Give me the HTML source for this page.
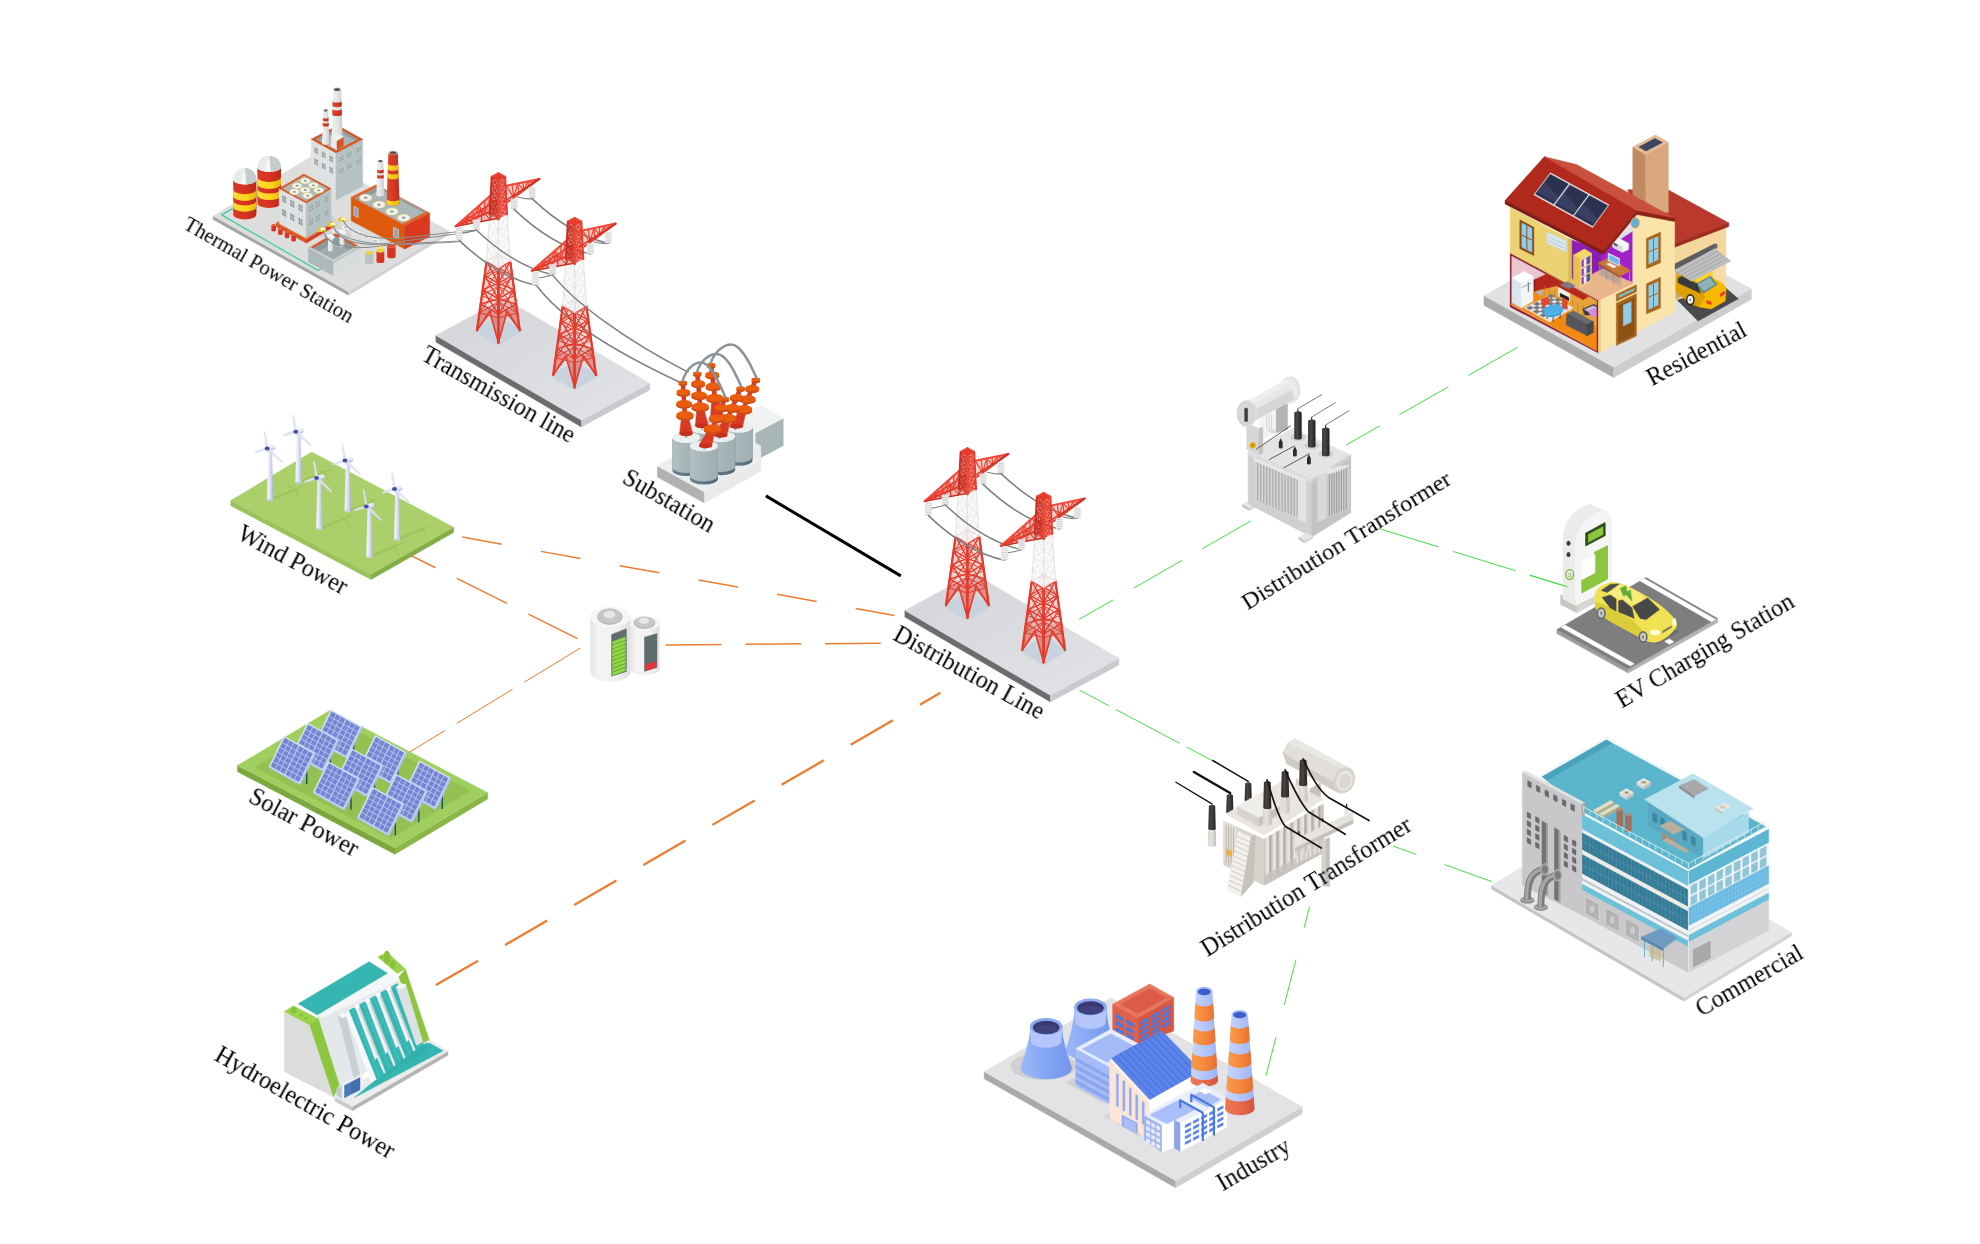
<!DOCTYPE html>
<html><head><meta charset="utf-8"><title>Power grid</title>
<style>
html,body{margin:0;padding:0;background:#fff;}
body{width:1980px;height:1244px;overflow:hidden;font-family:"Liberation Serif",serif;}
svg{display:block}
text{font-family:"Liberation Serif",serif;fill:#000}
</style></head><body>
<svg width="1980" height="1244" viewBox="0 0 1980 1244">
<defs><g id="tower">
<polygon points="-24.3,157.5 0,172.3 24.3,157.5 0,143.7" fill="#C9D2DF" stroke="#C9D2DF" stroke-width="0.5" stroke-linejoin="round"/>
<line x1="-11.8" y1="88" x2="0" y2="97.1" stroke="#C92F22" stroke-width="0.9" stroke-linecap="butt" />
<line x1="0" y1="81.2" x2="-14.2" y2="105.2" stroke="#C92F22" stroke-width="0.9" stroke-linecap="butt" />
<line x1="-11.8" y1="88" x2="0" y2="81.2" stroke="#C92F22" stroke-width="0.9" stroke-linecap="butt" />
<line x1="-14.2" y1="105.2" x2="0" y2="112.9" stroke="#C92F22" stroke-width="0.9" stroke-linecap="butt" />
<line x1="0" y1="97.1" x2="-16.6" y2="122.5" stroke="#C92F22" stroke-width="0.9" stroke-linecap="butt" />
<line x1="-14.2" y1="105.2" x2="0" y2="97.1" stroke="#C92F22" stroke-width="0.9" stroke-linecap="butt" />
<line x1="-16.6" y1="122.5" x2="0" y2="128.8" stroke="#C92F22" stroke-width="0.9" stroke-linecap="butt" />
<line x1="0" y1="112.9" x2="-18.9" y2="139.8" stroke="#C92F22" stroke-width="0.9" stroke-linecap="butt" />
<line x1="-16.6" y1="122.5" x2="0" y2="112.9" stroke="#C92F22" stroke-width="0.9" stroke-linecap="butt" />
<line x1="-18.9" y1="139.8" x2="0" y2="144.7" stroke="#C92F22" stroke-width="0.9" stroke-linecap="butt" />
<line x1="0" y1="128.8" x2="-21.3" y2="157" stroke="#C92F22" stroke-width="0.9" stroke-linecap="butt" />
<line x1="-18.9" y1="139.8" x2="0" y2="128.8" stroke="#C92F22" stroke-width="0.9" stroke-linecap="butt" />
<line x1="-11.8" y1="88" x2="-21.3" y2="157" stroke="#C92F22" stroke-width="1.6" stroke-linecap="round" />
<line x1="0" y1="81.2" x2="0" y2="144.7" stroke="#C92F22" stroke-width="1.6" stroke-linecap="round" />
<line x1="0" y1="81.2" x2="14.2" y2="105.2" stroke="#C92F22" stroke-width="0.9" stroke-linecap="butt" />
<line x1="11.8" y1="88" x2="0" y2="97.1" stroke="#C92F22" stroke-width="0.9" stroke-linecap="butt" />
<line x1="0" y1="81.2" x2="11.8" y2="88" stroke="#C92F22" stroke-width="0.9" stroke-linecap="butt" />
<line x1="0" y1="97.1" x2="16.6" y2="122.5" stroke="#C92F22" stroke-width="0.9" stroke-linecap="butt" />
<line x1="14.2" y1="105.2" x2="0" y2="112.9" stroke="#C92F22" stroke-width="0.9" stroke-linecap="butt" />
<line x1="0" y1="97.1" x2="14.2" y2="105.2" stroke="#C92F22" stroke-width="0.9" stroke-linecap="butt" />
<line x1="0" y1="112.9" x2="18.9" y2="139.8" stroke="#C92F22" stroke-width="0.9" stroke-linecap="butt" />
<line x1="16.6" y1="122.5" x2="0" y2="128.8" stroke="#C92F22" stroke-width="0.9" stroke-linecap="butt" />
<line x1="0" y1="112.9" x2="16.6" y2="122.5" stroke="#C92F22" stroke-width="0.9" stroke-linecap="butt" />
<line x1="0" y1="128.8" x2="21.3" y2="157" stroke="#C92F22" stroke-width="0.9" stroke-linecap="butt" />
<line x1="18.9" y1="139.8" x2="0" y2="144.7" stroke="#C92F22" stroke-width="0.9" stroke-linecap="butt" />
<line x1="0" y1="128.8" x2="18.9" y2="139.8" stroke="#C92F22" stroke-width="0.9" stroke-linecap="butt" />
<line x1="0" y1="81.2" x2="0" y2="144.7" stroke="#C92F22" stroke-width="1.6" stroke-linecap="round" />
<line x1="11.8" y1="88" x2="21.3" y2="157" stroke="#C92F22" stroke-width="1.6" stroke-linecap="round" />
<polygon points="-11.8,88 0,94.8 0,141 -17.7,130.8" fill="#E63A2B" fill-opacity="0.22"/>
<line x1="-11.8" y1="88" x2="0" y2="110.2" stroke="#E63A2B" stroke-width="1.4" stroke-linecap="butt" />
<line x1="0" y1="94.8" x2="-13.8" y2="102.3" stroke="#E63A2B" stroke-width="1.4" stroke-linecap="butt" />
<line x1="-11.8" y1="88" x2="0" y2="94.8" stroke="#E63A2B" stroke-width="1.4" stroke-linecap="butt" />
<line x1="-13.8" y1="102.3" x2="0" y2="125.6" stroke="#E63A2B" stroke-width="1.4" stroke-linecap="butt" />
<line x1="0" y1="110.2" x2="-15.7" y2="116.5" stroke="#E63A2B" stroke-width="1.4" stroke-linecap="butt" />
<line x1="-13.8" y1="102.3" x2="0" y2="110.2" stroke="#E63A2B" stroke-width="1.4" stroke-linecap="butt" />
<line x1="-15.7" y1="116.5" x2="0" y2="141" stroke="#E63A2B" stroke-width="1.4" stroke-linecap="butt" />
<line x1="0" y1="125.6" x2="-17.7" y2="130.8" stroke="#E63A2B" stroke-width="1.4" stroke-linecap="butt" />
<line x1="-15.7" y1="116.5" x2="0" y2="125.6" stroke="#E63A2B" stroke-width="1.4" stroke-linecap="butt" />
<line x1="-11.8" y1="88" x2="-17.7" y2="130.8" stroke="#E63A2B" stroke-width="2.2" stroke-linecap="round" />
<line x1="0" y1="94.8" x2="0" y2="141" stroke="#E63A2B" stroke-width="2.2" stroke-linecap="round" />
<polygon points="-17.7,130.8 -8.8,137.9 -21.3,157" fill="#E63A2B" fill-opacity="0.45"/>
<polygon points="0,141 -8.8,137.9 0,169.3" fill="#E63A2B" fill-opacity="0.45"/>
<line x1="-8.8" y1="137.9" x2="-21.3" y2="157" stroke="#E63A2B" stroke-width="1.6" stroke-linecap="round" />
<line x1="-8.8" y1="137.9" x2="0" y2="169.3" stroke="#E63A2B" stroke-width="1.6" stroke-linecap="round" />
<line x1="-17.7" y1="130.8" x2="-21.3" y2="157" stroke="#E63A2B" stroke-width="2.4" stroke-linecap="round" />
<line x1="0" y1="141" x2="0" y2="169.3" stroke="#E63A2B" stroke-width="2.4" stroke-linecap="round" />
<line x1="-17.7" y1="130.8" x2="0" y2="141" stroke="#E63A2B" stroke-width="1.5" stroke-linecap="butt" />
<polygon points="0,94.8 11.8,88 17.7,130.8 0,141" fill="#E63A2B" fill-opacity="0.22"/>
<line x1="0" y1="94.8" x2="13.8" y2="102.3" stroke="#E63A2B" stroke-width="1.4" stroke-linecap="butt" />
<line x1="11.8" y1="88" x2="0" y2="110.2" stroke="#E63A2B" stroke-width="1.4" stroke-linecap="butt" />
<line x1="0" y1="94.8" x2="11.8" y2="88" stroke="#E63A2B" stroke-width="1.4" stroke-linecap="butt" />
<line x1="0" y1="110.2" x2="15.7" y2="116.5" stroke="#E63A2B" stroke-width="1.4" stroke-linecap="butt" />
<line x1="13.8" y1="102.3" x2="0" y2="125.6" stroke="#E63A2B" stroke-width="1.4" stroke-linecap="butt" />
<line x1="0" y1="110.2" x2="13.8" y2="102.3" stroke="#E63A2B" stroke-width="1.4" stroke-linecap="butt" />
<line x1="0" y1="125.6" x2="17.7" y2="130.8" stroke="#E63A2B" stroke-width="1.4" stroke-linecap="butt" />
<line x1="15.7" y1="116.5" x2="0" y2="141" stroke="#E63A2B" stroke-width="1.4" stroke-linecap="butt" />
<line x1="0" y1="125.6" x2="15.7" y2="116.5" stroke="#E63A2B" stroke-width="1.4" stroke-linecap="butt" />
<line x1="0" y1="94.8" x2="0" y2="141" stroke="#E63A2B" stroke-width="2.2" stroke-linecap="round" />
<line x1="11.8" y1="88" x2="17.7" y2="130.8" stroke="#E63A2B" stroke-width="2.2" stroke-linecap="round" />
<polygon points="0,141 8.8,137.9 0,169.3" fill="#E63A2B" fill-opacity="0.45"/>
<polygon points="17.7,130.8 8.8,137.9 21.3,157" fill="#E63A2B" fill-opacity="0.45"/>
<line x1="8.8" y1="137.9" x2="0" y2="169.3" stroke="#E63A2B" stroke-width="1.6" stroke-linecap="round" />
<line x1="8.8" y1="137.9" x2="21.3" y2="157" stroke="#E63A2B" stroke-width="1.6" stroke-linecap="round" />
<line x1="0" y1="141" x2="0" y2="169.3" stroke="#E63A2B" stroke-width="2.4" stroke-linecap="round" />
<line x1="17.7" y1="130.8" x2="21.3" y2="157" stroke="#E63A2B" stroke-width="2.4" stroke-linecap="round" />
<line x1="0" y1="141" x2="17.7" y2="130.8" stroke="#E63A2B" stroke-width="1.5" stroke-linecap="butt" />
<polygon points="-8.7,41 0,46 8.7,41 11.8,88 0,94.8 -11.8,88" fill="#FAFAFA" fill-opacity="0.8"/>
<line x1="-8.7" y1="41" x2="0" y2="58.2" stroke="#E4E4E4" stroke-width="0.8" stroke-linecap="butt" />
<line x1="0" y1="46" x2="-9.4" y2="52.8" stroke="#E4E4E4" stroke-width="0.8" stroke-linecap="butt" />
<line x1="-8.7" y1="41" x2="0" y2="46" stroke="#E4E4E4" stroke-width="0.8" stroke-linecap="butt" />
<line x1="-9.4" y1="52.8" x2="0" y2="70.4" stroke="#E4E4E4" stroke-width="0.8" stroke-linecap="butt" />
<line x1="0" y1="58.2" x2="-10.2" y2="64.5" stroke="#E4E4E4" stroke-width="0.8" stroke-linecap="butt" />
<line x1="-9.4" y1="52.8" x2="0" y2="58.2" stroke="#E4E4E4" stroke-width="0.8" stroke-linecap="butt" />
<line x1="-10.2" y1="64.5" x2="0" y2="82.6" stroke="#E4E4E4" stroke-width="0.8" stroke-linecap="butt" />
<line x1="0" y1="70.4" x2="-11" y2="76.2" stroke="#E4E4E4" stroke-width="0.8" stroke-linecap="butt" />
<line x1="-10.2" y1="64.5" x2="0" y2="70.4" stroke="#E4E4E4" stroke-width="0.8" stroke-linecap="butt" />
<line x1="-11" y1="76.2" x2="0" y2="94.8" stroke="#E4E4E4" stroke-width="0.8" stroke-linecap="butt" />
<line x1="0" y1="82.6" x2="-11.8" y2="88" stroke="#E4E4E4" stroke-width="0.8" stroke-linecap="butt" />
<line x1="-11" y1="76.2" x2="0" y2="82.6" stroke="#E4E4E4" stroke-width="0.8" stroke-linecap="butt" />
<line x1="-8.7" y1="41" x2="-11.8" y2="88" stroke="#E4E4E4" stroke-width="1.2" stroke-linecap="round" />
<line x1="0" y1="46" x2="0" y2="94.8" stroke="#E4E4E4" stroke-width="1.2" stroke-linecap="round" />
<line x1="0" y1="46" x2="9.4" y2="52.8" stroke="#E4E4E4" stroke-width="0.8" stroke-linecap="butt" />
<line x1="8.7" y1="41" x2="0" y2="58.2" stroke="#E4E4E4" stroke-width="0.8" stroke-linecap="butt" />
<line x1="0" y1="46" x2="8.7" y2="41" stroke="#E4E4E4" stroke-width="0.8" stroke-linecap="butt" />
<line x1="0" y1="58.2" x2="10.2" y2="64.5" stroke="#E4E4E4" stroke-width="0.8" stroke-linecap="butt" />
<line x1="9.4" y1="52.8" x2="0" y2="70.4" stroke="#E4E4E4" stroke-width="0.8" stroke-linecap="butt" />
<line x1="0" y1="58.2" x2="9.4" y2="52.8" stroke="#E4E4E4" stroke-width="0.8" stroke-linecap="butt" />
<line x1="0" y1="70.4" x2="11" y2="76.2" stroke="#E4E4E4" stroke-width="0.8" stroke-linecap="butt" />
<line x1="10.2" y1="64.5" x2="0" y2="82.6" stroke="#E4E4E4" stroke-width="0.8" stroke-linecap="butt" />
<line x1="0" y1="70.4" x2="10.2" y2="64.5" stroke="#E4E4E4" stroke-width="0.8" stroke-linecap="butt" />
<line x1="0" y1="82.6" x2="11.8" y2="88" stroke="#E4E4E4" stroke-width="0.8" stroke-linecap="butt" />
<line x1="11" y1="76.2" x2="0" y2="94.8" stroke="#E4E4E4" stroke-width="0.8" stroke-linecap="butt" />
<line x1="0" y1="82.6" x2="11" y2="76.2" stroke="#E4E4E4" stroke-width="0.8" stroke-linecap="butt" />
<line x1="0" y1="46" x2="0" y2="94.8" stroke="#E4E4E4" stroke-width="1.2" stroke-linecap="round" />
<line x1="8.7" y1="41" x2="11.8" y2="88" stroke="#E4E4E4" stroke-width="1.2" stroke-linecap="round" />
<polygon points="-42.7,53 0.2,25.5 0.4,45" fill="#C92F22" fill-opacity="0.35"/>
<line x1="-8.5" y1="31.1" x2="-8.4" y2="46.6" stroke="#C92F22" stroke-width="1" stroke-linecap="butt" />
<line x1="0.2" y1="25.5" x2="-8.4" y2="46.6" stroke="#C92F22" stroke-width="1" stroke-linecap="butt" />
<line x1="-16.9" y1="36.4" x2="-16.7" y2="48.2" stroke="#C92F22" stroke-width="1" stroke-linecap="butt" />
<line x1="-8.4" y1="46.6" x2="-16.9" y2="36.4" stroke="#C92F22" stroke-width="1" stroke-linecap="butt" />
<line x1="-24.7" y1="41.4" x2="-24.6" y2="49.6" stroke="#C92F22" stroke-width="1" stroke-linecap="butt" />
<line x1="-16.9" y1="36.4" x2="-24.6" y2="49.6" stroke="#C92F22" stroke-width="1" stroke-linecap="butt" />
<line x1="-31.8" y1="46" x2="-31.8" y2="51" stroke="#C92F22" stroke-width="1" stroke-linecap="butt" />
<line x1="-24.6" y1="49.6" x2="-31.8" y2="46" stroke="#C92F22" stroke-width="1" stroke-linecap="butt" />
<line x1="-38.1" y1="50.1" x2="-38.1" y2="52.1" stroke="#C92F22" stroke-width="1" stroke-linecap="butt" />
<line x1="-31.8" y1="46" x2="-38.1" y2="52.1" stroke="#C92F22" stroke-width="1" stroke-linecap="butt" />
<line x1="-38.1" y1="52.1" x2="-42.7" y2="53" stroke="#C92F22" stroke-width="1" stroke-linecap="butt" />
<line x1="-42.7" y1="53" x2="0.2" y2="25.5" stroke="#C92F22" stroke-width="1.5" stroke-linecap="round" />
<line x1="-42.7" y1="53" x2="0.4" y2="45" stroke="#C92F22" stroke-width="1.5" stroke-linecap="round" />
<polygon points="-42.7,53 -7.1,21.7 -8.3,38.6" fill="#E63A2B" fill-opacity="0.25"/>
<line x1="-13.3" y1="27.2" x2="-14.3" y2="41.1" stroke="#F04A38" stroke-width="1.4" stroke-linecap="butt" />
<line x1="-7.1" y1="21.7" x2="-14.3" y2="41.1" stroke="#F04A38" stroke-width="1.4" stroke-linecap="butt" />
<line x1="-19.3" y1="32.4" x2="-20.1" y2="43.5" stroke="#F04A38" stroke-width="1.4" stroke-linecap="butt" />
<line x1="-14.3" y1="41.1" x2="-19.3" y2="32.4" stroke="#F04A38" stroke-width="1.4" stroke-linecap="butt" />
<line x1="-25" y1="37.4" x2="-25.6" y2="45.8" stroke="#F04A38" stroke-width="1.4" stroke-linecap="butt" />
<line x1="-19.3" y1="32.4" x2="-25.6" y2="45.8" stroke="#F04A38" stroke-width="1.4" stroke-linecap="butt" />
<line x1="-30.4" y1="42.1" x2="-30.8" y2="48" stroke="#F04A38" stroke-width="1.4" stroke-linecap="butt" />
<line x1="-25.6" y1="45.8" x2="-30.4" y2="42.1" stroke="#F04A38" stroke-width="1.4" stroke-linecap="butt" />
<line x1="-35.3" y1="46.5" x2="-35.5" y2="50" stroke="#F04A38" stroke-width="1.4" stroke-linecap="butt" />
<line x1="-30.4" y1="42.1" x2="-35.5" y2="50" stroke="#F04A38" stroke-width="1.4" stroke-linecap="butt" />
<line x1="-39.6" y1="50.3" x2="-39.7" y2="51.7" stroke="#F04A38" stroke-width="1.4" stroke-linecap="butt" />
<line x1="-35.5" y1="50" x2="-39.6" y2="50.3" stroke="#F04A38" stroke-width="1.4" stroke-linecap="butt" />
<line x1="-39.6" y1="50.3" x2="-42.7" y2="53" stroke="#F04A38" stroke-width="1.4" stroke-linecap="butt" />
<line x1="-42.7" y1="53" x2="-7.1" y2="21.7" stroke="#F04A38" stroke-width="2.1" stroke-linecap="round" />
<line x1="-42.7" y1="53" x2="-8.3" y2="38.6" stroke="#E63A2B" stroke-width="2.1" stroke-linecap="round" />
<polygon points="41,5.7 8,12.5 9.7,28.6" fill="#E63A2B" fill-opacity="0.25"/>
<line x1="13.8" y1="11.3" x2="15.2" y2="24.6" stroke="#F04A38" stroke-width="1.3" stroke-linecap="butt" />
<line x1="8" y1="12.5" x2="15.2" y2="24.6" stroke="#F04A38" stroke-width="1.3" stroke-linecap="butt" />
<line x1="19.3" y1="10.2" x2="20.4" y2="20.7" stroke="#F04A38" stroke-width="1.3" stroke-linecap="butt" />
<line x1="15.2" y1="24.6" x2="19.3" y2="10.2" stroke="#F04A38" stroke-width="1.3" stroke-linecap="butt" />
<line x1="24.6" y1="9.1" x2="25.4" y2="17.1" stroke="#F04A38" stroke-width="1.3" stroke-linecap="butt" />
<line x1="19.3" y1="10.2" x2="25.4" y2="17.1" stroke="#F04A38" stroke-width="1.3" stroke-linecap="butt" />
<line x1="29.6" y1="8.1" x2="30.1" y2="13.6" stroke="#F04A38" stroke-width="1.3" stroke-linecap="butt" />
<line x1="25.4" y1="17.1" x2="29.6" y2="8.1" stroke="#F04A38" stroke-width="1.3" stroke-linecap="butt" />
<line x1="34.1" y1="7.1" x2="34.5" y2="10.5" stroke="#F04A38" stroke-width="1.3" stroke-linecap="butt" />
<line x1="29.6" y1="8.1" x2="34.5" y2="10.5" stroke="#F04A38" stroke-width="1.3" stroke-linecap="butt" />
<line x1="38.1" y1="6.3" x2="38.3" y2="7.7" stroke="#F04A38" stroke-width="1.3" stroke-linecap="butt" />
<line x1="34.5" y1="10.5" x2="38.1" y2="6.3" stroke="#F04A38" stroke-width="1.3" stroke-linecap="butt" />
<line x1="38.1" y1="6.3" x2="41" y2="5.7" stroke="#F04A38" stroke-width="1.3" stroke-linecap="butt" />
<line x1="41" y1="5.7" x2="8" y2="12.5" stroke="#F04A38" stroke-width="2" stroke-linecap="round" />
<line x1="41" y1="5.7" x2="9.7" y2="28.6" stroke="#E63A2B" stroke-width="2" stroke-linecap="round" />
<line x1="41" y1="5.7" x2="4.6" y2="29" stroke="#C92F22" stroke-width="1.3" stroke-linecap="butt" />
<polygon points="-6.8,3.5 0,7.4 0,46 -8.7,41" fill="#C92F22" fill-opacity="0.62"/>
<polygon points="0,7.4 6.8,3.5 8.7,41 0,46" fill="#E63A2B" fill-opacity="0.62"/>
<line x1="-6.8" y1="3.5" x2="0" y2="15.1" stroke="#C92F22" stroke-width="1.1" stroke-linecap="butt" />
<line x1="0" y1="7.4" x2="-7.2" y2="11" stroke="#C92F22" stroke-width="1.1" stroke-linecap="butt" />
<line x1="-6.8" y1="3.5" x2="0" y2="7.4" stroke="#C92F22" stroke-width="1.1" stroke-linecap="butt" />
<line x1="-7.2" y1="11" x2="0" y2="22.9" stroke="#C92F22" stroke-width="1.1" stroke-linecap="butt" />
<line x1="0" y1="15.1" x2="-7.5" y2="18.5" stroke="#C92F22" stroke-width="1.1" stroke-linecap="butt" />
<line x1="-7.2" y1="11" x2="0" y2="15.1" stroke="#C92F22" stroke-width="1.1" stroke-linecap="butt" />
<line x1="-7.5" y1="18.5" x2="0" y2="30.6" stroke="#C92F22" stroke-width="1.1" stroke-linecap="butt" />
<line x1="0" y1="22.9" x2="-7.9" y2="26" stroke="#C92F22" stroke-width="1.1" stroke-linecap="butt" />
<line x1="-7.5" y1="18.5" x2="0" y2="22.9" stroke="#C92F22" stroke-width="1.1" stroke-linecap="butt" />
<line x1="-7.9" y1="26" x2="0" y2="38.3" stroke="#C92F22" stroke-width="1.1" stroke-linecap="butt" />
<line x1="0" y1="30.6" x2="-8.3" y2="33.5" stroke="#C92F22" stroke-width="1.1" stroke-linecap="butt" />
<line x1="-7.9" y1="26" x2="0" y2="30.6" stroke="#C92F22" stroke-width="1.1" stroke-linecap="butt" />
<line x1="-8.3" y1="33.5" x2="0" y2="46" stroke="#C92F22" stroke-width="1.1" stroke-linecap="butt" />
<line x1="0" y1="38.3" x2="-8.7" y2="41" stroke="#C92F22" stroke-width="1.1" stroke-linecap="butt" />
<line x1="-8.3" y1="33.5" x2="0" y2="38.3" stroke="#C92F22" stroke-width="1.1" stroke-linecap="butt" />
<line x1="-6.8" y1="3.5" x2="-8.7" y2="41" stroke="#C92F22" stroke-width="1.9" stroke-linecap="round" />
<line x1="0" y1="7.4" x2="0" y2="46" stroke="#C92F22" stroke-width="1.9" stroke-linecap="round" />
<line x1="0" y1="7.4" x2="7.2" y2="11" stroke="#E63A2B" stroke-width="1.1" stroke-linecap="butt" />
<line x1="6.8" y1="3.5" x2="0" y2="15.1" stroke="#E63A2B" stroke-width="1.1" stroke-linecap="butt" />
<line x1="0" y1="7.4" x2="6.8" y2="3.5" stroke="#E63A2B" stroke-width="1.1" stroke-linecap="butt" />
<line x1="0" y1="15.1" x2="7.5" y2="18.5" stroke="#E63A2B" stroke-width="1.1" stroke-linecap="butt" />
<line x1="7.2" y1="11" x2="0" y2="22.9" stroke="#E63A2B" stroke-width="1.1" stroke-linecap="butt" />
<line x1="0" y1="15.1" x2="7.2" y2="11" stroke="#E63A2B" stroke-width="1.1" stroke-linecap="butt" />
<line x1="0" y1="22.9" x2="7.9" y2="26" stroke="#E63A2B" stroke-width="1.1" stroke-linecap="butt" />
<line x1="7.5" y1="18.5" x2="0" y2="30.6" stroke="#E63A2B" stroke-width="1.1" stroke-linecap="butt" />
<line x1="0" y1="22.9" x2="7.5" y2="18.5" stroke="#E63A2B" stroke-width="1.1" stroke-linecap="butt" />
<line x1="0" y1="30.6" x2="8.3" y2="33.5" stroke="#E63A2B" stroke-width="1.1" stroke-linecap="butt" />
<line x1="7.9" y1="26" x2="0" y2="38.3" stroke="#E63A2B" stroke-width="1.1" stroke-linecap="butt" />
<line x1="0" y1="30.6" x2="7.9" y2="26" stroke="#E63A2B" stroke-width="1.1" stroke-linecap="butt" />
<line x1="0" y1="38.3" x2="8.7" y2="41" stroke="#E63A2B" stroke-width="1.1" stroke-linecap="butt" />
<line x1="8.3" y1="33.5" x2="0" y2="46" stroke="#E63A2B" stroke-width="1.1" stroke-linecap="butt" />
<line x1="0" y1="38.3" x2="8.3" y2="33.5" stroke="#E63A2B" stroke-width="1.1" stroke-linecap="butt" />
<line x1="0" y1="7.4" x2="0" y2="46" stroke="#E63A2B" stroke-width="1.9" stroke-linecap="round" />
<line x1="6.8" y1="3.5" x2="8.7" y2="41" stroke="#E63A2B" stroke-width="1.9" stroke-linecap="round" />
<line x1="0" y1="7.4" x2="0" y2="46" stroke="#F04A38" stroke-width="2" stroke-linecap="round" />
<polygon points="-6.8,3.5 0,-0.3 6.8,3.5 0,7.4" fill="#E63A2B" stroke="#E63A2B" stroke-width="0.5" stroke-linejoin="round"/>
<line x1="-6.8" y1="3.5" x2="0" y2="-0.3" stroke="#F04A38" stroke-width="1.4" stroke-linecap="round" />
<line x1="6.8" y1="3.5" x2="0" y2="-0.3" stroke="#F04A38" stroke-width="1.4" stroke-linecap="round" />
<rect x="-42.2" y="53.8" width="6.4" height="13.6" fill="#f3f3f3"/>
<line x1="-41.9" y1="55" x2="-36.1" y2="55" stroke="#c9c9c9" stroke-width="0.8" stroke-linecap="butt" />
<line x1="-41.9" y1="57.3" x2="-36.1" y2="57.3" stroke="#c9c9c9" stroke-width="0.8" stroke-linecap="butt" />
<line x1="-41.9" y1="59.6" x2="-36.1" y2="59.6" stroke="#c9c9c9" stroke-width="0.8" stroke-linecap="butt" />
<line x1="-41.9" y1="62" x2="-36.1" y2="62" stroke="#c9c9c9" stroke-width="0.8" stroke-linecap="butt" />
<line x1="-41.9" y1="64.3" x2="-36.1" y2="64.3" stroke="#c9c9c9" stroke-width="0.8" stroke-linecap="butt" />
<line x1="-41.9" y1="66.6" x2="-36.1" y2="66.6" stroke="#c9c9c9" stroke-width="0.8" stroke-linecap="butt" />
<line x1="-42.2" y1="53.8" x2="-42.2" y2="67.4" stroke="#e2e2e2" stroke-width="0.6" stroke-linecap="butt" />
<line x1="-35.8" y1="53.8" x2="-35.8" y2="67.4" stroke="#e2e2e2" stroke-width="0.6" stroke-linecap="butt" />
<rect x="-25.2" y="46.4" width="6.4" height="10.4" fill="#f3f3f3"/>
<line x1="-24.9" y1="47.6" x2="-19.1" y2="47.6" stroke="#c9c9c9" stroke-width="0.8" stroke-linecap="butt" />
<line x1="-24.9" y1="49.3" x2="-19.1" y2="49.3" stroke="#c9c9c9" stroke-width="0.8" stroke-linecap="butt" />
<line x1="-24.9" y1="51" x2="-19.1" y2="51" stroke="#c9c9c9" stroke-width="0.8" stroke-linecap="butt" />
<line x1="-24.9" y1="52.6" x2="-19.1" y2="52.6" stroke="#c9c9c9" stroke-width="0.8" stroke-linecap="butt" />
<line x1="-24.9" y1="54.3" x2="-19.1" y2="54.3" stroke="#c9c9c9" stroke-width="0.8" stroke-linecap="butt" />
<line x1="-24.9" y1="56" x2="-19.1" y2="56" stroke="#c9c9c9" stroke-width="0.8" stroke-linecap="butt" />
<line x1="-25.2" y1="46.4" x2="-25.2" y2="56.8" stroke="#e2e2e2" stroke-width="0.6" stroke-linecap="butt" />
<line x1="-18.8" y1="46.4" x2="-18.8" y2="56.8" stroke="#e2e2e2" stroke-width="0.6" stroke-linecap="butt" />
<rect x="12.5" y="25.4" width="6.4" height="10.8" fill="#f3f3f3"/>
<line x1="12.8" y1="26.6" x2="18.6" y2="26.6" stroke="#c9c9c9" stroke-width="0.8" stroke-linecap="butt" />
<line x1="12.8" y1="28.4" x2="18.6" y2="28.4" stroke="#c9c9c9" stroke-width="0.8" stroke-linecap="butt" />
<line x1="12.8" y1="30.1" x2="18.6" y2="30.1" stroke="#c9c9c9" stroke-width="0.8" stroke-linecap="butt" />
<line x1="12.8" y1="31.9" x2="18.6" y2="31.9" stroke="#c9c9c9" stroke-width="0.8" stroke-linecap="butt" />
<line x1="12.8" y1="33.6" x2="18.6" y2="33.6" stroke="#c9c9c9" stroke-width="0.8" stroke-linecap="butt" />
<line x1="12.8" y1="35.4" x2="18.6" y2="35.4" stroke="#c9c9c9" stroke-width="0.8" stroke-linecap="butt" />
<line x1="12.5" y1="25.4" x2="12.5" y2="36.2" stroke="#e2e2e2" stroke-width="0.6" stroke-linecap="butt" />
<line x1="18.9" y1="25.4" x2="18.9" y2="36.2" stroke="#e2e2e2" stroke-width="0.6" stroke-linecap="butt" />
<rect x="30.5" y="14" width="6.4" height="11.4" fill="#f3f3f3"/>
<line x1="30.8" y1="15.2" x2="36.6" y2="15.2" stroke="#c9c9c9" stroke-width="0.8" stroke-linecap="butt" />
<line x1="30.8" y1="17.1" x2="36.6" y2="17.1" stroke="#c9c9c9" stroke-width="0.8" stroke-linecap="butt" />
<line x1="30.8" y1="19" x2="36.6" y2="19" stroke="#c9c9c9" stroke-width="0.8" stroke-linecap="butt" />
<line x1="30.8" y1="20.8" x2="36.6" y2="20.8" stroke="#c9c9c9" stroke-width="0.8" stroke-linecap="butt" />
<line x1="30.8" y1="22.7" x2="36.6" y2="22.7" stroke="#c9c9c9" stroke-width="0.8" stroke-linecap="butt" />
<line x1="30.8" y1="24.6" x2="36.6" y2="24.6" stroke="#c9c9c9" stroke-width="0.8" stroke-linecap="butt" />
<line x1="30.5" y1="14" x2="30.5" y2="25.4" stroke="#e2e2e2" stroke-width="0.6" stroke-linecap="butt" />
<line x1="36.9" y1="14" x2="36.9" y2="25.4" stroke="#e2e2e2" stroke-width="0.6" stroke-linecap="butt" />
</g>
</defs>
<!-- lines -->
<line x1="462.2" y1="537.1" x2="894.4" y2="615.5" stroke="#ED7D31" stroke-width="1.5" stroke-linecap="butt" stroke-dasharray="40.2 39.8" stroke-dashoffset="0"/>
<line x1="385.3" y1="542.7" x2="577.6" y2="638.7" stroke="#ED7D31" stroke-width="1.5" stroke-linecap="butt" stroke-dasharray="56 24" stroke-dashoffset="0"/>
<line x1="665.8" y1="644.9" x2="880.8" y2="643.2" stroke="#ED7D31" stroke-width="1.5" stroke-linecap="butt" stroke-dasharray="55.5 24.2" stroke-dashoffset="0"/>
<line x1="580.4" y1="648" x2="398" y2="759.1" stroke="#ED7D31" stroke-width="1" stroke-linecap="butt" stroke-dasharray="65.4 14" stroke-dashoffset="0"/>
<line x1="435.9" y1="985.1" x2="940.4" y2="692.8" stroke="#ED7D31" stroke-width="2.3" stroke-linecap="butt" stroke-dasharray="48.8 31.1" stroke-dashoffset="0"/>
<line x1="1079.1" y1="619.4" x2="1251.7" y2="520.4" stroke="#48DE48" stroke-width="1" stroke-linecap="butt" stroke-dasharray="56 23.4" stroke-dashoffset="16.8"/>
<line x1="1346.3" y1="444.9" x2="1519" y2="346.5" stroke="#48DE48" stroke-width="1" stroke-linecap="butt" stroke-dasharray="56.4 23" stroke-dashoffset="18.3"/>
<line x1="1379.1" y1="528.6" x2="1567.2" y2="586.7" stroke="#48DE48" stroke-width="1" stroke-linecap="butt" stroke-dasharray="65 15.5" stroke-dashoffset="3"/>
<line x1="1079.4" y1="690.1" x2="1219.1" y2="764.3" stroke="#48DE48" stroke-width="1" stroke-linecap="butt" stroke-dasharray="72.2 7.6" stroke-dashoffset="38.5"/>
<line x1="1393" y1="846.1" x2="1491.8" y2="881.6" stroke="#48DE48" stroke-width="1" stroke-linecap="butt" stroke-dasharray="50.4 30" stroke-dashoffset="25.8"/>
<line x1="1309.6" y1="906.5" x2="1266.1" y2="1075.5" stroke="#48DE48" stroke-width="1" stroke-linecap="butt" stroke-dasharray="46.7 33" stroke-dashoffset="24.8"/>
<line x1="765.9" y1="495.9" x2="900.8" y2="575.9" stroke="#000" stroke-width="3" stroke-linecap="butt" />
<!-- thermal -->
<defs><linearGradient id="g101" x1="0" y1="0" x2="1" y2="0"><stop offset="0" stop-color="#D93A25"/><stop offset="0.55" stop-color="#D6331F"/><stop offset="1" stop-color="#B92A18"/></linearGradient><linearGradient id="g102" x1="0" y1="0" x2="1" y2="0"><stop offset="0" stop-color="#FFDD33"/><stop offset="0.6" stop-color="#FCD21C"/><stop offset="1" stop-color="#E3B50F"/></linearGradient><linearGradient id="g103" x1="0" y1="0" x2="1" y2="0"><stop offset="0" stop-color="#F1F1F1"/><stop offset="0.5" stop-color="#E6E6E6"/><stop offset="1" stop-color="#C9CDCE"/></linearGradient><linearGradient id="g104" x1="0" y1="0" x2="1" y2="0"><stop offset="0" stop-color="#E04530"/><stop offset="0.5" stop-color="#D63A25"/><stop offset="1" stop-color="#B83020"/></linearGradient><linearGradient id="g105" x1="0" y1="0" x2="1" y2="0"><stop offset="0" stop-color="#FFD92E"/><stop offset="1" stop-color="#E8B80F"/></linearGradient></defs>
<polygon points="213.2,216.1 348.5,291.8 348.5,295.2 213.2,219.5" fill="#A3A3A4" stroke="#A3A3A4" stroke-width="0.5" stroke-linejoin="round"/>
<polygon points="348.5,291.8 448.8,231 448.8,234.4 348.5,295.2" fill="#D0D0D1" stroke="#D0D0D1" stroke-width="0.5" stroke-linejoin="round"/>
<polygon points="213.2,216.1 348.5,291.8 448.8,231 313.5,155.3" fill="#DDDDDE" stroke="#DDDDDE" stroke-width="0.5" stroke-linejoin="round"/>
<polygon points="300,226 336,245 352,236 330,214" fill="#D2D3D4" stroke="#D2D3D4" stroke-width="0.5" stroke-linejoin="round"/>
<polyline points="232.5,208.6 221.6,214.9 318,270.4 321.6,268.4" fill="none" stroke="#3FCFA2" stroke-width="1.3" stroke-linecap="butt" stroke-linejoin="round" />
<path d="M257.4,166.9 L257.4,203 A11.8,5 0 0 0 281,203 L281,166.9 A11.8,5 0 0 1 257.4,166.9 Z" fill="url(#g101)"/>
<path d="M257.4,177 A11.8,5 0 0 0 281,177 L281,183.9 A11.8,5 0 0 1 257.4,183.9 Z" fill="url(#g102)"/>
<path d="M257.4,188.6 A11.8,5 0 0 0 281,188.6 L281,195.1 A11.8,5 0 0 1 257.4,195.1 Z" fill="url(#g102)"/>
<path d="M257.4,166.9 A11.8,5 0 0 0 281,166.9 C281,160.9 276.3,156 269.2,156 C262.1,156 257.4,160.9 257.4,166.9 Z" fill="#E9EAEA"/>
<path d="M269.2,156 L270.7,171.9 A11.8,5 0 0 0 281,166.9 C281,160.9 276.3,156 269.2,156 Z" fill="#C6CBCD"/>
<path d="M269.2,156 L264.7,171.1 L270.7,171.9 Z" fill="#F6F6F6"/>
<path d="M233.2,179.5 L233.2,214.6 A11.6,4.9 0 0 0 256.4,214.6 L256.4,179.5 A11.6,4.9 0 0 1 233.2,179.5 Z" fill="url(#g101)"/>
<path d="M233.2,189.3 A11.6,4.9 0 0 0 256.4,189.3 L256.4,196 A11.6,4.9 0 0 1 233.2,196 Z" fill="url(#g102)"/>
<path d="M233.2,200.6 A11.6,4.9 0 0 0 256.4,200.6 L256.4,206.9 A11.6,4.9 0 0 1 233.2,206.9 Z" fill="url(#g102)"/>
<path d="M233.2,179.5 A11.6,4.9 0 0 0 256.4,179.5 C256.4,173.5 251.8,168.1 244.8,168.1 C237.8,168.1 233.2,173.5 233.2,179.5 Z" fill="#E9EAEA"/>
<path d="M244.8,168.1 L246.3,184.4 A11.6,4.9 0 0 0 256.4,179.5 C256.4,173.5 251.8,168.1 244.8,168.1 Z" fill="#C6CBCD"/>
<path d="M244.8,168.1 L240.3,183.6 L246.3,184.4 Z" fill="#F6F6F6"/>
<polygon points="311.1,139.2 336,152.9 336,199.9 311.1,186.2" fill="#DEE2E3" stroke="#DEE2E3" stroke-width="0.5" stroke-linejoin="round"/>
<polygon points="336,152.9 362.6,139.2 362.6,186.2 336,199.9" fill="#B6C1C3" stroke="#B6C1C3" stroke-width="0.5" stroke-linejoin="round"/>
<polygon points="311.1,139.2 336,152.9 362.6,139.2 337.7,125.5" fill="#D8541F" stroke="#D8541F" stroke-width="0.5" stroke-linejoin="round"/>
<polygon points="337.5,128.2 357.4,139.2 336.2,150.2 316.3,139.2" fill="#A9B4B6" stroke="#A9B4B6" stroke-width="0.5" stroke-linejoin="round"/>
<polygon points="337.5,128.2 357.4,139.2 355.3,140.3 337.4,130.4 318.2,140.3 316.3,139.2" fill="#8F9A9D" stroke="#8F9A9D" stroke-width="0.5" stroke-linejoin="round"/>
<polygon points="314.1,146.5 318.3,148.8 318.3,154.9 314.1,152.6" fill="#8E999C" stroke="#EEF0F0" stroke-width="0.5" stroke-linejoin="round"/>
<line x1="316.2" y1="147.6" x2="316.2" y2="153.8" stroke="#EEF0F0" stroke-width="0.4" stroke-linecap="butt" />
<line x1="314.1" y1="149.5" x2="318.3" y2="151.9" stroke="#EEF0F0" stroke-width="0.4" stroke-linecap="butt" />
<polygon points="314.1,157.8 318.3,160.1 318.3,166.2 314.1,163.9" fill="#8E999C" stroke="#EEF0F0" stroke-width="0.5" stroke-linejoin="round"/>
<line x1="316.2" y1="158.9" x2="316.2" y2="165" stroke="#EEF0F0" stroke-width="0.4" stroke-linecap="butt" />
<line x1="314.1" y1="160.8" x2="318.3" y2="163.1" stroke="#EEF0F0" stroke-width="0.4" stroke-linecap="butt" />
<polygon points="321.6,150.6 325.8,152.9 325.8,159 321.6,156.7" fill="#8E999C" stroke="#EEF0F0" stroke-width="0.5" stroke-linejoin="round"/>
<line x1="323.7" y1="151.8" x2="323.7" y2="157.9" stroke="#EEF0F0" stroke-width="0.4" stroke-linecap="butt" />
<line x1="321.6" y1="153.6" x2="325.8" y2="156" stroke="#EEF0F0" stroke-width="0.4" stroke-linecap="butt" />
<polygon points="321.6,161.9 325.8,164.2 325.8,170.3 321.6,168" fill="#8E999C" stroke="#EEF0F0" stroke-width="0.5" stroke-linejoin="round"/>
<line x1="323.7" y1="163" x2="323.7" y2="169.1" stroke="#EEF0F0" stroke-width="0.4" stroke-linecap="butt" />
<line x1="321.6" y1="164.9" x2="325.8" y2="167.3" stroke="#EEF0F0" stroke-width="0.4" stroke-linecap="butt" />
<polygon points="329,154.7 333.3,157 333.3,163.1 329,160.8" fill="#8E999C" stroke="#EEF0F0" stroke-width="0.5" stroke-linejoin="round"/>
<line x1="331.1" y1="155.9" x2="331.1" y2="162" stroke="#EEF0F0" stroke-width="0.4" stroke-linecap="butt" />
<line x1="329" y1="157.8" x2="333.3" y2="160.1" stroke="#EEF0F0" stroke-width="0.4" stroke-linecap="butt" />
<polygon points="329,166 333.3,168.3 333.3,174.4 329,172.1" fill="#8E999C" stroke="#EEF0F0" stroke-width="0.5" stroke-linejoin="round"/>
<line x1="331.1" y1="167.1" x2="331.1" y2="173.3" stroke="#EEF0F0" stroke-width="0.4" stroke-linecap="butt" />
<line x1="329" y1="169" x2="333.3" y2="171.4" stroke="#EEF0F0" stroke-width="0.4" stroke-linecap="butt" />
<polygon points="338.7,157.2 344,154.4 344,160.1 338.7,162.8" fill="#9BA7A9" stroke="#CDD4D5" stroke-width="0.5" stroke-linejoin="round"/>
<line x1="341.3" y1="155.8" x2="341.3" y2="161.4" stroke="#CDD4D5" stroke-width="0.4" stroke-linecap="butt" />
<line x1="338.7" y1="160" x2="344" y2="157.2" stroke="#CDD4D5" stroke-width="0.4" stroke-linecap="butt" />
<polygon points="338.7,168.9 344,166.2 344,171.8 338.7,174.6" fill="#9BA7A9" stroke="#CDD4D5" stroke-width="0.5" stroke-linejoin="round"/>
<line x1="341.3" y1="167.6" x2="341.3" y2="173.2" stroke="#CDD4D5" stroke-width="0.4" stroke-linecap="butt" />
<line x1="338.7" y1="171.7" x2="344" y2="169" stroke="#CDD4D5" stroke-width="0.4" stroke-linecap="butt" />
<polygon points="346.6,153.1 352,150.3 352,156 346.6,158.7" fill="#9BA7A9" stroke="#CDD4D5" stroke-width="0.5" stroke-linejoin="round"/>
<line x1="349.3" y1="151.7" x2="349.3" y2="157.3" stroke="#CDD4D5" stroke-width="0.4" stroke-linecap="butt" />
<line x1="346.6" y1="155.9" x2="352" y2="153.1" stroke="#CDD4D5" stroke-width="0.4" stroke-linecap="butt" />
<polygon points="346.6,164.8 352,162.1 352,167.7 346.6,170.4" fill="#9BA7A9" stroke="#CDD4D5" stroke-width="0.5" stroke-linejoin="round"/>
<line x1="349.3" y1="163.4" x2="349.3" y2="169.1" stroke="#CDD4D5" stroke-width="0.4" stroke-linecap="butt" />
<line x1="346.6" y1="167.6" x2="352" y2="164.9" stroke="#CDD4D5" stroke-width="0.4" stroke-linecap="butt" />
<polygon points="356.2,148.1 361.5,145.4 361.5,151 356.2,153.8" fill="#9BA7A9" stroke="#CDD4D5" stroke-width="0.5" stroke-linejoin="round"/>
<line x1="358.9" y1="146.8" x2="358.9" y2="152.4" stroke="#CDD4D5" stroke-width="0.4" stroke-linecap="butt" />
<line x1="356.2" y1="150.9" x2="361.5" y2="148.2" stroke="#CDD4D5" stroke-width="0.4" stroke-linecap="butt" />
<polygon points="356.2,159.9 361.5,157.1 361.5,162.8 356.2,165.5" fill="#9BA7A9" stroke="#CDD4D5" stroke-width="0.5" stroke-linejoin="round"/>
<line x1="358.9" y1="158.5" x2="358.9" y2="164.1" stroke="#CDD4D5" stroke-width="0.4" stroke-linecap="butt" />
<line x1="356.2" y1="162.7" x2="361.5" y2="160" stroke="#CDD4D5" stroke-width="0.4" stroke-linecap="butt" />
<path d="M323.1,110.2 L322.1,143.5 A3.6,1.3 0 0 0 329.3,143.5 L328.3,110.2 A2.6,0.9 0 0 1 323.1,110.2 Z" fill="url(#g103)"/>
<path d="M322.9,117.6 A2.8,1 0 0 0 328.5,117.6 L328.6,120.6 A2.9,1 0 0 1 322.8,120.6 Z" fill="url(#g104)"/>
<path d="M322.7,122.6 A3,1 0 0 0 328.7,122.6 L328.8,125.6 A3.1,1.1 0 0 1 322.6,125.6 Z" fill="url(#g104)"/>
<ellipse cx="325.7" cy="110.2" rx="2.6" ry="1.5" fill="#D8D8D8"/>
<ellipse cx="325.7" cy="110.4" rx="1.9" ry="1" fill="#5A5A5A"/>
<path d="M332.9,89.4 L331.5,146 A5.6,2 0 0 0 342.7,146 L341.3,89.4 A4.2,1.5 0 0 1 332.9,89.4 Z" fill="url(#g103)"/>
<path d="M332.6,101 A4.5,1.6 0 0 0 341.6,101 L341.7,105.6 A4.6,1.6 0 0 1 332.5,105.6 Z" fill="url(#g104)"/>
<path d="M332.4,108.8 A4.7,1.6 0 0 0 341.8,108.8 L341.9,114.4 A4.8,1.7 0 0 1 332.3,114.4 Z" fill="url(#g104)"/>
<ellipse cx="337.1" cy="89.4" rx="4.2" ry="2.1" fill="#D8D8D8"/>
<ellipse cx="337.1" cy="89.6" rx="3" ry="1.5" fill="#5A5A5A"/>
<polygon points="331,137.2 337,140.6 337,149.6 331,146.2" fill="#E9E9E9" stroke="#E9E9E9" stroke-width="0.5" stroke-linejoin="round"/>
<polygon points="337,140.6 343.3,137 343.3,146 337,149.6" fill="#D8541F" stroke="#D8541F" stroke-width="0.5" stroke-linejoin="round"/>
<polygon points="331,137.2 337,140.6 343.3,137 337.3,133.6" fill="#EFEFEF" stroke="#EFEFEF" stroke-width="0.5" stroke-linejoin="round"/>
<polygon points="276.2,223.1 306.3,239.6 306.3,243.1 276.2,226.6" fill="#D8541F" stroke="#D8541F" stroke-width="0.5" stroke-linejoin="round"/>
<polygon points="306.3,239.6 334,223.1 334,226.6 306.3,243.1" fill="#D93A1F" stroke="#D93A1F" stroke-width="0.5" stroke-linejoin="round"/>
<polygon points="276.2,223.1 306.3,239.6 334,223.1 303.9,206.6" fill="#E0622A" stroke="#E0622A" stroke-width="0.5" stroke-linejoin="round"/>
<polygon points="279.2,188.6 306.3,203.1 306.3,238.1 279.2,223.6" fill="#DEE2E3" stroke="#DEE2E3" stroke-width="0.5" stroke-linejoin="round"/>
<polygon points="306.3,203.1 331,188.6 331,223.6 306.3,238.1" fill="#B6C1C3" stroke="#B6C1C3" stroke-width="0.5" stroke-linejoin="round"/>
<polygon points="279.2,188.6 306.3,203.1 331,188.6 303.9,174.1" fill="#D8541F" stroke="#D8541F" stroke-width="0.5" stroke-linejoin="round"/>
<polygon points="304.1,176.1 327.4,188.6 306.1,201.1 282.8,188.6" fill="#AEB8BA" stroke="#AEB8BA" stroke-width="0.5" stroke-linejoin="round"/>
<ellipse cx="305.2" cy="180.9" rx="5.3" ry="3.1" fill="#E6D88A"/>
<ellipse cx="305.2" cy="180.9" rx="4.4" ry="2.5" fill="#F2F2EE"/>
<ellipse cx="305.2" cy="180.9" rx="1.6" ry="0.9" fill="#8C979A"/>
<ellipse cx="297.1" cy="185.7" rx="5.3" ry="3.1" fill="#E6D88A"/>
<ellipse cx="297.1" cy="185.7" rx="4.4" ry="2.5" fill="#F2F2EE"/>
<ellipse cx="297.1" cy="185.7" rx="1.6" ry="0.9" fill="#8C979A"/>
<ellipse cx="313.4" cy="185.3" rx="5.3" ry="3.1" fill="#E6D88A"/>
<ellipse cx="313.4" cy="185.3" rx="4.4" ry="2.5" fill="#F2F2EE"/>
<ellipse cx="313.4" cy="185.3" rx="1.6" ry="0.9" fill="#8C979A"/>
<ellipse cx="305.2" cy="190" rx="5.3" ry="3.1" fill="#E6D88A"/>
<ellipse cx="305.2" cy="190" rx="4.4" ry="2.5" fill="#F2F2EE"/>
<ellipse cx="305.2" cy="190" rx="1.6" ry="0.9" fill="#8C979A"/>
<ellipse cx="318.7" cy="190.3" rx="5.3" ry="3.1" fill="#E6D88A"/>
<ellipse cx="318.7" cy="190.3" rx="4.4" ry="2.5" fill="#F2F2EE"/>
<ellipse cx="318.7" cy="190.3" rx="1.6" ry="0.9" fill="#8C979A"/>
<ellipse cx="294.5" cy="191.8" rx="5.3" ry="3.1" fill="#E6D88A"/>
<ellipse cx="294.5" cy="191.8" rx="4.4" ry="2.5" fill="#F2F2EE"/>
<ellipse cx="294.5" cy="191.8" rx="1.6" ry="0.9" fill="#8C979A"/>
<ellipse cx="307.7" cy="195.6" rx="5.3" ry="3.1" fill="#E6D88A"/>
<ellipse cx="307.7" cy="195.6" rx="4.4" ry="2.5" fill="#F2F2EE"/>
<ellipse cx="307.7" cy="195.6" rx="1.6" ry="0.9" fill="#8C979A"/>
<polygon points="281.9,194.6 286.5,197.1 286.5,204.1 281.9,201.6" fill="#8E999C" stroke="#EEF0F0" stroke-width="0.5" stroke-linejoin="round"/>
<line x1="284.2" y1="195.8" x2="284.2" y2="202.8" stroke="#EEF0F0" stroke-width="0.4" stroke-linecap="butt" />
<line x1="281.9" y1="198.1" x2="286.5" y2="200.6" stroke="#EEF0F0" stroke-width="0.4" stroke-linecap="butt" />
<polygon points="281.9,208.2 286.5,210.7 286.5,217.7 281.9,215.2" fill="#8E999C" stroke="#EEF0F0" stroke-width="0.5" stroke-linejoin="round"/>
<line x1="284.2" y1="209.5" x2="284.2" y2="216.5" stroke="#EEF0F0" stroke-width="0.4" stroke-linecap="butt" />
<line x1="281.9" y1="211.7" x2="286.5" y2="214.2" stroke="#EEF0F0" stroke-width="0.4" stroke-linecap="butt" />
<polygon points="290,199 294.6,201.4 294.6,208.4 290,206" fill="#8E999C" stroke="#EEF0F0" stroke-width="0.5" stroke-linejoin="round"/>
<line x1="292.3" y1="200.2" x2="292.3" y2="207.2" stroke="#EEF0F0" stroke-width="0.4" stroke-linecap="butt" />
<line x1="290" y1="202.5" x2="294.6" y2="204.9" stroke="#EEF0F0" stroke-width="0.4" stroke-linecap="butt" />
<polygon points="290,212.6 294.6,215.1 294.6,222.1 290,219.6" fill="#8E999C" stroke="#EEF0F0" stroke-width="0.5" stroke-linejoin="round"/>
<line x1="292.3" y1="213.8" x2="292.3" y2="220.8" stroke="#EEF0F0" stroke-width="0.4" stroke-linecap="butt" />
<line x1="290" y1="216.1" x2="294.6" y2="218.6" stroke="#EEF0F0" stroke-width="0.4" stroke-linecap="butt" />
<polygon points="298.2,203.3 302.8,205.8 302.8,212.8 298.2,210.3" fill="#8E999C" stroke="#EEF0F0" stroke-width="0.5" stroke-linejoin="round"/>
<line x1="300.5" y1="204.5" x2="300.5" y2="211.5" stroke="#EEF0F0" stroke-width="0.4" stroke-linecap="butt" />
<line x1="298.2" y1="206.8" x2="302.8" y2="209.3" stroke="#EEF0F0" stroke-width="0.4" stroke-linecap="butt" />
<polygon points="298.2,216.9 302.8,219.4 302.8,226.4 298.2,223.9" fill="#8E999C" stroke="#EEF0F0" stroke-width="0.5" stroke-linejoin="round"/>
<line x1="300.5" y1="218.2" x2="300.5" y2="225.2" stroke="#EEF0F0" stroke-width="0.4" stroke-linecap="butt" />
<line x1="298.2" y1="220.4" x2="302.8" y2="222.9" stroke="#EEF0F0" stroke-width="0.4" stroke-linecap="butt" />
<polygon points="308.8,206.2 313.7,203.3 313.7,210.3 308.8,213.2" fill="#9BA7A9" stroke="#CDD4D5" stroke-width="0.5" stroke-linejoin="round"/>
<line x1="311.2" y1="204.8" x2="311.2" y2="211.8" stroke="#CDD4D5" stroke-width="0.4" stroke-linecap="butt" />
<line x1="308.8" y1="209.7" x2="313.7" y2="206.8" stroke="#CDD4D5" stroke-width="0.4" stroke-linecap="butt" />
<polygon points="308.8,219.8 313.7,216.9 313.7,223.9 308.8,226.8" fill="#9BA7A9" stroke="#CDD4D5" stroke-width="0.5" stroke-linejoin="round"/>
<line x1="311.2" y1="218.4" x2="311.2" y2="225.4" stroke="#CDD4D5" stroke-width="0.4" stroke-linecap="butt" />
<line x1="308.8" y1="223.3" x2="313.7" y2="220.4" stroke="#CDD4D5" stroke-width="0.4" stroke-linecap="butt" />
<polygon points="315.2,202.4 320.1,199.5 320.1,206.5 315.2,209.4" fill="#9BA7A9" stroke="#CDD4D5" stroke-width="0.5" stroke-linejoin="round"/>
<line x1="317.7" y1="201" x2="317.7" y2="208" stroke="#CDD4D5" stroke-width="0.4" stroke-linecap="butt" />
<line x1="315.2" y1="205.9" x2="320.1" y2="203" stroke="#CDD4D5" stroke-width="0.4" stroke-linecap="butt" />
<polygon points="315.2,216.1 320.1,213.2 320.1,220.2 315.2,223.1" fill="#9BA7A9" stroke="#CDD4D5" stroke-width="0.5" stroke-linejoin="round"/>
<line x1="317.7" y1="214.6" x2="317.7" y2="221.6" stroke="#CDD4D5" stroke-width="0.4" stroke-linecap="butt" />
<line x1="315.2" y1="219.6" x2="320.1" y2="216.7" stroke="#CDD4D5" stroke-width="0.4" stroke-linecap="butt" />
<polygon points="324.1,197.2 329,194.3 329,201.3 324.1,204.2" fill="#9BA7A9" stroke="#CDD4D5" stroke-width="0.5" stroke-linejoin="round"/>
<line x1="326.6" y1="195.8" x2="326.6" y2="202.8" stroke="#CDD4D5" stroke-width="0.4" stroke-linecap="butt" />
<line x1="324.1" y1="200.7" x2="329" y2="197.8" stroke="#CDD4D5" stroke-width="0.4" stroke-linecap="butt" />
<polygon points="324.1,210.9 329,208 329,215 324.1,217.9" fill="#9BA7A9" stroke="#CDD4D5" stroke-width="0.5" stroke-linejoin="round"/>
<line x1="326.6" y1="209.4" x2="326.6" y2="216.4" stroke="#CDD4D5" stroke-width="0.4" stroke-linecap="butt" />
<line x1="324.1" y1="214.4" x2="329" y2="211.5" stroke="#CDD4D5" stroke-width="0.4" stroke-linecap="butt" />
<path d="M271.4,224.9 L271.4,230.4 A2.3,1 0 0 0 276,230.4 L276,224.9 A2.3,1 0 0 1 271.4,224.9 Z" fill="#D6351F"/>
<ellipse cx="273.7" cy="224.9" rx="2.3" ry="1" fill="#EE5A3A"/>
<path d="M278.1,228.4 L278.1,233.9 A2.3,1 0 0 0 282.7,233.9 L282.7,228.4 A2.3,1 0 0 1 278.1,228.4 Z" fill="#D6351F"/>
<ellipse cx="280.4" cy="228.4" rx="2.3" ry="1" fill="#EE5A3A"/>
<path d="M284.7,231.7 L284.7,237.2 A2.3,1 0 0 0 289.3,237.2 L289.3,231.7 A2.3,1 0 0 1 284.7,231.7 Z" fill="#D6351F"/>
<ellipse cx="287" cy="231.7" rx="2.3" ry="1" fill="#EE5A3A"/>
<path d="M291.3,235.1 L291.3,240.6 A2.3,1 0 0 0 295.9,240.6 L295.9,235.1 A2.3,1 0 0 1 291.3,235.1 Z" fill="#D6351F"/>
<ellipse cx="293.6" cy="235.1" rx="2.3" ry="1" fill="#EE5A3A"/>
<polygon points="351.2,197.2 404.8,225.5 404.8,249 351.2,220.7" fill="#DD5A0C" stroke="#DD5A0C" stroke-width="0.5" stroke-linejoin="round"/>
<polygon points="404.8,225.5 429.6,213 429.6,236.5 404.8,249" fill="#D93A1F" stroke="#D93A1F" stroke-width="0.5" stroke-linejoin="round"/>
<polygon points="351.2,197.2 404.8,225.5 429.6,213 376,184.7" fill="#E0622A" stroke="#E0622A" stroke-width="0.5" stroke-linejoin="round"/>
<polygon points="378.2,186.9 425.4,211.8 402.6,223.3 355.4,198.4" fill="#ABB6B7" stroke="#ABB6B7" stroke-width="0.5" stroke-linejoin="round"/>
<polygon points="378.2,186.9 425.4,211.8 424.2,212.4 380.7,189.5 359.2,200.4 355.4,198.4" fill="#8F9A9D" stroke="#8F9A9D" stroke-width="0.5" stroke-linejoin="round"/>
<ellipse cx="365.6" cy="197.7" rx="6.6" ry="3.8" fill="#E8DA8C"/>
<ellipse cx="365.6" cy="197.7" rx="5.5" ry="3.1" fill="#F3F3EF"/>
<ellipse cx="365.6" cy="197.7" rx="2" ry="1.2" fill="#9AA5A8"/>
<ellipse cx="379" cy="204.7" rx="6.6" ry="3.8" fill="#E8DA8C"/>
<ellipse cx="379" cy="204.7" rx="5.5" ry="3.1" fill="#F3F3EF"/>
<ellipse cx="379" cy="204.7" rx="2" ry="1.2" fill="#9AA5A8"/>
<ellipse cx="391.9" cy="211.5" rx="6.6" ry="3.8" fill="#E8DA8C"/>
<ellipse cx="391.9" cy="211.5" rx="5.5" ry="3.1" fill="#F3F3EF"/>
<ellipse cx="391.9" cy="211.5" rx="2" ry="1.2" fill="#9AA5A8"/>
<ellipse cx="403.7" cy="217.8" rx="6.6" ry="3.8" fill="#E8DA8C"/>
<ellipse cx="403.7" cy="217.8" rx="5.5" ry="3.1" fill="#F3F3EF"/>
<ellipse cx="403.7" cy="217.8" rx="2" ry="1.2" fill="#9AA5A8"/>
<polygon points="353.9,206.1 358.2,208.4 358.2,217.8 353.9,215.5" fill="#8FA6C0" stroke="#F0D9C8" stroke-width="0.6" stroke-linejoin="round"/>
<polygon points="393.5,227.1 398.4,229.6 398.4,239 393.5,236.5" fill="#8FA6C0" stroke="#F0D9C8" stroke-width="0.6" stroke-linejoin="round"/>
<path d="M377.5,161 L376.4,195 A4,1.4 0 0 0 384.4,195 L383.3,161 A2.9,1 0 0 1 377.5,161 Z" fill="url(#g103)"/>
<path d="M377.2,169.2 A3.2,1.1 0 0 0 383.6,169.2 L383.7,172.2 A3.3,1.1 0 0 1 377.1,172.2 Z" fill="url(#g104)"/>
<path d="M377.1,174.4 A3.3,1.2 0 0 0 383.7,174.4 L383.8,177.4 A3.4,1.2 0 0 1 377,177.4 Z" fill="url(#g104)"/>
<ellipse cx="380.4" cy="161" rx="2.9" ry="1.6" fill="#D8D8D8"/>
<ellipse cx="380.4" cy="161.2" rx="2.1" ry="1.1" fill="#5A5A5A"/>
<path d="M388.4,152.6 L386.6,203.4 A6.5,2.3 0 0 0 399.6,203.4 L397.8,152.6 A4.7,1.6 0 0 1 388.4,152.6 Z" fill="url(#g104)"/>
<path d="M388,163.8 A5.1,1.8 0 0 0 398.2,163.8 L398.4,169 A5.3,1.8 0 0 1 387.8,169 Z" fill="url(#g105)"/>
<path d="M387.7,172.5 A5.4,1.9 0 0 0 398.5,172.5 L398.7,177.3 A5.6,2 0 0 1 387.5,177.3 Z" fill="url(#g105)"/>
<path d="M386.8,199 A6.3,2.2 0 0 0 399.4,199 L399.6,203.4 A6.5,2.3 0 0 1 386.6,203.4 Z" fill="url(#g105)"/>
<ellipse cx="393.1" cy="152.6" rx="4.7" ry="2.2" fill="#D8D8D8"/>
<ellipse cx="393.1" cy="152.8" rx="3.4" ry="1.6" fill="#6A4A40"/>
<polygon points="308.4,248.4 333.7,262.2 333.7,275.7 308.4,261.9" fill="#AEB9BB" stroke="#AEB9BB" stroke-width="0.5" stroke-linejoin="round"/>
<polygon points="333.7,262.2 360.1,246.9 360.1,260.4 333.7,275.7" fill="#D9DCDD" stroke="#D9DCDD" stroke-width="0.5" stroke-linejoin="round"/>
<polygon points="308.4,248.4 333.7,262.2 360.1,246.9 334.8,233.1" fill="#D8541F" stroke="#D8541F" stroke-width="0.5" stroke-linejoin="round"/>
<polygon points="334.7,236 357.5,248.4 333.7,262.2 310.9,249.8" fill="#9FABAD" stroke="#9FABAD" stroke-width="0.5" stroke-linejoin="round"/>
<polygon points="334.7,236 357.5,248.4 352.2,251.5 334.5,241.8 316,252.5 310.9,249.8" fill="#8D989B" stroke="#8D989B" stroke-width="0.5" stroke-linejoin="round"/>
<polygon points="360.1,246.9 333.7,262.2 308.4,248.4 310.5,247.2 333.3,259.6 357.6,245.5" fill="#C9CFD0" stroke="#C9CFD0" stroke-width="0.5" stroke-linejoin="round"/>
<path d="M328.1,237.5 L328.1,250.5 A2.4,1 0 0 0 332.9,250.5 L332.9,237.5 A2.4,1 0 0 1 328.1,237.5 Z" fill="url(#g103)"/>
<ellipse cx="330.5" cy="237.5" rx="2.4" ry="1" fill="#F4F4F4"/>
<ellipse cx="330.5" cy="237.5" rx="4.2" ry="1.9" fill="#EDEDED"/>
<ellipse cx="330.5" cy="235.5" rx="3.4" ry="1.6" fill="#F6F6F6"/>
<path d="M339.6,233 L339.6,246 A2.4,1 0 0 0 344.4,246 L344.4,233 A2.4,1 0 0 1 339.6,233 Z" fill="url(#g103)"/>
<ellipse cx="342" cy="233" rx="2.4" ry="1" fill="#F4F4F4"/>
<ellipse cx="342" cy="233" rx="4.2" ry="1.9" fill="#EDEDED"/>
<ellipse cx="342" cy="231" rx="3.4" ry="1.6" fill="#F6F6F6"/>
<ellipse cx="321.5" cy="229.5" rx="4.6" ry="2.6" fill="#E9C62A"/>
<ellipse cx="322.7" cy="229.1" rx="2.6" ry="1.7" fill="#FBFBF5"/>
<ellipse cx="332" cy="224.5" rx="4.6" ry="2.6" fill="#E9C62A"/>
<ellipse cx="333.2" cy="224.1" rx="2.6" ry="1.7" fill="#FBFBF5"/>
<ellipse cx="342.5" cy="219.5" rx="4.6" ry="2.6" fill="#E9C62A"/>
<ellipse cx="343.7" cy="219.1" rx="2.6" ry="1.7" fill="#FBFBF5"/>
<ellipse cx="336" cy="231.5" rx="4.2" ry="2.3" fill="#EEF0F0"/>
<ellipse cx="336" cy="231.5" rx="2.4" ry="1.3" fill="#C4CBCD"/>
<ellipse cx="346" cy="227" rx="4.2" ry="2.3" fill="#EEF0F0"/>
<ellipse cx="346" cy="227" rx="2.4" ry="1.3" fill="#C4CBCD"/>
<ellipse cx="356" cy="232" rx="4.2" ry="2.3" fill="#EEF0F0"/>
<ellipse cx="356" cy="232" rx="2.4" ry="1.3" fill="#C4CBCD"/>
<ellipse cx="366" cy="237" rx="4.2" ry="2.3" fill="#EEF0F0"/>
<ellipse cx="366" cy="237" rx="2.4" ry="1.3" fill="#C4CBCD"/>
<ellipse cx="375" cy="241" rx="4.2" ry="2.3" fill="#EEF0F0"/>
<ellipse cx="375" cy="241" rx="2.4" ry="1.3" fill="#C4CBCD"/>
<path d="M323,230 C327,247 352,250 380,246 S430,243 460,241" fill="none" stroke="#8B8F90" stroke-width="1.2"/>
<path d="M333,225 C338,242 362,247 390,243 S440,236 459.5,233.5 L476.4,230.5" fill="none" stroke="#8B8F90" stroke-width="1.2"/>
<path d="M343,220 C350,236 378,240 402,238 S450,232 476.4,230" fill="none" stroke="#8B8F90" stroke-width="1.1"/>
<path d="M336,231 C350,244 390,246 420,244 S450,243 460,241.2" fill="none" stroke="#8B8F90" stroke-width="1"/>
<path d="M364.9,252.8 L364.9,262.5 A4.3,1.8 0 0 0 373.5,262.5 L373.5,252.8 A4.3,1.8 0 0 1 364.9,252.8 Z" fill="#B9C2C4"/>
<ellipse cx="369.2" cy="252.8" rx="4.3" ry="1.8" fill="#F1D232"/>
<path d="M376.5,250.8 L376.5,261.5 A3.9,1.6 0 0 0 384.3,261.5 L384.3,250.8 A3.9,1.6 0 0 1 376.5,250.8 Z" fill="#D6351F"/>
<ellipse cx="380.4" cy="250.8" rx="3.9" ry="1.6" fill="#F1D232"/>
<path d="M377.6,247.8 L377.6,250.8 A2.8,1.2 0 0 0 383.2,250.8 L383.2,247.8 A2.8,1.2 0 0 1 377.6,247.8 Z" fill="#F1D232"/>
<ellipse cx="380.4" cy="247.8" rx="2.8" ry="1.2" fill="#FBE45A"/>
<path d="M387.2,246 L387.2,256.5 A4.2,1.8 0 0 0 395.6,256.5 L395.6,246 A4.2,1.8 0 0 1 387.2,246 Z" fill="#D6351F"/>
<ellipse cx="391.4" cy="246" rx="4.2" ry="1.8" fill="#E5492F"/>
<!-- towers -->
<linearGradient id="platg" x1="0" y1="0" x2="1" y2="1"><stop offset="0" stop-color="#D4D5D8"/><stop offset="1" stop-color="#E2E3E6"/></linearGradient>
<polygon points="435.9,335.5 581.4,420.3 581.4,426.9 435.9,342.1" fill="#6C6C6E" stroke="#6C6C6E" stroke-width="0.5" stroke-linejoin="round"/>
<polygon points="581.4,420.3 649.8,383.3 649.8,389.9 581.4,426.9" fill="#C9CACD" stroke="#C9CACD" stroke-width="0.5" stroke-linejoin="round"/>
<polygon points="435.9,335.5 581.4,420.3 649.8,383.3 504.3,298.5" fill="url(#platg)" stroke="url(#platg)" stroke-width="0.5" stroke-linejoin="round"/>
<use href="#tower" x="498.4" y="173.2"/>
<path d="M459.4,240.6 Q497.5,276.9 535.6,285.3" fill="none" stroke="#808080" stroke-width="1.5" stroke-linecap="round"/>
<path d="M476.4,230 Q514.5,266.4 552.6,274.7" fill="none" stroke="#808080" stroke-width="1.5" stroke-linecap="round"/>
<path d="M514.1,209.4 Q552.2,245.8 590.3,254.1" fill="none" stroke="#808080" stroke-width="1.5" stroke-linecap="round"/>
<path d="M532.1,198.6 Q570.2,234.9 608.3,243.3" fill="none" stroke="#808080" stroke-width="1.5" stroke-linecap="round"/>
<path d="M476.4,230 Q467.9,232.5 462.4,233.1" fill="none" stroke="#808080" stroke-width="1.1"/>
<path d="M517.3,197.1 Q525.2,199.6 533.1,198.6" fill="none" stroke="#808080" stroke-width="1.1"/>
<path d="M552.6,274.7 Q544.1,277.2 538.6,277.8" fill="none" stroke="#808080" stroke-width="1.1"/>
<path d="M593.5,241.8 Q601.4,244.3 609.3,243.3" fill="none" stroke="#808080" stroke-width="1.1"/>
<path d="M536.4,285.3 C556,312 600,345 679.8,382.3" fill="none" stroke="#808080" stroke-width="1.5" stroke-linecap="round"/>
<use href="#tower" x="574.6" y="217.9"/>
<path d="M552.8,275.1 C574,302 625,340 688.0,372.1" fill="none" stroke="#808080" stroke-width="1.5" stroke-linecap="round"/>
<polygon points="904.9,610.5 1050.4,695.3 1050.4,701.9 904.9,617.1" fill="#6C6C6E" stroke="#6C6C6E" stroke-width="0.5" stroke-linejoin="round"/>
<polygon points="1050.4,695.3 1118.8,658.3 1118.8,664.9 1050.4,701.9" fill="#C9CACD" stroke="#C9CACD" stroke-width="0.5" stroke-linejoin="round"/>
<polygon points="904.9,610.5 1050.4,695.3 1118.8,658.3 973.3,573.5" fill="url(#platg)" stroke="url(#platg)" stroke-width="0.5" stroke-linejoin="round"/>
<use href="#tower" x="967.4" y="448.2"/>
<path d="M928.4,515.6 Q966.5,552 1004.6,560.3" fill="none" stroke="#808080" stroke-width="1.5" stroke-linecap="round"/>
<path d="M945.4,505 Q983.5,541.3 1021.6,549.7" fill="none" stroke="#808080" stroke-width="1.5" stroke-linecap="round"/>
<path d="M983.1,484.4 Q1021.2,520.8 1059.3,529.1" fill="none" stroke="#808080" stroke-width="1.5" stroke-linecap="round"/>
<path d="M1001.1,473.6 Q1039.2,509.9 1077.3,518.3" fill="none" stroke="#808080" stroke-width="1.5" stroke-linecap="round"/>
<path d="M945.4,505 Q936.9,507.5 931.4,508.1" fill="none" stroke="#808080" stroke-width="1.1"/>
<path d="M986.3,472.1 Q994.2,474.6 1002.1,473.6" fill="none" stroke="#808080" stroke-width="1.1"/>
<path d="M1021.6,549.7 Q1013.1,552.2 1007.6,552.8" fill="none" stroke="#808080" stroke-width="1.1"/>
<path d="M1062.5,516.8 Q1070.4,519.3 1078.3,518.3" fill="none" stroke="#808080" stroke-width="1.1"/>
<use href="#tower" x="1043.6" y="492.9"/>
<!-- substation -->
<defs><linearGradient id="g201" x1="0" y1="0" x2="1" y2="0"><stop offset="0" stop-color="#B3C0C2"/><stop offset="0.35" stop-color="#AAB8BB"/><stop offset="1" stop-color="#9FAEB1"/></linearGradient><linearGradient id="g202" x1="0" y1="0" x2="1" y2="0"><stop offset="0" stop-color="#6C8494"/><stop offset="1" stop-color="#506878"/></linearGradient></defs>
<polygon points="734,419.9 755.7,432.7 755.7,460.2 734,447.4" fill="#EEF1F1" stroke="#EEF1F1" stroke-width="0.5" stroke-linejoin="round"/>
<polygon points="755.7,432.7 783.2,418.2 783.2,445.7 755.7,460.2" fill="#A9B6B6" stroke="#A9B6B6" stroke-width="0.5" stroke-linejoin="round"/>
<polygon points="734,419.9 755.7,432.7 783.2,418.2 761.5,405.4" fill="#F1F3F3" stroke="#F1F3F3" stroke-width="0.5" stroke-linejoin="round"/>
<polygon points="657.4,466 704.4,492 704.4,503 657.4,477" fill="#B1B1B2" stroke="#B1B1B2" stroke-width="0.5" stroke-linejoin="round"/>
<polygon points="704.4,492 760.8,460.2 760.8,471.2 704.4,503" fill="#E9E9EA" stroke="#E9E9EA" stroke-width="0.5" stroke-linejoin="round"/>
<polygon points="657.4,466 704.4,492 760.8,460.2 760.8,446 752,441 713.8,434.2" fill="#EDEDEE" stroke="#EDEDEE" stroke-width="0.5" stroke-linejoin="round"/>
<path d="M707,418.7 L707,451.7 A14,5.6 0 0 0 735,451.7 L735,418.7 A14,5.6 0 0 1 707,418.7 Z" fill="url(#g202)"/>
<path d="M707,418.7 L707,448.5 A14,5.6 0 0 0 735,448.5 L735,418.7 A14,5.6 0 0 1 707,418.7 Z" fill="url(#g201)"/>
<ellipse cx="721" cy="418.7" rx="14" ry="5.6" fill="#ECEFEF"/>
<path d="M689.7,428.1 L689.7,461.1 A14,5.6 0 0 0 717.7,461.1 L717.7,428.1 A14,5.6 0 0 1 689.7,428.1 Z" fill="url(#g202)"/>
<path d="M689.7,428.1 L689.7,457.9 A14,5.6 0 0 0 717.7,457.9 L717.7,428.1 A14,5.6 0 0 1 689.7,428.1 Z" fill="url(#g201)"/>
<ellipse cx="703.7" cy="428.1" rx="14" ry="5.6" fill="#ECEFEF"/>
<path d="M672.4,437.5 L672.4,470.5 A14,5.6 0 0 0 700.4,470.5 L700.4,437.5 A14,5.6 0 0 1 672.4,437.5 Z" fill="url(#g202)"/>
<path d="M672.4,437.5 L672.4,467.3 A14,5.6 0 0 0 700.4,467.3 L700.4,437.5 A14,5.6 0 0 1 672.4,437.5 Z" fill="url(#g201)"/>
<ellipse cx="686.4" cy="437.5" rx="14" ry="5.6" fill="#ECEFEF"/>
<line x1="717.5" y1="421" x2="716.8" y2="415.2" stroke="#AEB6BA" stroke-width="2.2" stroke-linecap="butt" />
<polygon points="710.5,417.3 723.6,416.6 718.4,399.3 711.7,399.7" fill="#D93A25" stroke="#D93A25" stroke-width="0.5" stroke-linejoin="round"/>
<ellipse cx="717" cy="416.9" rx="6.6" ry="2.4" fill="#C5301D"/>
<line x1="715.5" y1="403.6" x2="711.1" y2="364.6" stroke="#D93A25" stroke-width="4.6" stroke-linecap="butt" />
<ellipse cx="714.9" cy="399.6" rx="8.8" ry="3.9" fill="#D04A10"/>
<ellipse cx="714.9" cy="397.8" rx="8.8" ry="3.9" fill="#EA5C0E"/>
<ellipse cx="713.5" cy="387.9" rx="8" ry="3.5" fill="#D04A10"/>
<ellipse cx="713.5" cy="386.1" rx="8" ry="3.5" fill="#EA5C0E"/>
<ellipse cx="712.2" cy="376.3" rx="7" ry="3.1" fill="#D04A10"/>
<ellipse cx="712.2" cy="374.5" rx="7" ry="3.1" fill="#EA5C0E"/>
<ellipse cx="711.1" cy="366.4" rx="4.4" ry="1.9" fill="#D04A10"/>
<ellipse cx="711.1" cy="364.6" rx="4.4" ry="1.9" fill="#EA5C0E"/>
<line x1="702.2" y1="429.8" x2="701.7" y2="424" stroke="#AEB6BA" stroke-width="2.2" stroke-linecap="butt" />
<polygon points="695.3,426 708.4,425.4 703.7,408.1 696.9,408.4" fill="#D93A25" stroke="#D93A25" stroke-width="0.5" stroke-linejoin="round"/>
<ellipse cx="701.8" cy="425.7" rx="6.6" ry="2.4" fill="#C5301D"/>
<line x1="700.7" y1="412.3" x2="697.3" y2="373.3" stroke="#D93A25" stroke-width="4.6" stroke-linecap="butt" />
<ellipse cx="700.2" cy="408.3" rx="8.8" ry="3.9" fill="#D04A10"/>
<ellipse cx="700.2" cy="406.5" rx="8.8" ry="3.9" fill="#EA5C0E"/>
<ellipse cx="699.1" cy="396.7" rx="8" ry="3.5" fill="#D04A10"/>
<ellipse cx="699.1" cy="394.9" rx="8" ry="3.5" fill="#EA5C0E"/>
<ellipse cx="698.1" cy="385" rx="7" ry="3.1" fill="#D04A10"/>
<ellipse cx="698.1" cy="383.2" rx="7" ry="3.1" fill="#EA5C0E"/>
<ellipse cx="697.3" cy="375.1" rx="4.4" ry="1.9" fill="#D04A10"/>
<ellipse cx="697.3" cy="373.3" rx="4.4" ry="1.9" fill="#EA5C0E"/>
<line x1="686.3" y1="437.8" x2="685.9" y2="432.1" stroke="#AEB6BA" stroke-width="2.2" stroke-linecap="butt" />
<polygon points="679.5,434 692.6,433.6 688.4,416.5 681.6,416.7" fill="#D93A25" stroke="#D93A25" stroke-width="0.5" stroke-linejoin="round"/>
<ellipse cx="686" cy="433.8" rx="6.6" ry="2.4" fill="#C5301D"/>
<line x1="685.2" y1="420.6" x2="682.8" y2="382.3" stroke="#D93A25" stroke-width="4.6" stroke-linecap="butt" />
<ellipse cx="684.9" cy="416.7" rx="8.8" ry="3.9" fill="#D04A10"/>
<ellipse cx="684.9" cy="414.9" rx="8.8" ry="3.9" fill="#EA5C0E"/>
<ellipse cx="684.1" cy="405.3" rx="8" ry="3.5" fill="#D04A10"/>
<ellipse cx="684.1" cy="403.5" rx="8" ry="3.5" fill="#EA5C0E"/>
<ellipse cx="683.4" cy="393.8" rx="7" ry="3.1" fill="#D04A10"/>
<ellipse cx="683.4" cy="392" rx="7" ry="3.1" fill="#EA5C0E"/>
<ellipse cx="682.8" cy="384.1" rx="4.4" ry="1.9" fill="#D04A10"/>
<ellipse cx="682.8" cy="382.3" rx="4.4" ry="1.9" fill="#EA5C0E"/>
<path d="M724.5,427.2 L724.5,460.2 A14,5.6 0 0 0 752.5,460.2 L752.5,427.2 A14,5.6 0 0 1 724.5,427.2 Z" fill="url(#g202)"/>
<path d="M724.5,427.2 L724.5,457 A14,5.6 0 0 0 752.5,457 L752.5,427.2 A14,5.6 0 0 1 724.5,427.2 Z" fill="url(#g201)"/>
<ellipse cx="738.5" cy="427.2" rx="14" ry="5.6" fill="#ECEFEF"/>
<path d="M707.2,436.6 L707.2,469.6 A14,5.6 0 0 0 735.2,469.6 L735.2,436.6 A14,5.6 0 0 1 707.2,436.6 Z" fill="url(#g202)"/>
<path d="M707.2,436.6 L707.2,466.4 A14,5.6 0 0 0 735.2,466.4 L735.2,436.6 A14,5.6 0 0 1 707.2,436.6 Z" fill="url(#g201)"/>
<ellipse cx="721.2" cy="436.6" rx="14" ry="5.6" fill="#ECEFEF"/>
<path d="M689.9,446 L689.9,479 A14,5.6 0 0 0 717.9,479 L717.9,446 A14,5.6 0 0 1 689.9,446 Z" fill="url(#g202)"/>
<path d="M689.9,446 L689.9,475.8 A14,5.6 0 0 0 717.9,475.8 L717.9,446 A14,5.6 0 0 1 689.9,446 Z" fill="url(#g201)"/>
<ellipse cx="703.9" cy="446" rx="14" ry="5.6" fill="#ECEFEF"/>
<line x1="734.8" y1="430" x2="737" y2="424.8" stroke="#AEB6BA" stroke-width="2.2" stroke-linecap="butt" />
<polygon points="730.2,425.1 742.4,427.6 746,411.3 739.7,410" fill="#D93A25" stroke="#D93A25" stroke-width="0.5" stroke-linejoin="round"/>
<ellipse cx="736.3" cy="426.3" rx="6.6" ry="2.4" fill="#C5301D"/>
<line x1="741.3" y1="414.3" x2="755.8" y2="379.4" stroke="#D93A25" stroke-width="4.6" stroke-linecap="butt" />
<ellipse cx="743.5" cy="410.9" rx="8.8" ry="3.9" fill="#D04A10"/>
<ellipse cx="743.5" cy="409.1" rx="8.8" ry="3.9" fill="#EA5C0E"/>
<ellipse cx="747.8" cy="400.5" rx="8" ry="3.5" fill="#D04A10"/>
<ellipse cx="747.8" cy="398.7" rx="8" ry="3.5" fill="#EA5C0E"/>
<ellipse cx="752.2" cy="390" rx="7" ry="3.1" fill="#D04A10"/>
<ellipse cx="752.2" cy="388.2" rx="7" ry="3.1" fill="#EA5C0E"/>
<ellipse cx="755.8" cy="381.2" rx="4.4" ry="1.9" fill="#D04A10"/>
<ellipse cx="755.8" cy="379.4" rx="4.4" ry="1.9" fill="#EA5C0E"/>
<line x1="719" y1="439" x2="721.2" y2="433.8" stroke="#AEB6BA" stroke-width="2.2" stroke-linecap="butt" />
<polygon points="714.5,434 726.6,436.6 730.4,420.3 724.1,418.9" fill="#D93A25" stroke="#D93A25" stroke-width="0.5" stroke-linejoin="round"/>
<ellipse cx="720.6" cy="435.3" rx="6.6" ry="2.4" fill="#C5301D"/>
<line x1="725.7" y1="423.3" x2="740.6" y2="388.2" stroke="#D93A25" stroke-width="4.6" stroke-linecap="butt" />
<ellipse cx="727.9" cy="419.8" rx="8.8" ry="3.9" fill="#D04A10"/>
<ellipse cx="727.9" cy="418" rx="8.8" ry="3.9" fill="#EA5C0E"/>
<ellipse cx="732.4" cy="409.4" rx="8" ry="3.5" fill="#D04A10"/>
<ellipse cx="732.4" cy="407.6" rx="8" ry="3.5" fill="#EA5C0E"/>
<ellipse cx="736.8" cy="398.9" rx="7" ry="3.1" fill="#D04A10"/>
<ellipse cx="736.8" cy="397.1" rx="7" ry="3.1" fill="#EA5C0E"/>
<ellipse cx="740.6" cy="390" rx="4.4" ry="1.9" fill="#D04A10"/>
<ellipse cx="740.6" cy="388.2" rx="4.4" ry="1.9" fill="#EA5C0E"/>
<line x1="703.9" y1="449.5" x2="706" y2="444.2" stroke="#AEB6BA" stroke-width="2.2" stroke-linecap="butt" />
<polygon points="699.3,444.6 711.5,447.1 715,430.7 708.7,429.4" fill="#D93A25" stroke="#D93A25" stroke-width="0.5" stroke-linejoin="round"/>
<ellipse cx="705.4" cy="445.8" rx="6.6" ry="2.4" fill="#C5301D"/>
<line x1="710.4" y1="433.8" x2="724.8" y2="398.6" stroke="#D93A25" stroke-width="4.6" stroke-linecap="butt" />
<ellipse cx="712.5" cy="430.3" rx="8.8" ry="3.9" fill="#D04A10"/>
<ellipse cx="712.5" cy="428.5" rx="8.8" ry="3.9" fill="#EA5C0E"/>
<ellipse cx="716.8" cy="419.8" rx="8" ry="3.5" fill="#D04A10"/>
<ellipse cx="716.8" cy="418" rx="8" ry="3.5" fill="#EA5C0E"/>
<ellipse cx="721.1" cy="409.3" rx="7" ry="3.1" fill="#D04A10"/>
<ellipse cx="721.1" cy="407.5" rx="7" ry="3.1" fill="#EA5C0E"/>
<ellipse cx="724.8" cy="400.4" rx="4.4" ry="1.9" fill="#D04A10"/>
<ellipse cx="724.8" cy="398.6" rx="4.4" ry="1.9" fill="#EA5C0E"/>
<path d="M682.7,380.6 C685.7,370.6 692.8,362.5 700.8,362.5 C709.8,362.5 717.4,379 725.4,397" fill="none" stroke="#8C9399" stroke-width="2.5" stroke-linecap="round"/>
<path d="M697.1,371.6 C700.1,361.6 708.7,353.9 716.7,353.9 C725.7,353.9 733.3,368.6 741.3,386.6" fill="none" stroke="#8C9399" stroke-width="2.5" stroke-linecap="round"/>
<path d="M710.9,362.9 C713.9,352.9 723.1,344.5 731.1,344.5 C740.1,344.5 748.5,359.8 756.5,377.8" fill="none" stroke="#8C9399" stroke-width="2.5" stroke-linecap="round"/>
<!-- wind -->
<defs><linearGradient id="g301" x1="0" y1="0" x2="1" y2="0"><stop offset="0" stop-color="#F4F5FC"/><stop offset="0.45" stop-color="#E3E6F6"/><stop offset="1" stop-color="#AEB7E2"/></linearGradient></defs>
<polygon points="230.8,500.5 371.1,574.3 371.1,579.5 230.8,505.7" fill="#9BC25B" stroke="#9BC25B" stroke-width="0.5" stroke-linejoin="round"/>
<polygon points="371.1,574.3 453.6,527.2 453.6,532.4 371.1,579.5" fill="#84AC47" stroke="#84AC47" stroke-width="0.5" stroke-linejoin="round"/>
<polygon points="230.8,500.5 371.1,574.3 453.6,527.2 311.8,452" fill="#AACF6B" stroke="#AACF6B" stroke-width="0.5" stroke-linejoin="round"/>
<polygon points="270.1,498.8 270.1,501 295.1,490.3 295.1,488.7" fill="#9CC45E" stroke="#9CC45E" stroke-width="0.5" stroke-linejoin="round"/>
<polygon points="294.3,489.3 295.9,489.8 286.1,485.3" fill="#9CC45E" stroke="#9CC45E" stroke-width="0.5" stroke-linejoin="round"/>
<polygon points="294.3,489.3 295.9,489.8 304.1,485.8" fill="#9CC45E" stroke="#9CC45E" stroke-width="0.5" stroke-linejoin="round"/>
<polygon points="294.3,489.3 295.9,489.8 300.1,498.3" fill="#9CC45E" stroke="#9CC45E" stroke-width="0.5" stroke-linejoin="round"/>
<polygon points="298.5,481.4 298.5,483.6 323.5,472.9 323.5,471.3" fill="#9CC45E" stroke="#9CC45E" stroke-width="0.5" stroke-linejoin="round"/>
<polygon points="322.7,471.9 324.3,472.4 314.5,467.9" fill="#9CC45E" stroke="#9CC45E" stroke-width="0.5" stroke-linejoin="round"/>
<polygon points="322.7,471.9 324.3,472.4 332.5,468.4" fill="#9CC45E" stroke="#9CC45E" stroke-width="0.5" stroke-linejoin="round"/>
<polygon points="322.7,471.9 324.3,472.4 328.5,480.9" fill="#9CC45E" stroke="#9CC45E" stroke-width="0.5" stroke-linejoin="round"/>
<polygon points="319.3,527.7 319.3,529.9 344.3,519.2 344.3,517.6" fill="#9CC45E" stroke="#9CC45E" stroke-width="0.5" stroke-linejoin="round"/>
<polygon points="343.5,518.2 345.1,518.7 335.3,514.2" fill="#9CC45E" stroke="#9CC45E" stroke-width="0.5" stroke-linejoin="round"/>
<polygon points="343.5,518.2 345.1,518.7 353.3,514.7" fill="#9CC45E" stroke="#9CC45E" stroke-width="0.5" stroke-linejoin="round"/>
<polygon points="343.5,518.2 345.1,518.7 349.3,527.2" fill="#9CC45E" stroke="#9CC45E" stroke-width="0.5" stroke-linejoin="round"/>
<polygon points="347.7,510.3 347.7,512.5 372.7,501.8 372.7,500.2" fill="#9CC45E" stroke="#9CC45E" stroke-width="0.5" stroke-linejoin="round"/>
<polygon points="371.9,500.8 373.5,501.3 363.7,496.8" fill="#9CC45E" stroke="#9CC45E" stroke-width="0.5" stroke-linejoin="round"/>
<polygon points="371.9,500.8 373.5,501.3 381.7,497.3" fill="#9CC45E" stroke="#9CC45E" stroke-width="0.5" stroke-linejoin="round"/>
<polygon points="371.9,500.8 373.5,501.3 377.7,509.8" fill="#9CC45E" stroke="#9CC45E" stroke-width="0.5" stroke-linejoin="round"/>
<polygon points="369.4,555.9 369.4,558.1 394.4,547.4 394.4,545.8" fill="#9CC45E" stroke="#9CC45E" stroke-width="0.5" stroke-linejoin="round"/>
<polygon points="393.6,546.4 395.2,546.9 385.4,542.4" fill="#9CC45E" stroke="#9CC45E" stroke-width="0.5" stroke-linejoin="round"/>
<polygon points="393.6,546.4 395.2,546.9 403.4,542.9" fill="#9CC45E" stroke="#9CC45E" stroke-width="0.5" stroke-linejoin="round"/>
<polygon points="393.6,546.4 395.2,546.9 399.4,555.4" fill="#9CC45E" stroke="#9CC45E" stroke-width="0.5" stroke-linejoin="round"/>
<polygon points="397.2,538.5 397.2,540.7 422.2,530 422.2,528.4" fill="#9CC45E" stroke="#9CC45E" stroke-width="0.5" stroke-linejoin="round"/>
<polygon points="421.4,529 423,529.5 413.2,525" fill="#9CC45E" stroke="#9CC45E" stroke-width="0.5" stroke-linejoin="round"/>
<polygon points="421.4,529 423,529.5 431.2,525.5" fill="#9CC45E" stroke="#9CC45E" stroke-width="0.5" stroke-linejoin="round"/>
<polygon points="421.4,529 423,529.5 427.2,538" fill="#9CC45E" stroke="#9CC45E" stroke-width="0.5" stroke-linejoin="round"/>
<polygon points="295.6,482.4 296.9,433.5 300.1,433.5 301.4,482.4" fill="url(#g301)" stroke="url(#g301)" stroke-width="0.5" stroke-linejoin="round"/>
<ellipse cx="298.5" cy="482.4" rx="2.9" ry="1.2" fill="#C9CEEB"/>
<polygon points="294.5,429.9 302.5,428.1 303.5,430.9 296,434.1" fill="#E9EBF8" stroke="#E9EBF8" stroke-width="0.5" stroke-linejoin="round"/>
<polygon points="296,434.1 303.5,430.9 303.5,432.3 296.5,435.1" fill="#BFC6EA" stroke="#BFC6EA" stroke-width="0.5" stroke-linejoin="round"/>
<polygon points="294.5,431.5 297.1,431 293.6,414 292.3,416" fill="#DDE0F4" fill-opacity="0.92"/>
<polygon points="295.5,430.1 295.9,433.1 282.7,436.7 284.2,434.1" fill="#DDE0F4" fill-opacity="0.92"/>
<polygon points="297.3,430.7 295.3,433.3 311.1,446.9 310.7,443.9" fill="#DDE0F4" fill-opacity="0.85"/>
<ellipse cx="295.7" cy="431.7" rx="2.5" ry="2" fill="#4B509C"/>
<polygon points="267.2,499.8 268.5,450.4 271.7,450.4 273,499.8" fill="url(#g301)" stroke="url(#g301)" stroke-width="0.5" stroke-linejoin="round"/>
<ellipse cx="270.1" cy="499.8" rx="2.9" ry="1.2" fill="#C9CEEB"/>
<polygon points="266,446.8 274,445 275,447.8 267.5,451" fill="#E9EBF8" stroke="#E9EBF8" stroke-width="0.5" stroke-linejoin="round"/>
<polygon points="267.5,451 275,447.8 275,449.2 268,452" fill="#BFC6EA" stroke="#BFC6EA" stroke-width="0.5" stroke-linejoin="round"/>
<polygon points="266,448.4 268.6,447.9 265.1,430.9 263.8,432.9" fill="#DDE0F4" fill-opacity="0.92"/>
<polygon points="267,447 267.4,450 254.2,453.6 255.7,451" fill="#DDE0F4" fill-opacity="0.92"/>
<polygon points="268.8,447.6 266.8,450.2 282.6,463.8 282.2,460.8" fill="#DDE0F4" fill-opacity="0.85"/>
<ellipse cx="267.2" cy="448.6" rx="2.5" ry="2" fill="#4B509C"/>
<polygon points="344.8,511.3 346.1,462.4 349.3,462.4 350.6,511.3" fill="url(#g301)" stroke="url(#g301)" stroke-width="0.5" stroke-linejoin="round"/>
<ellipse cx="347.7" cy="511.3" rx="2.9" ry="1.2" fill="#C9CEEB"/>
<polygon points="343.8,458.8 351.8,457 352.8,459.8 345.3,463" fill="#E9EBF8" stroke="#E9EBF8" stroke-width="0.5" stroke-linejoin="round"/>
<polygon points="345.3,463 352.8,459.8 352.8,461.2 345.8,464" fill="#BFC6EA" stroke="#BFC6EA" stroke-width="0.5" stroke-linejoin="round"/>
<polygon points="343.8,460.4 346.4,459.9 342.9,442.9 341.6,444.9" fill="#DDE0F4" fill-opacity="0.92"/>
<polygon points="344.8,459 345.2,462 332,465.6 333.5,463" fill="#DDE0F4" fill-opacity="0.92"/>
<polygon points="346.6,459.6 344.6,462.2 360.4,475.8 360,472.8" fill="#DDE0F4" fill-opacity="0.85"/>
<ellipse cx="345" cy="460.6" rx="2.5" ry="2" fill="#4B509C"/>
<polygon points="316.4,528.7 317.7,479.8 320.9,479.8 322.2,528.7" fill="url(#g301)" stroke="url(#g301)" stroke-width="0.5" stroke-linejoin="round"/>
<ellipse cx="319.3" cy="528.7" rx="2.9" ry="1.2" fill="#C9CEEB"/>
<polygon points="315.4,476.2 323.4,474.4 324.4,477.2 316.9,480.4" fill="#E9EBF8" stroke="#E9EBF8" stroke-width="0.5" stroke-linejoin="round"/>
<polygon points="316.9,480.4 324.4,477.2 324.4,478.6 317.4,481.4" fill="#BFC6EA" stroke="#BFC6EA" stroke-width="0.5" stroke-linejoin="round"/>
<polygon points="315.4,477.8 318,477.3 314.5,460.3 313.2,462.3" fill="#DDE0F4" fill-opacity="0.92"/>
<polygon points="316.4,476.4 316.8,479.4 303.6,483 305.1,480.4" fill="#DDE0F4" fill-opacity="0.92"/>
<polygon points="318.2,477 316.2,479.6 332,493.2 331.6,490.2" fill="#DDE0F4" fill-opacity="0.85"/>
<ellipse cx="316.6" cy="478" rx="2.5" ry="2" fill="#4B509C"/>
<polygon points="394.3,539.5 395.6,490.9 398.8,490.9 400.1,539.5" fill="url(#g301)" stroke="url(#g301)" stroke-width="0.5" stroke-linejoin="round"/>
<ellipse cx="397.2" cy="539.5" rx="2.9" ry="1.2" fill="#C9CEEB"/>
<polygon points="393.3,487.3 401.3,485.5 402.3,488.3 394.8,491.5" fill="#E9EBF8" stroke="#E9EBF8" stroke-width="0.5" stroke-linejoin="round"/>
<polygon points="394.8,491.5 402.3,488.3 402.3,489.7 395.3,492.5" fill="#BFC6EA" stroke="#BFC6EA" stroke-width="0.5" stroke-linejoin="round"/>
<polygon points="393.3,488.9 395.9,488.4 392.4,471.4 391.1,473.4" fill="#DDE0F4" fill-opacity="0.92"/>
<polygon points="394.3,487.5 394.7,490.5 381.5,494.1 383,491.5" fill="#DDE0F4" fill-opacity="0.92"/>
<polygon points="396.1,488.1 394.1,490.7 409.9,504.3 409.5,501.3" fill="#DDE0F4" fill-opacity="0.85"/>
<ellipse cx="394.5" cy="489.1" rx="2.5" ry="2" fill="#4B509C"/>
<polygon points="366.5,556.9 367.8,508.3 371,508.3 372.3,556.9" fill="url(#g301)" stroke="url(#g301)" stroke-width="0.5" stroke-linejoin="round"/>
<ellipse cx="369.4" cy="556.9" rx="2.9" ry="1.2" fill="#C9CEEB"/>
<polygon points="365.1,504.7 373.1,502.9 374.1,505.7 366.6,508.9" fill="#E9EBF8" stroke="#E9EBF8" stroke-width="0.5" stroke-linejoin="round"/>
<polygon points="366.6,508.9 374.1,505.7 374.1,507.1 367.1,509.9" fill="#BFC6EA" stroke="#BFC6EA" stroke-width="0.5" stroke-linejoin="round"/>
<polygon points="365.1,506.3 367.7,505.8 364.2,488.8 362.9,490.8" fill="#DDE0F4" fill-opacity="0.92"/>
<polygon points="366.1,504.9 366.5,507.9 353.3,511.5 354.8,508.9" fill="#DDE0F4" fill-opacity="0.92"/>
<polygon points="367.9,505.5 365.9,508.1 381.7,521.7 381.3,518.7" fill="#DDE0F4" fill-opacity="0.85"/>
<ellipse cx="366.3" cy="506.5" rx="2.5" ry="2" fill="#4B509C"/>
<!-- solar -->
<polygon points="237.5,765.5 395,848 395,854.2 237.5,771.7" fill="#7CA63E" stroke="#7CA63E" stroke-width="0.5" stroke-linejoin="round"/>
<polygon points="395,848 487.7,792.7 487.7,798.9 395,854.2" fill="#8AB549" stroke="#8AB549" stroke-width="0.5" stroke-linejoin="round"/>
<polygon points="237.5,765.5 395,848 487.7,792.7 330.2,710.2" fill="#A0CF5F" stroke="#A0CF5F" stroke-width="0.5" stroke-linejoin="round"/>
<polygon points="255,767.4 390.5,838.4 470.2,790.8 334.7,719.8" fill="#93C253" stroke="#93C253" stroke-width="0.5" stroke-linejoin="round"/>
<line x1="353.7" y1="742.4" x2="353.7" y2="757.9" stroke="#1E4D5C" stroke-width="1.4" stroke-linecap="butt" />
<line x1="344.2" y1="737.1" x2="344.2" y2="749.6" stroke="#1E4D5C" stroke-width="1.4" stroke-linecap="butt" />
<polygon points="315.9,740.4 346.6,757.4 352.6,756.4 323.9,735.4" fill="#8DBB4E" stroke="#8DBB4E" stroke-width="0.5" stroke-linejoin="round"/>
<polygon points="330.9,709.7 361.6,726.7 346.6,757.4 315.9,740.4" fill="#D6E2FA" stroke="#D6E2FA" stroke-width="0.5" stroke-linejoin="round"/>
<polygon points="331.7,711.7 345.2,719.2 331.4,747.4 317.9,739.9" fill="#7485D3" stroke="#7485D3" stroke-width="0.5" stroke-linejoin="round"/>
<line x1="336.2" y1="714.2" x2="322.4" y2="742.4" stroke="#C3D0F5" stroke-width="0.8" stroke-linecap="butt" />
<line x1="340.7" y1="716.7" x2="326.9" y2="744.9" stroke="#C3D0F5" stroke-width="0.8" stroke-linecap="butt" />
<line x1="329.4" y1="716.4" x2="342.9" y2="723.9" stroke="#C3D0F5" stroke-width="0.8" stroke-linecap="butt" />
<line x1="327.1" y1="721.1" x2="340.6" y2="728.6" stroke="#C3D0F5" stroke-width="0.8" stroke-linecap="butt" />
<line x1="324.8" y1="725.8" x2="338.3" y2="733.3" stroke="#C3D0F5" stroke-width="0.8" stroke-linecap="butt" />
<line x1="322.5" y1="730.5" x2="336" y2="738" stroke="#C3D0F5" stroke-width="0.8" stroke-linecap="butt" />
<line x1="320.2" y1="735.2" x2="333.7" y2="742.7" stroke="#C3D0F5" stroke-width="0.8" stroke-linecap="butt" />
<polygon points="346.4,719.9 359.6,727.2 345.8,755.4 332.6,748.1" fill="#7485D3" stroke="#7485D3" stroke-width="0.5" stroke-linejoin="round"/>
<line x1="350.8" y1="722.3" x2="337" y2="750.5" stroke="#C3D0F5" stroke-width="0.8" stroke-linecap="butt" />
<line x1="355.2" y1="724.7" x2="341.4" y2="753" stroke="#C3D0F5" stroke-width="0.8" stroke-linecap="butt" />
<line x1="344.1" y1="724.6" x2="357.3" y2="731.9" stroke="#C3D0F5" stroke-width="0.8" stroke-linecap="butt" />
<line x1="341.8" y1="729.3" x2="355" y2="736.6" stroke="#C3D0F5" stroke-width="0.8" stroke-linecap="butt" />
<line x1="339.5" y1="734" x2="352.7" y2="741.3" stroke="#C3D0F5" stroke-width="0.8" stroke-linecap="butt" />
<line x1="337.2" y1="738.7" x2="350.4" y2="746" stroke="#C3D0F5" stroke-width="0.8" stroke-linecap="butt" />
<line x1="334.9" y1="743.4" x2="348.1" y2="750.7" stroke="#C3D0F5" stroke-width="0.8" stroke-linecap="butt" />
<polygon points="315.9,740.4 346.6,757.4 347.2,758.7 316.5,741.7" fill="#B4C6F0" stroke="#B4C6F0" stroke-width="0.5" stroke-linejoin="round"/>
<polygon points="361.6,726.7 346.6,757.4 348,757.6 363,726.9" fill="#AFC0EC" stroke="#AFC0EC" stroke-width="0.5" stroke-linejoin="round"/>
<line x1="398" y1="767.9" x2="398" y2="783.4" stroke="#1E4D5C" stroke-width="1.4" stroke-linecap="butt" />
<line x1="388.5" y1="762.6" x2="388.5" y2="775.1" stroke="#1E4D5C" stroke-width="1.4" stroke-linecap="butt" />
<polygon points="360.2,765.9 390.9,782.9 396.9,781.9 368.2,760.9" fill="#8DBB4E" stroke="#8DBB4E" stroke-width="0.5" stroke-linejoin="round"/>
<polygon points="375.2,735.2 405.9,752.2 390.9,782.9 360.2,765.9" fill="#D6E2FA" stroke="#D6E2FA" stroke-width="0.5" stroke-linejoin="round"/>
<polygon points="376,737.2 389.5,744.7 375.7,772.9 362.2,765.4" fill="#7485D3" stroke="#7485D3" stroke-width="0.5" stroke-linejoin="round"/>
<line x1="380.5" y1="739.7" x2="366.7" y2="767.9" stroke="#C3D0F5" stroke-width="0.8" stroke-linecap="butt" />
<line x1="385" y1="742.2" x2="371.2" y2="770.4" stroke="#C3D0F5" stroke-width="0.8" stroke-linecap="butt" />
<line x1="373.7" y1="741.9" x2="387.2" y2="749.4" stroke="#C3D0F5" stroke-width="0.8" stroke-linecap="butt" />
<line x1="371.4" y1="746.6" x2="384.9" y2="754.1" stroke="#C3D0F5" stroke-width="0.8" stroke-linecap="butt" />
<line x1="369.1" y1="751.3" x2="382.6" y2="758.8" stroke="#C3D0F5" stroke-width="0.8" stroke-linecap="butt" />
<line x1="366.8" y1="756" x2="380.3" y2="763.5" stroke="#C3D0F5" stroke-width="0.8" stroke-linecap="butt" />
<line x1="364.5" y1="760.7" x2="378" y2="768.2" stroke="#C3D0F5" stroke-width="0.8" stroke-linecap="butt" />
<polygon points="390.7,745.4 403.9,752.7 390.1,780.9 376.9,773.6" fill="#7485D3" stroke="#7485D3" stroke-width="0.5" stroke-linejoin="round"/>
<line x1="395.1" y1="747.8" x2="381.3" y2="776" stroke="#C3D0F5" stroke-width="0.8" stroke-linecap="butt" />
<line x1="399.5" y1="750.2" x2="385.7" y2="778.5" stroke="#C3D0F5" stroke-width="0.8" stroke-linecap="butt" />
<line x1="388.4" y1="750.1" x2="401.6" y2="757.4" stroke="#C3D0F5" stroke-width="0.8" stroke-linecap="butt" />
<line x1="386.1" y1="754.8" x2="399.3" y2="762.1" stroke="#C3D0F5" stroke-width="0.8" stroke-linecap="butt" />
<line x1="383.8" y1="759.5" x2="397" y2="766.8" stroke="#C3D0F5" stroke-width="0.8" stroke-linecap="butt" />
<line x1="381.5" y1="764.2" x2="394.7" y2="771.5" stroke="#C3D0F5" stroke-width="0.8" stroke-linecap="butt" />
<line x1="379.2" y1="768.9" x2="392.4" y2="776.2" stroke="#C3D0F5" stroke-width="0.8" stroke-linecap="butt" />
<polygon points="360.2,765.9 390.9,782.9 391.5,784.2 360.8,767.2" fill="#B4C6F0" stroke="#B4C6F0" stroke-width="0.5" stroke-linejoin="round"/>
<polygon points="405.9,752.2 390.9,782.9 392.3,783.1 407.3,752.4" fill="#AFC0EC" stroke="#AFC0EC" stroke-width="0.5" stroke-linejoin="round"/>
<line x1="442.3" y1="793.4" x2="442.3" y2="808.9" stroke="#1E4D5C" stroke-width="1.4" stroke-linecap="butt" />
<line x1="432.8" y1="788.1" x2="432.8" y2="800.6" stroke="#1E4D5C" stroke-width="1.4" stroke-linecap="butt" />
<polygon points="404.5,791.4 435.2,808.4 441.2,807.4 412.5,786.4" fill="#8DBB4E" stroke="#8DBB4E" stroke-width="0.5" stroke-linejoin="round"/>
<polygon points="419.5,760.7 450.2,777.7 435.2,808.4 404.5,791.4" fill="#D6E2FA" stroke="#D6E2FA" stroke-width="0.5" stroke-linejoin="round"/>
<polygon points="420.3,762.7 433.8,770.2 420,798.4 406.5,790.9" fill="#7485D3" stroke="#7485D3" stroke-width="0.5" stroke-linejoin="round"/>
<line x1="424.8" y1="765.2" x2="411" y2="793.4" stroke="#C3D0F5" stroke-width="0.8" stroke-linecap="butt" />
<line x1="429.3" y1="767.7" x2="415.5" y2="795.9" stroke="#C3D0F5" stroke-width="0.8" stroke-linecap="butt" />
<line x1="418" y1="767.4" x2="431.5" y2="774.9" stroke="#C3D0F5" stroke-width="0.8" stroke-linecap="butt" />
<line x1="415.7" y1="772.1" x2="429.2" y2="779.6" stroke="#C3D0F5" stroke-width="0.8" stroke-linecap="butt" />
<line x1="413.4" y1="776.8" x2="426.9" y2="784.3" stroke="#C3D0F5" stroke-width="0.8" stroke-linecap="butt" />
<line x1="411.1" y1="781.5" x2="424.6" y2="789" stroke="#C3D0F5" stroke-width="0.8" stroke-linecap="butt" />
<line x1="408.8" y1="786.2" x2="422.3" y2="793.7" stroke="#C3D0F5" stroke-width="0.8" stroke-linecap="butt" />
<polygon points="435,770.9 448.2,778.2 434.4,806.4 421.2,799.1" fill="#7485D3" stroke="#7485D3" stroke-width="0.5" stroke-linejoin="round"/>
<line x1="439.4" y1="773.3" x2="425.6" y2="801.5" stroke="#C3D0F5" stroke-width="0.8" stroke-linecap="butt" />
<line x1="443.8" y1="775.7" x2="430" y2="804" stroke="#C3D0F5" stroke-width="0.8" stroke-linecap="butt" />
<line x1="432.7" y1="775.6" x2="445.9" y2="782.9" stroke="#C3D0F5" stroke-width="0.8" stroke-linecap="butt" />
<line x1="430.4" y1="780.3" x2="443.6" y2="787.6" stroke="#C3D0F5" stroke-width="0.8" stroke-linecap="butt" />
<line x1="428.1" y1="785" x2="441.3" y2="792.3" stroke="#C3D0F5" stroke-width="0.8" stroke-linecap="butt" />
<line x1="425.8" y1="789.7" x2="439" y2="797" stroke="#C3D0F5" stroke-width="0.8" stroke-linecap="butt" />
<line x1="423.5" y1="794.4" x2="436.7" y2="801.7" stroke="#C3D0F5" stroke-width="0.8" stroke-linecap="butt" />
<polygon points="404.5,791.4 435.2,808.4 435.8,809.7 405.1,792.7" fill="#B4C6F0" stroke="#B4C6F0" stroke-width="0.5" stroke-linejoin="round"/>
<polygon points="450.2,777.7 435.2,808.4 436.6,808.6 451.6,777.9" fill="#AFC0EC" stroke="#AFC0EC" stroke-width="0.5" stroke-linejoin="round"/>
<line x1="330.2" y1="755.6" x2="330.2" y2="771.1" stroke="#1E4D5C" stroke-width="1.4" stroke-linecap="butt" />
<line x1="320.7" y1="750.3" x2="320.7" y2="762.8" stroke="#1E4D5C" stroke-width="1.4" stroke-linecap="butt" />
<polygon points="292.4,753.6 323.1,770.6 329.1,769.6 300.4,748.6" fill="#8DBB4E" stroke="#8DBB4E" stroke-width="0.5" stroke-linejoin="round"/>
<polygon points="307.4,722.9 338.1,739.9 323.1,770.6 292.4,753.6" fill="#D6E2FA" stroke="#D6E2FA" stroke-width="0.5" stroke-linejoin="round"/>
<polygon points="308.2,724.9 321.7,732.4 307.9,760.6 294.4,753.1" fill="#7485D3" stroke="#7485D3" stroke-width="0.5" stroke-linejoin="round"/>
<line x1="312.7" y1="727.4" x2="298.9" y2="755.6" stroke="#C3D0F5" stroke-width="0.8" stroke-linecap="butt" />
<line x1="317.2" y1="729.9" x2="303.4" y2="758.1" stroke="#C3D0F5" stroke-width="0.8" stroke-linecap="butt" />
<line x1="305.9" y1="729.6" x2="319.4" y2="737.1" stroke="#C3D0F5" stroke-width="0.8" stroke-linecap="butt" />
<line x1="303.6" y1="734.3" x2="317.1" y2="741.8" stroke="#C3D0F5" stroke-width="0.8" stroke-linecap="butt" />
<line x1="301.3" y1="739" x2="314.8" y2="746.5" stroke="#C3D0F5" stroke-width="0.8" stroke-linecap="butt" />
<line x1="299" y1="743.7" x2="312.5" y2="751.2" stroke="#C3D0F5" stroke-width="0.8" stroke-linecap="butt" />
<line x1="296.7" y1="748.4" x2="310.2" y2="755.9" stroke="#C3D0F5" stroke-width="0.8" stroke-linecap="butt" />
<polygon points="322.9,733.1 336.1,740.4 322.3,768.6 309.1,761.3" fill="#7485D3" stroke="#7485D3" stroke-width="0.5" stroke-linejoin="round"/>
<line x1="327.3" y1="735.5" x2="313.5" y2="763.7" stroke="#C3D0F5" stroke-width="0.8" stroke-linecap="butt" />
<line x1="331.7" y1="737.9" x2="317.9" y2="766.2" stroke="#C3D0F5" stroke-width="0.8" stroke-linecap="butt" />
<line x1="320.6" y1="737.8" x2="333.8" y2="745.1" stroke="#C3D0F5" stroke-width="0.8" stroke-linecap="butt" />
<line x1="318.3" y1="742.5" x2="331.5" y2="749.8" stroke="#C3D0F5" stroke-width="0.8" stroke-linecap="butt" />
<line x1="316" y1="747.2" x2="329.2" y2="754.5" stroke="#C3D0F5" stroke-width="0.8" stroke-linecap="butt" />
<line x1="313.7" y1="751.9" x2="326.9" y2="759.2" stroke="#C3D0F5" stroke-width="0.8" stroke-linecap="butt" />
<line x1="311.4" y1="756.6" x2="324.6" y2="763.9" stroke="#C3D0F5" stroke-width="0.8" stroke-linecap="butt" />
<polygon points="292.4,753.6 323.1,770.6 323.7,771.9 293,754.9" fill="#B4C6F0" stroke="#B4C6F0" stroke-width="0.5" stroke-linejoin="round"/>
<polygon points="338.1,739.9 323.1,770.6 324.5,770.8 339.5,740.1" fill="#AFC0EC" stroke="#AFC0EC" stroke-width="0.5" stroke-linejoin="round"/>
<line x1="374.5" y1="781.1" x2="374.5" y2="796.6" stroke="#1E4D5C" stroke-width="1.4" stroke-linecap="butt" />
<line x1="365" y1="775.8" x2="365" y2="788.3" stroke="#1E4D5C" stroke-width="1.4" stroke-linecap="butt" />
<polygon points="336.7,779.1 367.4,796.1 373.4,795.1 344.7,774.1" fill="#8DBB4E" stroke="#8DBB4E" stroke-width="0.5" stroke-linejoin="round"/>
<polygon points="351.7,748.4 382.4,765.4 367.4,796.1 336.7,779.1" fill="#D6E2FA" stroke="#D6E2FA" stroke-width="0.5" stroke-linejoin="round"/>
<polygon points="352.5,750.4 366,757.9 352.2,786.1 338.7,778.6" fill="#7485D3" stroke="#7485D3" stroke-width="0.5" stroke-linejoin="round"/>
<line x1="357" y1="752.9" x2="343.2" y2="781.1" stroke="#C3D0F5" stroke-width="0.8" stroke-linecap="butt" />
<line x1="361.5" y1="755.4" x2="347.7" y2="783.6" stroke="#C3D0F5" stroke-width="0.8" stroke-linecap="butt" />
<line x1="350.2" y1="755.1" x2="363.7" y2="762.6" stroke="#C3D0F5" stroke-width="0.8" stroke-linecap="butt" />
<line x1="347.9" y1="759.8" x2="361.4" y2="767.3" stroke="#C3D0F5" stroke-width="0.8" stroke-linecap="butt" />
<line x1="345.6" y1="764.5" x2="359.1" y2="772" stroke="#C3D0F5" stroke-width="0.8" stroke-linecap="butt" />
<line x1="343.3" y1="769.2" x2="356.8" y2="776.7" stroke="#C3D0F5" stroke-width="0.8" stroke-linecap="butt" />
<line x1="341" y1="773.9" x2="354.5" y2="781.4" stroke="#C3D0F5" stroke-width="0.8" stroke-linecap="butt" />
<polygon points="367.2,758.6 380.4,765.9 366.6,794.1 353.4,786.8" fill="#7485D3" stroke="#7485D3" stroke-width="0.5" stroke-linejoin="round"/>
<line x1="371.6" y1="761" x2="357.8" y2="789.2" stroke="#C3D0F5" stroke-width="0.8" stroke-linecap="butt" />
<line x1="376" y1="763.4" x2="362.2" y2="791.7" stroke="#C3D0F5" stroke-width="0.8" stroke-linecap="butt" />
<line x1="364.9" y1="763.3" x2="378.1" y2="770.6" stroke="#C3D0F5" stroke-width="0.8" stroke-linecap="butt" />
<line x1="362.6" y1="768" x2="375.8" y2="775.3" stroke="#C3D0F5" stroke-width="0.8" stroke-linecap="butt" />
<line x1="360.3" y1="772.7" x2="373.5" y2="780" stroke="#C3D0F5" stroke-width="0.8" stroke-linecap="butt" />
<line x1="358" y1="777.4" x2="371.2" y2="784.7" stroke="#C3D0F5" stroke-width="0.8" stroke-linecap="butt" />
<line x1="355.7" y1="782.1" x2="368.9" y2="789.4" stroke="#C3D0F5" stroke-width="0.8" stroke-linecap="butt" />
<polygon points="336.7,779.1 367.4,796.1 368,797.4 337.3,780.4" fill="#B4C6F0" stroke="#B4C6F0" stroke-width="0.5" stroke-linejoin="round"/>
<polygon points="382.4,765.4 367.4,796.1 368.8,796.3 383.8,765.6" fill="#AFC0EC" stroke="#AFC0EC" stroke-width="0.5" stroke-linejoin="round"/>
<line x1="418.8" y1="806.6" x2="418.8" y2="822.1" stroke="#1E4D5C" stroke-width="1.4" stroke-linecap="butt" />
<line x1="409.3" y1="801.3" x2="409.3" y2="813.8" stroke="#1E4D5C" stroke-width="1.4" stroke-linecap="butt" />
<polygon points="381,804.6 411.7,821.6 417.7,820.6 389,799.6" fill="#8DBB4E" stroke="#8DBB4E" stroke-width="0.5" stroke-linejoin="round"/>
<polygon points="396,773.9 426.7,790.9 411.7,821.6 381,804.6" fill="#D6E2FA" stroke="#D6E2FA" stroke-width="0.5" stroke-linejoin="round"/>
<polygon points="396.8,775.9 410.3,783.4 396.5,811.6 383,804.1" fill="#7485D3" stroke="#7485D3" stroke-width="0.5" stroke-linejoin="round"/>
<line x1="401.3" y1="778.4" x2="387.5" y2="806.6" stroke="#C3D0F5" stroke-width="0.8" stroke-linecap="butt" />
<line x1="405.8" y1="780.9" x2="392" y2="809.1" stroke="#C3D0F5" stroke-width="0.8" stroke-linecap="butt" />
<line x1="394.5" y1="780.6" x2="408" y2="788.1" stroke="#C3D0F5" stroke-width="0.8" stroke-linecap="butt" />
<line x1="392.2" y1="785.3" x2="405.7" y2="792.8" stroke="#C3D0F5" stroke-width="0.8" stroke-linecap="butt" />
<line x1="389.9" y1="790" x2="403.4" y2="797.5" stroke="#C3D0F5" stroke-width="0.8" stroke-linecap="butt" />
<line x1="387.6" y1="794.7" x2="401.1" y2="802.2" stroke="#C3D0F5" stroke-width="0.8" stroke-linecap="butt" />
<line x1="385.3" y1="799.4" x2="398.8" y2="806.9" stroke="#C3D0F5" stroke-width="0.8" stroke-linecap="butt" />
<polygon points="411.5,784.1 424.7,791.4 410.9,819.6 397.7,812.3" fill="#7485D3" stroke="#7485D3" stroke-width="0.5" stroke-linejoin="round"/>
<line x1="415.9" y1="786.5" x2="402.1" y2="814.7" stroke="#C3D0F5" stroke-width="0.8" stroke-linecap="butt" />
<line x1="420.3" y1="788.9" x2="406.5" y2="817.2" stroke="#C3D0F5" stroke-width="0.8" stroke-linecap="butt" />
<line x1="409.2" y1="788.8" x2="422.4" y2="796.1" stroke="#C3D0F5" stroke-width="0.8" stroke-linecap="butt" />
<line x1="406.9" y1="793.5" x2="420.1" y2="800.8" stroke="#C3D0F5" stroke-width="0.8" stroke-linecap="butt" />
<line x1="404.6" y1="798.2" x2="417.8" y2="805.5" stroke="#C3D0F5" stroke-width="0.8" stroke-linecap="butt" />
<line x1="402.3" y1="802.9" x2="415.5" y2="810.2" stroke="#C3D0F5" stroke-width="0.8" stroke-linecap="butt" />
<line x1="400" y1="807.6" x2="413.2" y2="814.9" stroke="#C3D0F5" stroke-width="0.8" stroke-linecap="butt" />
<polygon points="381,804.6 411.7,821.6 412.3,822.9 381.6,805.9" fill="#B4C6F0" stroke="#B4C6F0" stroke-width="0.5" stroke-linejoin="round"/>
<polygon points="426.7,790.9 411.7,821.6 413.1,821.8 428.1,791.1" fill="#AFC0EC" stroke="#AFC0EC" stroke-width="0.5" stroke-linejoin="round"/>
<line x1="306.7" y1="768.8" x2="306.7" y2="784.3" stroke="#1E4D5C" stroke-width="1.4" stroke-linecap="butt" />
<line x1="297.2" y1="763.5" x2="297.2" y2="776" stroke="#1E4D5C" stroke-width="1.4" stroke-linecap="butt" />
<polygon points="268.9,766.8 299.6,783.8 305.6,782.8 276.9,761.8" fill="#8DBB4E" stroke="#8DBB4E" stroke-width="0.5" stroke-linejoin="round"/>
<polygon points="283.9,736.1 314.6,753.1 299.6,783.8 268.9,766.8" fill="#D6E2FA" stroke="#D6E2FA" stroke-width="0.5" stroke-linejoin="round"/>
<polygon points="284.7,738.1 298.2,745.6 284.4,773.8 270.9,766.3" fill="#7485D3" stroke="#7485D3" stroke-width="0.5" stroke-linejoin="round"/>
<line x1="289.2" y1="740.6" x2="275.4" y2="768.8" stroke="#C3D0F5" stroke-width="0.8" stroke-linecap="butt" />
<line x1="293.7" y1="743.1" x2="279.9" y2="771.3" stroke="#C3D0F5" stroke-width="0.8" stroke-linecap="butt" />
<line x1="282.4" y1="742.8" x2="295.9" y2="750.3" stroke="#C3D0F5" stroke-width="0.8" stroke-linecap="butt" />
<line x1="280.1" y1="747.5" x2="293.6" y2="755" stroke="#C3D0F5" stroke-width="0.8" stroke-linecap="butt" />
<line x1="277.8" y1="752.2" x2="291.3" y2="759.7" stroke="#C3D0F5" stroke-width="0.8" stroke-linecap="butt" />
<line x1="275.5" y1="756.9" x2="289" y2="764.4" stroke="#C3D0F5" stroke-width="0.8" stroke-linecap="butt" />
<line x1="273.2" y1="761.6" x2="286.7" y2="769.1" stroke="#C3D0F5" stroke-width="0.8" stroke-linecap="butt" />
<polygon points="299.4,746.3 312.6,753.6 298.8,781.8 285.6,774.5" fill="#7485D3" stroke="#7485D3" stroke-width="0.5" stroke-linejoin="round"/>
<line x1="303.8" y1="748.7" x2="290" y2="776.9" stroke="#C3D0F5" stroke-width="0.8" stroke-linecap="butt" />
<line x1="308.2" y1="751.1" x2="294.4" y2="779.4" stroke="#C3D0F5" stroke-width="0.8" stroke-linecap="butt" />
<line x1="297.1" y1="751" x2="310.3" y2="758.3" stroke="#C3D0F5" stroke-width="0.8" stroke-linecap="butt" />
<line x1="294.8" y1="755.7" x2="308" y2="763" stroke="#C3D0F5" stroke-width="0.8" stroke-linecap="butt" />
<line x1="292.5" y1="760.4" x2="305.7" y2="767.7" stroke="#C3D0F5" stroke-width="0.8" stroke-linecap="butt" />
<line x1="290.2" y1="765.1" x2="303.4" y2="772.4" stroke="#C3D0F5" stroke-width="0.8" stroke-linecap="butt" />
<line x1="287.9" y1="769.8" x2="301.1" y2="777.1" stroke="#C3D0F5" stroke-width="0.8" stroke-linecap="butt" />
<polygon points="268.9,766.8 299.6,783.8 300.2,785.1 269.5,768.1" fill="#B4C6F0" stroke="#B4C6F0" stroke-width="0.5" stroke-linejoin="round"/>
<polygon points="314.6,753.1 299.6,783.8 301,784 316,753.3" fill="#AFC0EC" stroke="#AFC0EC" stroke-width="0.5" stroke-linejoin="round"/>
<line x1="351" y1="794.3" x2="351" y2="809.8" stroke="#1E4D5C" stroke-width="1.4" stroke-linecap="butt" />
<line x1="341.5" y1="789" x2="341.5" y2="801.5" stroke="#1E4D5C" stroke-width="1.4" stroke-linecap="butt" />
<polygon points="313.2,792.3 343.9,809.3 349.9,808.3 321.2,787.3" fill="#8DBB4E" stroke="#8DBB4E" stroke-width="0.5" stroke-linejoin="round"/>
<polygon points="328.2,761.6 358.9,778.6 343.9,809.3 313.2,792.3" fill="#D6E2FA" stroke="#D6E2FA" stroke-width="0.5" stroke-linejoin="round"/>
<polygon points="329,763.6 342.5,771.1 328.7,799.3 315.2,791.8" fill="#7485D3" stroke="#7485D3" stroke-width="0.5" stroke-linejoin="round"/>
<line x1="333.5" y1="766.1" x2="319.7" y2="794.3" stroke="#C3D0F5" stroke-width="0.8" stroke-linecap="butt" />
<line x1="338" y1="768.6" x2="324.2" y2="796.8" stroke="#C3D0F5" stroke-width="0.8" stroke-linecap="butt" />
<line x1="326.7" y1="768.3" x2="340.2" y2="775.8" stroke="#C3D0F5" stroke-width="0.8" stroke-linecap="butt" />
<line x1="324.4" y1="773" x2="337.9" y2="780.5" stroke="#C3D0F5" stroke-width="0.8" stroke-linecap="butt" />
<line x1="322.1" y1="777.7" x2="335.6" y2="785.2" stroke="#C3D0F5" stroke-width="0.8" stroke-linecap="butt" />
<line x1="319.8" y1="782.4" x2="333.3" y2="789.9" stroke="#C3D0F5" stroke-width="0.8" stroke-linecap="butt" />
<line x1="317.5" y1="787.1" x2="331" y2="794.6" stroke="#C3D0F5" stroke-width="0.8" stroke-linecap="butt" />
<polygon points="343.7,771.8 356.9,779.1 343.1,807.3 329.9,800" fill="#7485D3" stroke="#7485D3" stroke-width="0.5" stroke-linejoin="round"/>
<line x1="348.1" y1="774.2" x2="334.3" y2="802.4" stroke="#C3D0F5" stroke-width="0.8" stroke-linecap="butt" />
<line x1="352.5" y1="776.6" x2="338.7" y2="804.9" stroke="#C3D0F5" stroke-width="0.8" stroke-linecap="butt" />
<line x1="341.4" y1="776.5" x2="354.6" y2="783.8" stroke="#C3D0F5" stroke-width="0.8" stroke-linecap="butt" />
<line x1="339.1" y1="781.2" x2="352.3" y2="788.5" stroke="#C3D0F5" stroke-width="0.8" stroke-linecap="butt" />
<line x1="336.8" y1="785.9" x2="350" y2="793.2" stroke="#C3D0F5" stroke-width="0.8" stroke-linecap="butt" />
<line x1="334.5" y1="790.6" x2="347.7" y2="797.9" stroke="#C3D0F5" stroke-width="0.8" stroke-linecap="butt" />
<line x1="332.2" y1="795.3" x2="345.4" y2="802.6" stroke="#C3D0F5" stroke-width="0.8" stroke-linecap="butt" />
<polygon points="313.2,792.3 343.9,809.3 344.5,810.6 313.8,793.6" fill="#B4C6F0" stroke="#B4C6F0" stroke-width="0.5" stroke-linejoin="round"/>
<polygon points="358.9,778.6 343.9,809.3 345.3,809.5 360.3,778.8" fill="#AFC0EC" stroke="#AFC0EC" stroke-width="0.5" stroke-linejoin="round"/>
<line x1="395.3" y1="819.8" x2="395.3" y2="835.3" stroke="#1E4D5C" stroke-width="1.4" stroke-linecap="butt" />
<line x1="385.8" y1="814.5" x2="385.8" y2="827" stroke="#1E4D5C" stroke-width="1.4" stroke-linecap="butt" />
<polygon points="357.5,817.8 388.2,834.8 394.2,833.8 365.5,812.8" fill="#8DBB4E" stroke="#8DBB4E" stroke-width="0.5" stroke-linejoin="round"/>
<polygon points="372.5,787.1 403.2,804.1 388.2,834.8 357.5,817.8" fill="#D6E2FA" stroke="#D6E2FA" stroke-width="0.5" stroke-linejoin="round"/>
<polygon points="373.3,789.1 386.8,796.6 373,824.8 359.5,817.3" fill="#7485D3" stroke="#7485D3" stroke-width="0.5" stroke-linejoin="round"/>
<line x1="377.8" y1="791.6" x2="364" y2="819.8" stroke="#C3D0F5" stroke-width="0.8" stroke-linecap="butt" />
<line x1="382.3" y1="794.1" x2="368.5" y2="822.3" stroke="#C3D0F5" stroke-width="0.8" stroke-linecap="butt" />
<line x1="371" y1="793.8" x2="384.5" y2="801.3" stroke="#C3D0F5" stroke-width="0.8" stroke-linecap="butt" />
<line x1="368.7" y1="798.5" x2="382.2" y2="806" stroke="#C3D0F5" stroke-width="0.8" stroke-linecap="butt" />
<line x1="366.4" y1="803.2" x2="379.9" y2="810.7" stroke="#C3D0F5" stroke-width="0.8" stroke-linecap="butt" />
<line x1="364.1" y1="807.9" x2="377.6" y2="815.4" stroke="#C3D0F5" stroke-width="0.8" stroke-linecap="butt" />
<line x1="361.8" y1="812.6" x2="375.3" y2="820.1" stroke="#C3D0F5" stroke-width="0.8" stroke-linecap="butt" />
<polygon points="388,797.3 401.2,804.6 387.4,832.8 374.2,825.5" fill="#7485D3" stroke="#7485D3" stroke-width="0.5" stroke-linejoin="round"/>
<line x1="392.4" y1="799.7" x2="378.6" y2="827.9" stroke="#C3D0F5" stroke-width="0.8" stroke-linecap="butt" />
<line x1="396.8" y1="802.1" x2="383" y2="830.4" stroke="#C3D0F5" stroke-width="0.8" stroke-linecap="butt" />
<line x1="385.7" y1="802" x2="398.9" y2="809.3" stroke="#C3D0F5" stroke-width="0.8" stroke-linecap="butt" />
<line x1="383.4" y1="806.7" x2="396.6" y2="814" stroke="#C3D0F5" stroke-width="0.8" stroke-linecap="butt" />
<line x1="381.1" y1="811.4" x2="394.3" y2="818.7" stroke="#C3D0F5" stroke-width="0.8" stroke-linecap="butt" />
<line x1="378.8" y1="816.1" x2="392" y2="823.4" stroke="#C3D0F5" stroke-width="0.8" stroke-linecap="butt" />
<line x1="376.5" y1="820.8" x2="389.7" y2="828.1" stroke="#C3D0F5" stroke-width="0.8" stroke-linecap="butt" />
<polygon points="357.5,817.8 388.2,834.8 388.8,836.1 358.1,819.1" fill="#B4C6F0" stroke="#B4C6F0" stroke-width="0.5" stroke-linejoin="round"/>
<polygon points="403.2,804.1 388.2,834.8 389.6,835 404.6,804.3" fill="#AFC0EC" stroke="#AFC0EC" stroke-width="0.5" stroke-linejoin="round"/>
<!-- battery -->
<defs><linearGradient id="g401" x1="0" y1="0" x2="1" y2="0"><stop offset="0" stop-color="#E4E4E4"/><stop offset="0.2" stop-color="#F4F4F4"/><stop offset="0.65" stop-color="#F1F1F1"/><stop offset="1" stop-color="#DEDEDE"/></linearGradient></defs>
<path d="M590.3,617.1 L590.3,671.8 A20.1,10 0 0 0 630.5,671.8 L630.5,617.1 A20.1,10 0 0 0 590.3,617.1 Z" fill="url(#g401)"/>
<ellipse cx="610.4" cy="617.1" rx="20.1" ry="10" fill="#F6F6F6"/>
<ellipse cx="609.9" cy="616.7" rx="12.7" ry="8.2" fill="#B9B9BB"/>
<ellipse cx="609.9" cy="615.9" rx="11.8" ry="7.4" fill="#C6C6C8"/>
<ellipse cx="609.4" cy="614.9" rx="6.1" ry="3.9" fill="#DADADC"/>
<ellipse cx="609.4" cy="614.3" rx="5.6" ry="3.4" fill="#E8E8EA"/>
<polygon points="611.6,634.4 626.4,628.8 626.4,671.4 611.6,676.2" fill="#606C6D" stroke="#606C6D" stroke-width="0.5" stroke-linejoin="round"/>
<polygon points="612.5,675.4 625.4,670.6 625.4,667.7 612.5,672.6" fill="#8EDB3C" stroke="#8EDB3C" stroke-width="0.5" stroke-linejoin="round"/>
<polygon points="612.5,671.6 625.4,666.7 625.4,663.9 612.5,668.7" fill="#8EDB3C" stroke="#8EDB3C" stroke-width="0.5" stroke-linejoin="round"/>
<polygon points="612.5,667.7 625.4,662.9 625.4,660.1 612.5,664.9" fill="#8EDB3C" stroke="#8EDB3C" stroke-width="0.5" stroke-linejoin="round"/>
<polygon points="612.5,663.9 625.4,659.1 625.4,656.2 612.5,661" fill="#8EDB3C" stroke="#8EDB3C" stroke-width="0.5" stroke-linejoin="round"/>
<polygon points="612.5,660 625.4,655.2 625.4,652.4 612.5,657.2" fill="#8EDB3C" stroke="#8EDB3C" stroke-width="0.5" stroke-linejoin="round"/>
<polygon points="612.5,656.2 625.4,651.4 625.4,648.5 612.5,653.3" fill="#8EDB3C" stroke="#8EDB3C" stroke-width="0.5" stroke-linejoin="round"/>
<polygon points="612.5,652.3 625.4,647.5 625.4,644.7 612.5,649.5" fill="#8EDB3C" stroke="#8EDB3C" stroke-width="0.5" stroke-linejoin="round"/>
<polygon points="612.5,648.5 625.4,643.7 625.4,640.8 612.5,645.6" fill="#8EDB3C" stroke="#8EDB3C" stroke-width="0.5" stroke-linejoin="round"/>
<polygon points="612.5,644.6 625.4,639.8 625.4,637 612.5,641.8" fill="#8EDB3C" stroke="#8EDB3C" stroke-width="0.5" stroke-linejoin="round"/>
<path d="M630.5,623.3 L630.5,668.4 A14.5,7 0 0 0 659.5,668.4 L659.5,623.3 A14.5,7 0 0 0 630.5,623.3 Z" fill="url(#g401)"/>
<ellipse cx="645" cy="623.3" rx="14.5" ry="7" fill="#F6F6F6"/>
<ellipse cx="644.5" cy="622.9" rx="10.9" ry="6.2" fill="#B9B9BB"/>
<ellipse cx="644.5" cy="622.1" rx="10.1" ry="5.6" fill="#C6C6C8"/>
<ellipse cx="644" cy="621.1" rx="5.2" ry="3" fill="#DADADC"/>
<ellipse cx="644" cy="620.5" rx="4.8" ry="2.6" fill="#E8E8EA"/>
<polygon points="644.5,637.2 657,633.6 657,667.3 644.5,671.4" fill="#606C6D" stroke="#606C6D" stroke-width="0.5" stroke-linejoin="round"/>
<polygon points="645.4,670.6 656,667.5 656,661.5 645.4,664.6" fill="#E0373C" stroke="#E0373C" stroke-width="0.5" stroke-linejoin="round"/>
<!-- hydro -->
<polygon points="335.1,1097 352.5,1106.4 352.5,1110.7 335.1,1101.3" fill="#C9C9C9" stroke="#C9C9C9" stroke-width="0.5" stroke-linejoin="round"/>
<polygon points="352.5,1106.4 448,1051.1 448,1055.2 352.5,1110.7" fill="#B4B4B4" stroke="#B4B4B4" stroke-width="0.5" stroke-linejoin="round"/>
<polygon points="335.1,1097 429.2,1039.8 448,1051.1 352.5,1106.4" fill="#ECECEC" stroke="#ECECEC" stroke-width="0.5" stroke-linejoin="round"/>
<polygon points="284.5,1011.6 309.8,1025.1 333.7,1097 284.5,1071.7" fill="#DCDCDC" stroke="#DCDCDC" stroke-width="0.5" stroke-linejoin="round"/>
<polygon points="377.8,957.1 387.2,952.3 405.3,968.9 397.3,973.6" fill="#9BD24C" stroke="#9BD24C" stroke-width="0.5" stroke-linejoin="round"/>
<polygon points="405.3,968.9 429.2,1039.8 421.9,1043.5 398.8,976.9" fill="#8CC63F" stroke="#8CC63F" stroke-width="0.5" stroke-linejoin="round"/>
<polygon points="298.2,1003.7 369.1,961.7 387.9,973.6 317.7,1015.2" fill="#36B6B2" stroke="#36B6B2" stroke-width="0.5" stroke-linejoin="round"/>
<polygon points="317.7,1015.2 387.9,973.6 399.5,980.5 329.3,1022.5" fill="#F4F6F7" stroke="#F4F6F7" stroke-width="0.5" stroke-linejoin="round"/>
<polygon points="317.7,1015.2 329.3,1022.5 329.3,1026.8 317.7,1019.3" fill="#E3E7E9" stroke="#E3E7E9" stroke-width="0.5" stroke-linejoin="round"/>
<polygon points="319.9,1019.3 399.5,980.5 422.7,1043 339.5,1086.1" fill="#E6EAEC" stroke="#E6EAEC" stroke-width="0.5" stroke-linejoin="round"/>
<polygon points="319.9,1019.3 338,1012.3 351,1078.9 339.5,1086.1" fill="#E4E8EA" stroke="#E4E8EA" stroke-width="0.5" stroke-linejoin="round"/>
<polygon points="338,1015.2 345.2,1012.3 359.7,1074.6 353.9,1078.2" fill="#C9D0D3" stroke="#C9D0D3" stroke-width="0.5" stroke-linejoin="round"/>
<polygon points="338,1015.2 343.1,1012.3 348.1,1015.2 343.1,1018.1" fill="#F4F6F7" stroke="#F4F6F7" stroke-width="0.5" stroke-linejoin="round"/>
<polygon points="348.9,1010.6 355.2,1007.1 384.2,1075 375.6,1079.3" fill="#36B6B2" stroke="#36B6B2" stroke-width="0.5" stroke-linejoin="round"/>
<polygon points="351.7,1008.9 352.8,1007.7 380.8,1076.4 379.5,1077.6" fill="#4CC4BF" fill-opacity="0.6"/>
<polygon points="355.2,1007.1 357.5,1005.8 377.5,1056.8 375.2,1059.5" fill="#F5F7F8" stroke="#F5F7F8" stroke-width="0.5" stroke-linejoin="round"/>
<polygon points="357.5,1005.8 359.4,1004.8 379.4,1055.2 377.5,1056.8" fill="#CDD4D7" stroke="#CDD4D7" stroke-width="0.5" stroke-linejoin="round"/>
<polygon points="354.4,1007.7 357.3,1004 360.1,1005.4 357.3,1008.9" fill="#FFFFFF" stroke="#FFFFFF" stroke-width="0.5" stroke-linejoin="round"/>
<polygon points="359.4,1004.7 365.8,1001.2 394.7,1069.1 386.2,1073.4" fill="#36B6B2" stroke="#36B6B2" stroke-width="0.5" stroke-linejoin="round"/>
<polygon points="362.3,1002.9 363.4,1001.8 391.4,1070.5 390.1,1071.7" fill="#4CC4BF" fill-opacity="0.6"/>
<polygon points="365.8,1001.2 368.1,999.9 388.1,1050.8 385.8,1053.6" fill="#F5F7F8" stroke="#F5F7F8" stroke-width="0.5" stroke-linejoin="round"/>
<polygon points="368.1,999.9 370,998.9 390,1049.2 388.1,1050.8" fill="#CDD4D7" stroke="#CDD4D7" stroke-width="0.5" stroke-linejoin="round"/>
<polygon points="364.9,1001.8 367.8,998 370.7,999.5 367.8,1002.9" fill="#FFFFFF" stroke="#FFFFFF" stroke-width="0.5" stroke-linejoin="round"/>
<polygon points="370,998.7 376.4,995.3 405.3,1063.1 396.8,1067.5" fill="#36B6B2" stroke="#36B6B2" stroke-width="0.5" stroke-linejoin="round"/>
<polygon points="372.9,997 373.9,995.9 401.9,1064.6 400.7,1065.7" fill="#4CC4BF" fill-opacity="0.6"/>
<polygon points="376.4,995.3 378.7,994 398.6,1044.9 396.3,1047.7" fill="#F5F7F8" stroke="#F5F7F8" stroke-width="0.5" stroke-linejoin="round"/>
<polygon points="378.7,994 380.5,993 400.5,1043.3 398.6,1044.9" fill="#CDD4D7" stroke="#CDD4D7" stroke-width="0.5" stroke-linejoin="round"/>
<polygon points="375.5,995.9 378.4,992.1 381.3,993.5 378.4,997" fill="#FFFFFF" stroke="#FFFFFF" stroke-width="0.5" stroke-linejoin="round"/>
<polygon points="380.5,992.8 386.9,989.3 415.9,1057.2 407.3,1061.5" fill="#36B6B2" stroke="#36B6B2" stroke-width="0.5" stroke-linejoin="round"/>
<polygon points="383.4,991.1 384.5,989.9 412.5,1058.7 411.2,1059.8" fill="#4CC4BF" fill-opacity="0.6"/>
<polygon points="386.9,989.3 389.2,988 409.2,1039 406.9,1041.7" fill="#F5F7F8" stroke="#F5F7F8" stroke-width="0.5" stroke-linejoin="round"/>
<polygon points="389.2,988 391.1,987 411.1,1037.4 409.2,1039" fill="#CDD4D7" stroke="#CDD4D7" stroke-width="0.5" stroke-linejoin="round"/>
<polygon points="386,989.9 388.9,986.2 391.8,987.6 388.9,991.1" fill="#FFFFFF" stroke="#FFFFFF" stroke-width="0.5" stroke-linejoin="round"/>
<polygon points="391.1,986.9 397.5,983.4 426.4,1051.3 417.9,1055.6" fill="#36B6B2" stroke="#36B6B2" stroke-width="0.5" stroke-linejoin="round"/>
<polygon points="394,985.1 395.1,984 423.1,1052.7 421.8,1053.9" fill="#4CC4BF" fill-opacity="0.6"/>
<polygon points="396.2,987.2 405.6,984.3 422.8,1041.9 416.4,1045.3" fill="#DCE1E3" stroke="#DCE1E3" stroke-width="0.5" stroke-linejoin="round"/>
<polygon points="396.2,987.2 401,983.4 406.3,985.1 401.2,988.9" fill="#F4F6F7" stroke="#F4F6F7" stroke-width="0.5" stroke-linejoin="round"/>
<polygon points="345.2,1013.1 348.9,1010.9 376.4,1079.6 371.3,1082.5" fill="#F5F7F8" stroke="#F5F7F8" stroke-width="0.5" stroke-linejoin="round"/>
<polygon points="354.6,1097.4 369.8,1084.7 423.4,1044.5 429.3,1043 443.1,1050.8" fill="#36B6B2" stroke="#36B6B2" stroke-width="0.5" stroke-linejoin="round"/>
<polygon points="369.8,1084.7 380,1078.9 427,1051.4 427,1042" fill="#2AA5A3" fill-opacity="0.35"/>
<polygon points="284.5,1011.6 293.2,1005.8 318.5,1018.9 309.8,1025.1" fill="#9BD24C" stroke="#9BD24C" stroke-width="0.5" stroke-linejoin="round"/>
<polygon points="309.8,1025.1 318.5,1018.9 339.2,1084.7 333.7,1097" fill="#8CC63F" stroke="#8CC63F" stroke-width="0.5" stroke-linejoin="round"/>
<ellipse cx="293.9" cy="1010.2" rx="2.9" ry="3.2" fill="#86C23A"/>
<ellipse cx="301.1" cy="1015.2" rx="1.6" ry="1.8" fill="#86C23A"/>
<ellipse cx="306.2" cy="1018.1" rx="1.4" ry="1.6" fill="#86C23A"/>
<ellipse cx="386.9" cy="957.4" rx="3.2" ry="7" fill="#86C23A"/>
<ellipse cx="392.7" cy="964.6" rx="2.6" ry="4.3" fill="#86C23A"/>
<ellipse cx="381.4" cy="957.4" rx="1.7" ry="1.7" fill="#86C23A"/>
<polygon points="336.6,1089 342.3,1084.7 342.3,1099.2 336.6,1095.5" fill="#C4CBCE" stroke="#C4CBCE" stroke-width="0.5" stroke-linejoin="round"/>
<polygon points="342.3,1084.7 362.6,1073.8 362.6,1089 342.3,1099.2" fill="#F1F3F4" stroke="#F1F3F4" stroke-width="0.5" stroke-linejoin="round"/>
<polygon points="344.5,1085.4 360,1077.5 360,1089.8 344.5,1097.7" fill="#4A79B8" stroke="#4A79B8" stroke-width="0.5" stroke-linejoin="round"/>
<polygon points="351,1082.5 360,1077.5 360,1089.8 351,1094.1" fill="#3F6BA8" fill-opacity="0.6"/>
<!-- house -->
<polygon points="1484,295.8 1613.7,367.2 1613.7,377.6 1484,305.3" fill="#ABABAD" stroke="#ABABAD" stroke-width="0.5" stroke-linejoin="round"/>
<polygon points="1613.7,367.2 1751.4,288.8 1751.4,299.2 1613.7,377.6" fill="#CDCDCF" stroke="#CDCDCF" stroke-width="0.5" stroke-linejoin="round"/>
<polygon points="1484,295.8 1613.7,367.2 1751.4,288.8 1620.7,218.4" fill="#E1E1E3" stroke="#E1E1E3" stroke-width="0.5" stroke-linejoin="round"/>
<polygon points="1674,296.8 1698.1,321 1738.3,298.8 1716.2,279.7" fill="#4A4A4D" stroke="#4A4A4D" stroke-width="0.5" stroke-linejoin="round"/>
<polygon points="1673,244.6 1726,226.1 1725.6,284.8 1673,300.9" fill="#F3D79E" stroke="#F3D79E" stroke-width="0.5" stroke-linejoin="round"/>
<polygon points="1676,270.7 1711.2,252.6 1711.2,282.8 1676,298.8" fill="#C9A56A" stroke="#C9A56A" stroke-width="0.5" stroke-linejoin="round"/>
<polygon points="1676,276.7 1681,273.7 1699.1,282.8 1705.1,296.8 1699.1,306.9 1689,303.3 1676,290.8" fill="#DE9F00" stroke="#DE9F00" stroke-width="0.5" stroke-linejoin="round"/>
<polygon points="1699.1,282.8 1717.2,273.7 1726.2,288.8 1725.2,300.9 1711.2,308.9 1699.1,306.9 1705.1,296.8" fill="#F6B900" stroke="#F6B900" stroke-width="0.5" stroke-linejoin="round"/>
<polygon points="1681,273.7 1697.1,266.3 1717.2,273.7 1699.1,282.8" fill="#FFD234" stroke="#FFD234" stroke-width="0.5" stroke-linejoin="round"/>
<polygon points="1695.9,284 1710.4,275.9 1717.2,284.4 1703.5,293.2" fill="#5E8A8E" stroke="#5E8A8E" stroke-width="0.5" stroke-linejoin="round"/>
<polygon points="1697.9,284.4 1709.7,277.9 1714.8,284.4 1703.9,290.8" fill="#8FB4B8" stroke="#8FB4B8" stroke-width="0.5" stroke-linejoin="round"/>
<polygon points="1678,278.3 1682,276.3 1697.1,284 1700.7,293.2 1678,282.8" fill="#3A3A3A" stroke="#3A3A3A" stroke-width="0.5" stroke-linejoin="round"/>
<ellipse cx="1690.3" cy="299.8" rx="4.4" ry="5.8" fill="#2A2A2A"/>
<ellipse cx="1690.3" cy="299.8" rx="2.9" ry="4" fill="#F0F0F0"/>
<ellipse cx="1690.3" cy="299.8" rx="1" ry="1.4" fill="#8A8A8A"/>
<polygon points="1706.7,300.5 1711.2,301.9 1711.2,304.5 1706.7,303.3" fill="#E83A2A" stroke="#E83A2A" stroke-width="0.5" stroke-linejoin="round"/>
<polygon points="1720.2,293.8 1724.8,291.2 1724.8,294 1720.2,296.8" fill="#E83A2A" stroke="#E83A2A" stroke-width="0.5" stroke-linejoin="round"/>
<polygon points="1713.2,252.6 1725.6,259.6 1725.6,284.8 1713.2,277.7" fill="#F6DCA6" stroke="#F6DCA6" stroke-width="0.5" stroke-linejoin="round"/>
<polygon points="1672.6,265.1 1714.8,243.8 1717.2,247.8 1675,269.5" fill="#5C5D5F" stroke="#5C5D5F" stroke-width="0.5" stroke-linejoin="round"/>
<ellipse cx="1716" cy="245.8" rx="1.6" ry="2.2" fill="#6E6F71"/>
<polygon points="1674.6,270.7 1714.8,248.6 1730.9,261.1 1691.5,281.2" fill="#BDBEC0" stroke="#BDBEC0" stroke-width="0.5" stroke-linejoin="round"/>
<line x1="1677.9" y1="272.8" x2="1718" y2="251.1" stroke="#9C9D9F" stroke-width="0.7" stroke-linecap="butt" />
<line x1="1681.3" y1="274.9" x2="1721.2" y2="253.6" stroke="#9C9D9F" stroke-width="0.7" stroke-linecap="butt" />
<line x1="1684.7" y1="277" x2="1724.4" y2="256.1" stroke="#9C9D9F" stroke-width="0.7" stroke-linecap="butt" />
<line x1="1688.1" y1="279.1" x2="1727.6" y2="258.6" stroke="#9C9D9F" stroke-width="0.7" stroke-linecap="butt" />
<polygon points="1627.7,189.7 1668.9,190.3 1728.8,222.9 1673,244.2 1673,218.4 1635.8,210.4" fill="#B93A2C" stroke="#B93A2C" stroke-width="0.5" stroke-linejoin="round"/>
<polygon points="1673,244.2 1728.8,222.9 1728.8,226.5 1673.4,247.8" fill="#9E2A20" stroke="#9E2A20" stroke-width="0.5" stroke-linejoin="round"/>
<polygon points="1570.5,239.5 1603,250.6 1632.8,231.5 1632.8,284.8 1598.6,300.9 1570.5,285.8" fill="#A021C9" stroke="#A021C9" stroke-width="0.5" stroke-linejoin="round"/>
<polygon points="1542.9,230.9 1600.8,252.2 1600.8,289.3 1542.9,267.2" fill="#8B1EB2" stroke="#8B1EB2" stroke-width="0.5" stroke-linejoin="round"/>
<polygon points="1542.9,269 1600.8,288.4 1632.2,281.3 1599.5,298.6 1542.9,269.8" fill="#E9B58A" stroke="#E9B58A" stroke-width="0.5" stroke-linejoin="round"/>
<polygon points="1570.5,285.2 1603,268.7 1633.2,283.2 1598.6,301.3" fill="#E9B58A" stroke="#E9B58A" stroke-width="0.5" stroke-linejoin="round"/>
<polygon points="1573.4,255.2 1580.6,259.2 1580.6,286.6 1573.4,282.9" fill="#E6C24A" stroke="#E6C24A" stroke-width="0.5" stroke-linejoin="round"/>
<polygon points="1580.6,259.2 1591.5,253.2 1591.5,280.6 1580.6,286.6" fill="#F2E7B0" stroke="#F2E7B0" stroke-width="0.5" stroke-linejoin="round"/>
<polygon points="1573.4,255.2 1584.4,249 1591.5,253.2 1580.6,259.2" fill="#F3D862" stroke="#F3D862" stroke-width="0.5" stroke-linejoin="round"/>
<polygon points="1581.8,260.5 1590.4,255.7 1590.4,262.4 1581.8,267.2" fill="#8E3E9E" stroke="#8E3E9E" stroke-width="0.5" stroke-linejoin="round"/>
<polygon points="1584,259.6 1586.2,258.4 1586.2,264.9 1584,266.2" fill="#F0F0F0" stroke="#F0F0F0" stroke-width="0.5" stroke-linejoin="round"/>
<polygon points="1587.5,257.7 1589.1,256.8 1589.1,263.3 1587.5,264.2" fill="#3E5EA8" stroke="#3E5EA8" stroke-width="0.5" stroke-linejoin="round"/>
<polygon points="1581.8,269.2 1590.4,264.4 1590.4,271.1 1581.8,275.9" fill="#8E3E9E" stroke="#8E3E9E" stroke-width="0.5" stroke-linejoin="round"/>
<polygon points="1584,268.3 1586.2,267 1586.2,273.6 1584,274.8" fill="#F0F0F0" stroke="#F0F0F0" stroke-width="0.5" stroke-linejoin="round"/>
<polygon points="1587.5,266.3 1589.1,265.5 1589.1,272 1587.5,272.9" fill="#3E5EA8" stroke="#3E5EA8" stroke-width="0.5" stroke-linejoin="round"/>
<polygon points="1581.8,277.8 1590.4,273.1 1590.4,279.8 1581.8,284.6" fill="#8E3E9E" stroke="#8E3E9E" stroke-width="0.5" stroke-linejoin="round"/>
<polygon points="1584,276.9 1586.2,275.7 1586.2,282.3 1584,283.5" fill="#F0F0F0" stroke="#F0F0F0" stroke-width="0.5" stroke-linejoin="round"/>
<polygon points="1587.5,275 1589.1,274.1 1589.1,280.7 1587.5,281.5" fill="#3E5EA8" stroke="#3E5EA8" stroke-width="0.5" stroke-linejoin="round"/>
<polygon points="1590.4,253.2 1591.5,253.2 1591.5,280.6 1590.4,281.3" fill="#E6C24A" stroke="#E6C24A" stroke-width="0.5" stroke-linejoin="round"/>
<line x1="1599.9" y1="265.4" x2="1599.9" y2="275.2" stroke="#9AA0A8" stroke-width="0.9" stroke-linecap="butt" />
<line x1="1620" y1="276.7" x2="1620" y2="286.5" stroke="#9AA0A8" stroke-width="0.9" stroke-linecap="butt" />
<line x1="1629.5" y1="271.8" x2="1629.5" y2="281.5" stroke="#9AA0A8" stroke-width="0.9" stroke-linecap="butt" />
<line x1="1606.5" y1="270.7" x2="1606.5" y2="280.5" stroke="#9AA0A8" stroke-width="0.9" stroke-linecap="butt" />
<line x1="1613.6" y1="274.7" x2="1613.6" y2="284.4" stroke="#9AA0A8" stroke-width="0.9" stroke-linecap="butt" />
<polygon points="1600.8,267.2 1618.9,277.1 1618.9,284.9 1600.8,275.2" fill="#8C8C94" fill-opacity="0.45"/>
<polygon points="1598.1,263 1609.4,257.5 1630.6,270.7 1619.8,276.2" fill="#C77838" stroke="#C77838" stroke-width="0.5" stroke-linejoin="round"/>
<polygon points="1598.1,263 1619.8,276.2 1619.8,277.8 1598.1,264.5" fill="#A85E28" stroke="#A85E28" stroke-width="0.5" stroke-linejoin="round"/>
<polygon points="1608.1,253.1 1619.5,258.5 1619.5,266.1 1608.1,260.7" fill="#E8F0F4" stroke="#E8F0F4" stroke-width="0.5" stroke-linejoin="round"/>
<polygon points="1609.2,254.8 1618.6,259.4 1618.6,264.7 1609.2,260.1" fill="#6FB7E8" stroke="#6FB7E8" stroke-width="0.5" stroke-linejoin="round"/>
<polygon points="1606.5,264.1 1609.2,263 1616.3,266.5 1613.6,267.9" fill="#F2F2F2" stroke="#F2F2F2" stroke-width="0.5" stroke-linejoin="round"/>
<polygon points="1612.9,241.6 1618.9,238.2 1628.8,243.5 1628.5,249.5 1622.4,252.2 1612.9,247.3" fill="#F4F4F4" stroke="#F4F4F4" stroke-width="0.5" stroke-linejoin="round"/>
<polygon points="1612.9,241.6 1622.4,246.7 1622.4,252.2 1612.9,247.3" fill="#DADADA" stroke="#DADADA" stroke-width="0.5" stroke-linejoin="round"/>
<polygon points="1614,242.9 1617.1,244.5 1617.1,246.4 1614,244.8" fill="#555555" stroke="#555555" stroke-width="0.5" stroke-linejoin="round"/>
<polygon points="1510.2,207.4 1570.5,239.5 1570.5,285.8 1510.2,253.6" fill="#EBD374" stroke="#EBD374" stroke-width="0.5" stroke-linejoin="round"/>
<polygon points="1568.4,238.5 1571.7,240.2 1571.7,286.4 1568.4,284.8" fill="#D9BC54" stroke="#D9BC54" stroke-width="0.5" stroke-linejoin="round"/>
<polygon points="1519.8,219.8 1533.9,227.3 1533.9,255.6 1519.8,248.6" fill="#8A4B1C" stroke="#8A4B1C" stroke-width="0.5" stroke-linejoin="round"/>
<polygon points="1521.8,223.1 1531.9,228.3 1531.9,252.2 1521.8,247" fill="#8FCDE8" stroke="#8FCDE8" stroke-width="0.5" stroke-linejoin="round"/>
<line x1="1526.8" y1="225.7" x2="1526.8" y2="249.6" stroke="#8A4B1C" stroke-width="1" stroke-linecap="butt" />
<line x1="1521.8" y1="234.9" x2="1531.9" y2="240.2" stroke="#8A4B1C" stroke-width="1" stroke-linecap="butt" />
<polygon points="1546.9,231.9 1566.5,240.8 1566.5,252.3 1546.9,243.4" fill="#DCE9F0" stroke="#BFCCD4" stroke-width="0.6" stroke-linejoin="round"/>
<polygon points="1548.5,236.2 1565,243.7 1565,249 1548.5,241.5" fill="#C3D6E2" stroke="#C3D6E2" stroke-width="0.5" stroke-linejoin="round"/>
<polygon points="1548.5,238.4 1565,245.9 1565,246.8 1548.5,239.3" fill="#E3EEF4" stroke="#E3EEF4" stroke-width="0.5" stroke-linejoin="round"/>
<polygon points="1510.2,253.6 1598.6,300.9 1598.6,353.1 1510.2,306.9" fill="#8E1B2E" stroke="#8E1B2E" stroke-width="0.5" stroke-linejoin="round"/>
<polygon points="1511.8,256.2 1597,301.9 1597,350.7 1511.8,305.3" fill="#E9C6D0" stroke="#E9C6D0" stroke-width="0.5" stroke-linejoin="round"/>
<polygon points="1534,280 1546.9,274 1597.7,301.4 1597.7,327.3 1534,291.9" fill="#E8A338" stroke="#E8A338" stroke-width="0.5" stroke-linejoin="round"/>
<polygon points="1534,280 1546.9,274 1588.4,296.5 1583.1,299.8 1556.6,285.7 1534.9,291" fill="#B5261E" stroke="#B5261E" stroke-width="0.5" stroke-linejoin="round"/>
<polygon points="1534,280 1534.9,279.5 1534.9,291 1534,291.9" fill="#8E1B18" stroke="#8E1B18" stroke-width="0.5" stroke-linejoin="round"/>
<line x1="1544.2" y1="285.7" x2="1544.2" y2="299" stroke="#C98420" stroke-width="0.8" stroke-linecap="butt" />
<line x1="1549.5" y1="288.5" x2="1549.5" y2="301.7" stroke="#C98420" stroke-width="0.8" stroke-linecap="butt" />
<line x1="1554.8" y1="291.2" x2="1554.8" y2="304.5" stroke="#C98420" stroke-width="0.8" stroke-linecap="butt" />
<line x1="1572.5" y1="300.4" x2="1572.5" y2="313.7" stroke="#C98420" stroke-width="0.8" stroke-linecap="butt" />
<line x1="1577.8" y1="303.2" x2="1577.8" y2="316.4" stroke="#C98420" stroke-width="0.8" stroke-linecap="butt" />
<line x1="1583.1" y1="305.9" x2="1583.1" y2="319.2" stroke="#C98420" stroke-width="0.8" stroke-linecap="butt" />
<polygon points="1536.7,291.9 1541.6,289.7 1541.6,299.8 1536.7,301.8" fill="#A9B7D8" stroke="#A9B7D8" stroke-width="0.5" stroke-linejoin="round"/>
<polygon points="1560.1,284.8 1567.2,281.7 1575.2,285.7 1568.1,289.1" fill="#7A7A80" stroke="#7A7A80" stroke-width="0.5" stroke-linejoin="round"/>
<polygon points="1558.4,287.5 1569.8,293.7 1569.8,301.6 1558.4,295.9" fill="#F0F0F0" stroke="#F0F0F0" stroke-width="0.5" stroke-linejoin="round"/>
<polygon points="1560.1,293.2 1568.8,297.6 1568.8,300.7 1560.1,296.5" fill="#1E1E22" stroke="#1E1E22" stroke-width="0.5" stroke-linejoin="round"/>
<polygon points="1511.1,304.3 1534,291.9 1597.7,327.3 1597.7,340 1597.7,351.1" fill="#F28A10" stroke="#F28A10" stroke-width="0.5" stroke-linejoin="round"/>
<polygon points="1523.9,307.8 1549.5,295.4 1573.4,307.8 1549.5,322" fill="#E4E4E6" stroke="#E4E4E6" stroke-width="0.5" stroke-linejoin="round"/>
<polygon points="1526.5,307.8 1529.9,306 1533.2,307.8 1529.9,309.7" fill="#77777C" stroke="#77777C" stroke-width="0.5" stroke-linejoin="round"/>
<polygon points="1533.2,311.5 1536.6,309.7 1540,311.5 1536.6,313.4" fill="#77777C" stroke="#77777C" stroke-width="0.5" stroke-linejoin="round"/>
<polygon points="1540,315.2 1543.3,313.4 1546.7,315.2 1543.3,317.1" fill="#77777C" stroke="#77777C" stroke-width="0.5" stroke-linejoin="round"/>
<polygon points="1533.4,307.7 1536.8,305.9 1540.1,307.7 1536.8,309.6" fill="#77777C" stroke="#77777C" stroke-width="0.5" stroke-linejoin="round"/>
<polygon points="1540.1,311.4 1543.5,309.6 1546.9,311.4 1543.5,313.3" fill="#77777C" stroke="#77777C" stroke-width="0.5" stroke-linejoin="round"/>
<polygon points="1546.9,315.1 1550.2,313.3 1553.6,315.1 1550.2,317" fill="#77777C" stroke="#77777C" stroke-width="0.5" stroke-linejoin="round"/>
<polygon points="1533.6,303.9 1537,302.1 1540.3,303.9 1537,305.8" fill="#77777C" stroke="#77777C" stroke-width="0.5" stroke-linejoin="round"/>
<polygon points="1540.3,307.6 1543.7,305.8 1547,307.6 1543.7,309.5" fill="#77777C" stroke="#77777C" stroke-width="0.5" stroke-linejoin="round"/>
<polygon points="1547,311.3 1550.4,309.5 1553.8,311.3 1550.4,313.2" fill="#77777C" stroke="#77777C" stroke-width="0.5" stroke-linejoin="round"/>
<polygon points="1540.5,303.8 1543.9,302 1547.2,303.8 1543.9,305.7" fill="#77777C" stroke="#77777C" stroke-width="0.5" stroke-linejoin="round"/>
<polygon points="1547.2,307.5 1550.6,305.7 1553.9,307.5 1550.6,309.4" fill="#77777C" stroke="#77777C" stroke-width="0.5" stroke-linejoin="round"/>
<polygon points="1553.9,311.3 1557.3,309.4 1560.7,311.3 1557.3,313.1" fill="#77777C" stroke="#77777C" stroke-width="0.5" stroke-linejoin="round"/>
<polygon points="1540.7,300 1544,298.2 1547.4,300 1544,301.9" fill="#77777C" stroke="#77777C" stroke-width="0.5" stroke-linejoin="round"/>
<polygon points="1547.4,303.7 1550.8,301.9 1554.1,303.7 1550.8,305.6" fill="#77777C" stroke="#77777C" stroke-width="0.5" stroke-linejoin="round"/>
<polygon points="1554.1,307.5 1557.5,305.6 1560.8,307.5 1557.5,309.3" fill="#77777C" stroke="#77777C" stroke-width="0.5" stroke-linejoin="round"/>
<polygon points="1547.6,299.9 1550.9,298.1 1554.3,299.9 1550.9,301.8" fill="#77777C" stroke="#77777C" stroke-width="0.5" stroke-linejoin="round"/>
<polygon points="1554.3,303.7 1557.6,301.8 1561,303.7 1557.6,305.5" fill="#77777C" stroke="#77777C" stroke-width="0.5" stroke-linejoin="round"/>
<polygon points="1561,307.4 1564.4,305.5 1567.7,307.4 1564.4,309.2" fill="#77777C" stroke="#77777C" stroke-width="0.5" stroke-linejoin="round"/>
<polygon points="1547.7,296.1 1551.1,294.3 1554.5,296.1 1551.1,298" fill="#77777C" stroke="#77777C" stroke-width="0.5" stroke-linejoin="round"/>
<polygon points="1554.5,299.8 1557.8,298 1561.2,299.8 1557.8,301.7" fill="#77777C" stroke="#77777C" stroke-width="0.5" stroke-linejoin="round"/>
<polygon points="1561.2,303.6 1564.5,301.7 1567.9,303.6 1564.5,305.4" fill="#77777C" stroke="#77777C" stroke-width="0.5" stroke-linejoin="round"/>
<polygon points="1511.1,304.3 1534,291.9 1549.5,300.7 1523.9,312.7" fill="#E9C6D0" fill-opacity="0"/>
<polygon points="1512.4,277.7 1521.2,283.1 1521.2,308 1512.4,302.7" fill="#D9E6EC" stroke="#D9E6EC" stroke-width="0.5" stroke-linejoin="round"/>
<polygon points="1521.2,283.1 1532.9,276.2 1532.9,301.2 1521.2,308" fill="#F3F5F6" stroke="#F3F5F6" stroke-width="0.5" stroke-linejoin="round"/>
<polygon points="1512.4,277.7 1524,271.4 1532.9,276.2 1521.2,283.1" fill="#FFFFFF" stroke="#FFFFFF" stroke-width="0.5" stroke-linejoin="round"/>
<line x1="1528.3" y1="282.2" x2="1528.3" y2="291.9" stroke="#5A6A8A" stroke-width="1" stroke-linecap="butt" />
<line x1="1522.1" y1="287.5" x2="1530.9" y2="283.1" stroke="#8A94A8" stroke-width="0.8" stroke-linecap="butt" />
<polygon points="1541.1,299.8 1548.2,296.5 1549.5,303.4 1542.4,306.7" fill="#E0472D" stroke="#E0472D" stroke-width="0.5" stroke-linejoin="round"/>
<polygon points="1562.3,297.6 1567.2,300.3 1567.2,309.6 1562.3,306.9" fill="#E0472D" stroke="#E0472D" stroke-width="0.5" stroke-linejoin="round"/>
<line x1="1547.1" y1="312" x2="1547.1" y2="319" stroke="#3A4A5A" stroke-width="0.9" stroke-linecap="butt" />
<line x1="1553.1" y1="315" x2="1553.1" y2="322" stroke="#3A4A5A" stroke-width="0.9" stroke-linecap="butt" />
<line x1="1560.1" y1="312" x2="1560.1" y2="319" stroke="#3A4A5A" stroke-width="0.9" stroke-linecap="butt" />
<line x1="1557.1" y1="309" x2="1557.1" y2="316" stroke="#3A4A5A" stroke-width="0.9" stroke-linecap="butt" />
<ellipse cx="1553.1" cy="311.2" rx="10" ry="5.6" fill="#3E9AD4" transform="rotate(-12 1553.1 310)"/>
<ellipse cx="1553.1" cy="310" rx="10" ry="5.4" fill="#4DB1E8" transform="rotate(-12 1553.1 310)"/>
<polygon points="1567.2,313.8 1573.4,310.9 1593.3,321.5 1593.3,327.3 1587.1,330.4" fill="#6A6A70" stroke="#6A6A70" stroke-width="0.5" stroke-linejoin="round"/>
<polygon points="1566.3,318.4 1567.2,313.8 1587.1,324.6 1587.1,335.7 1566.3,325" fill="#55555B" stroke="#55555B" stroke-width="0.5" stroke-linejoin="round"/>
<polygon points="1587.1,324.6 1593.3,321.5 1593.3,332.6 1587.1,335.7" fill="#47474D" stroke="#47474D" stroke-width="0.5" stroke-linejoin="round"/>
<polygon points="1582.7,309.1 1593.7,304.3 1598,306.7 1598,314.9 1584.9,314.9" fill="#3A3A42" stroke="#3A3A42" stroke-width="0.5" stroke-linejoin="round"/>
<polygon points="1584.4,309.6 1593.3,305.7 1597.3,307.8 1588.4,311.8" fill="#C8B8E8" stroke="#C8B8E8" stroke-width="0.5" stroke-linejoin="round"/>
<polygon points="1588.4,311.8 1597.3,307.8 1597.3,314.9 1592,317.5" fill="#D889D8" stroke="#D889D8" stroke-width="0.5" stroke-linejoin="round"/>
<polygon points="1597,301.9 1598.6,300.9 1598.6,353.1 1597,350.7" fill="#8E1B2E" stroke="#8E1B2E" stroke-width="0.5" stroke-linejoin="round"/>
<polygon points="1598.6,300.9 1632.8,283.8 1632.8,230.5 1635.8,211.4 1674.6,219.4 1674.6,311.9 1598.6,353.1" fill="#FBE4AA" stroke="#FBE4AA" stroke-width="0.5" stroke-linejoin="round"/>
<polygon points="1598.6,300.9 1600.6,299.8 1600.6,352.1 1598.6,353.1" fill="#E9CC8C" stroke="#E9CC8C" stroke-width="0.5" stroke-linejoin="round"/>
<polygon points="1646.4,238.5 1660.5,232.1 1660.5,262.7 1646.4,268.7" fill="#A9661F" stroke="#A9661F" stroke-width="0.5" stroke-linejoin="round"/>
<polygon points="1648.8,240.6 1658.1,236.5 1658.1,259.6 1648.8,264.1" fill="#8FCDE8" stroke="#8FCDE8" stroke-width="0.5" stroke-linejoin="round"/>
<line x1="1653.5" y1="238.5" x2="1653.5" y2="261.9" stroke="#A9661F" stroke-width="1" stroke-linecap="butt" />
<line x1="1648.8" y1="252" x2="1658.1" y2="247.8" stroke="#A9661F" stroke-width="1" stroke-linecap="butt" />
<polygon points="1646.4,283.8 1660.5,277.3 1660.5,307.9 1646.4,313.9" fill="#A9661F" stroke="#A9661F" stroke-width="0.5" stroke-linejoin="round"/>
<polygon points="1648.8,285.8 1658.1,281.8 1658.1,304.9 1648.8,309.3" fill="#8FCDE8" stroke="#8FCDE8" stroke-width="0.5" stroke-linejoin="round"/>
<line x1="1653.5" y1="283.8" x2="1653.5" y2="307.1" stroke="#A9661F" stroke-width="1" stroke-linecap="butt" />
<line x1="1648.8" y1="297.2" x2="1658.1" y2="293" stroke="#A9661F" stroke-width="1" stroke-linecap="butt" />
<polygon points="1616.3,294.4 1636.4,284.8 1636.4,291.8 1616.3,301.3" fill="#A9661F" stroke="#A9661F" stroke-width="0.5" stroke-linejoin="round"/>
<polygon points="1618.7,295.6 1634.4,288.2 1634.4,290.2 1618.7,297.8" fill="#7FB6C8" stroke="#7FB6C8" stroke-width="0.5" stroke-linejoin="round"/>
<polygon points="1616.3,303.3 1636.4,293.8 1636.4,336 1616.3,345.5" fill="#A9661F" stroke="#A9661F" stroke-width="0.5" stroke-linejoin="round"/>
<polygon points="1618.7,305.3 1634.4,297.8 1634.4,334.6 1618.7,342.1" fill="#8E5216" stroke="#8E5216" stroke-width="0.5" stroke-linejoin="round"/>
<polygon points="1623.3,305.3 1631.2,301.5 1631.2,322 1623.3,326" fill="#8FCDE8" stroke="#8FCDE8" stroke-width="0.5" stroke-linejoin="round"/>
<polygon points="1632.8,147.1 1645.8,154.5 1645.8,210.4 1632.8,197.3" fill="#C08B63" stroke="#C08B63" stroke-width="0.5" stroke-linejoin="round"/>
<polygon points="1645.8,154.5 1668.3,142.1 1668.3,212.4 1645.8,210.4" fill="#DBA77E" stroke="#DBA77E" stroke-width="0.5" stroke-linejoin="round"/>
<polygon points="1632.8,147.1 1655.3,135 1668.3,142.1 1645.8,154.5" fill="#E6BB95" stroke="#E6BB95" stroke-width="0.5" stroke-linejoin="round"/>
<polygon points="1638.8,147.1 1654.9,138.4 1662.5,142.5 1646,151.1" fill="#3B465F" stroke="#3B465F" stroke-width="0.5" stroke-linejoin="round"/>
<polygon points="1544.3,156.7 1576.5,164.6 1675.4,218.4 1635.8,210.8" fill="#C9503C" stroke="#C9503C" stroke-width="0.5" stroke-linejoin="round"/>
<polygon points="1505.1,200.4 1544.3,156.7 1636.4,210.8 1603,251" fill="#B0291C" stroke="#B0291C" stroke-width="0.5" stroke-linejoin="round"/>
<polygon points="1505.1,200.4 1603,251 1603,254.2 1505.1,204" fill="#7E1B13" stroke="#7E1B13" stroke-width="0.5" stroke-linejoin="round"/>
<polygon points="1603,251 1636.4,210.8 1675.4,218.4 1674.6,221.5 1636.8,214.4 1603.8,254.2" fill="#8E2218" stroke="#8E2218" stroke-width="0.5" stroke-linejoin="round"/>
<ellipse cx="1635.2" cy="222.9" rx="4.6" ry="5.6" fill="#C9A36A"/>
<ellipse cx="1635.2" cy="222.9" rx="3.3" ry="4.2" fill="#5BB2E2"/>
<polygon points="1533.9,194.7 1550.4,172.8 1609,204.8 1592.6,227.5" fill="#E8E8EC" stroke="#E8E8EC" stroke-width="0.5" stroke-linejoin="round"/>
<polygon points="1535.4,194 1550.3,174.2 1568.4,184.1 1553.6,204.1" fill="#2C3150" stroke="#2C3150" stroke-width="0.5" stroke-linejoin="round"/>
<polygon points="1536.9,192 1544.3,182.2 1558.8,197.1 1555,202.1" fill="#454B72" fill-opacity="0.6"/>
<polygon points="1555,204.9 1569.8,184.9 1588,194.8 1573.1,215.1" fill="#2C3150" stroke="#2C3150" stroke-width="0.5" stroke-linejoin="round"/>
<polygon points="1556.4,202.9 1563.9,192.9 1578.3,208 1574.6,213" fill="#454B72" fill-opacity="0.6"/>
<polygon points="1574.5,215.8 1589.4,195.6 1607.6,205.5 1592.7,226" fill="#2C3150" stroke="#2C3150" stroke-width="0.5" stroke-linejoin="round"/>
<polygon points="1576,213.8 1583.5,203.7 1597.9,218.8 1594.2,223.9" fill="#454B72" fill-opacity="0.6"/>
<!-- xfmr1 -->
<defs><linearGradient id="g501" x1="0" y1="0" x2="1" y2="0"><stop offset="0" stop-color="#D9D9D9"/><stop offset="0.4" stop-color="#EDEDED"/><stop offset="1" stop-color="#D2D2D2"/></linearGradient><linearGradient id="g502" x1="0" y1="0" x2="1" y2="0"><stop offset="0" stop-color="#2A2A2A"/><stop offset="0.35" stop-color="#4A4A4A"/><stop offset="1" stop-color="#1E1E1E"/></linearGradient></defs>
<polygon points="1242.4,504.6 1248.9,501.2 1256.1,504.6 1248.9,508.2" fill="#E6E6E6" stroke="#E6E6E6" stroke-width="0.5" stroke-linejoin="round"/>
<polygon points="1242.4,504.6 1248.9,508.2 1248.9,510.4 1242.4,506.7" fill="#C4C4C4" stroke="#C4C4C4" stroke-width="0.5" stroke-linejoin="round"/>
<polygon points="1248.9,508.2 1256.1,504.6 1256.1,506.7 1248.9,510.4" fill="#D2D2D2" stroke="#D2D2D2" stroke-width="0.5" stroke-linejoin="round"/>
<polygon points="1275.6,407.2 1287.5,403.8 1287.5,429.4 1275.6,433" fill="#B4B4B4" stroke="#B4B4B4" stroke-width="0.5" stroke-linejoin="round"/>
<polygon points="1259.7,412.7 1275.6,407.2 1275.6,433 1259.7,440.2" fill="#F4F4F4" stroke="#F4F4F4" stroke-width="0.5" stroke-linejoin="round"/>
<line x1="1266.7" y1="414.9" x2="1266.7" y2="429.4" stroke="#C9C9C9" stroke-width="0.8" stroke-linecap="butt" />
<line x1="1266.7" y1="429.4" x2="1273.2" y2="433" stroke="#C9C9C9" stroke-width="0.8" stroke-linecap="butt" />
<line x1="1269.1" y1="414.9" x2="1269.1" y2="429.4" stroke="#C9C9C9" stroke-width="0.8" stroke-linecap="butt" />
<line x1="1269.1" y1="429.4" x2="1275.6" y2="433" stroke="#C9C9C9" stroke-width="0.8" stroke-linecap="butt" />
<line x1="1271.6" y1="414.9" x2="1271.6" y2="429.4" stroke="#C9C9C9" stroke-width="0.8" stroke-linecap="butt" />
<line x1="1271.6" y1="429.4" x2="1278.1" y2="433" stroke="#C9C9C9" stroke-width="0.8" stroke-linecap="butt" />
<polygon points="1248.1,451.8 1311.8,479.3 1311.8,537.1 1248.1,503.8" fill="#D0D0D0" stroke="#D0D0D0" stroke-width="0.5" stroke-linejoin="round"/>
<polygon points="1311.8,479.3 1350.8,454.7 1350.8,512.5 1311.8,537.1" fill="#C3C3C3" stroke="#C3C3C3" stroke-width="0.5" stroke-linejoin="round"/>
<polygon points="1248.1,451.8 1293,428.6 1350.8,454.7 1311.8,479.3" fill="#E4E4E4" stroke="#E4E4E4" stroke-width="0.5" stroke-linejoin="round"/>
<ellipse cx="1298" cy="437.3" rx="7.5" ry="3.8" fill="#CFCFCF"/>
<ellipse cx="1311.8" cy="445.6" rx="7.5" ry="3.8" fill="#CFCFCF"/>
<ellipse cx="1325.8" cy="453.9" rx="7.5" ry="3.8" fill="#CFCFCF"/>
<polygon points="1248.1,451.8 1311.8,479.3 1311.8,482.4 1248.1,455" fill="#DCDCDC" stroke="#DCDCDC" stroke-width="0.5" stroke-linejoin="round"/>
<polygon points="1311.8,479.3 1350.8,454.7 1350.8,457.9 1311.8,482.4" fill="#D0D0D0" stroke="#D0D0D0" stroke-width="0.5" stroke-linejoin="round"/>
<polygon points="1253.9,457.6 1306,480 1306,522.7 1253.9,500.2" fill="#D4D4D4" stroke="#D4D4D4" stroke-width="0.5" stroke-linejoin="round"/>
<line x1="1257.7" y1="462.5" x2="1257.7" y2="500.8" stroke="#A6A6A6" stroke-width="1.1" stroke-linecap="butt" />
<line x1="1260.7" y1="463.8" x2="1260.7" y2="502.1" stroke="#A6A6A6" stroke-width="1.1" stroke-linecap="butt" />
<line x1="1263.8" y1="465.1" x2="1263.8" y2="503.4" stroke="#A6A6A6" stroke-width="1.1" stroke-linecap="butt" />
<line x1="1266.8" y1="466.4" x2="1266.8" y2="504.7" stroke="#A6A6A6" stroke-width="1.1" stroke-linecap="butt" />
<line x1="1269.8" y1="467.7" x2="1269.8" y2="506" stroke="#A6A6A6" stroke-width="1.1" stroke-linecap="butt" />
<line x1="1272.9" y1="469" x2="1272.9" y2="507.3" stroke="#A6A6A6" stroke-width="1.1" stroke-linecap="butt" />
<line x1="1275.9" y1="470.3" x2="1275.9" y2="508.6" stroke="#A6A6A6" stroke-width="1.1" stroke-linecap="butt" />
<line x1="1278.9" y1="471.6" x2="1278.9" y2="509.9" stroke="#A6A6A6" stroke-width="1.1" stroke-linecap="butt" />
<line x1="1282" y1="472.9" x2="1282" y2="511.2" stroke="#A6A6A6" stroke-width="1.1" stroke-linecap="butt" />
<line x1="1285" y1="474.2" x2="1285" y2="512.5" stroke="#A6A6A6" stroke-width="1.1" stroke-linecap="butt" />
<line x1="1288.1" y1="475.5" x2="1288.1" y2="513.8" stroke="#A6A6A6" stroke-width="1.1" stroke-linecap="butt" />
<line x1="1291.1" y1="476.8" x2="1291.1" y2="515.1" stroke="#A6A6A6" stroke-width="1.1" stroke-linecap="butt" />
<line x1="1294.1" y1="478.1" x2="1294.1" y2="516.4" stroke="#A6A6A6" stroke-width="1.1" stroke-linecap="butt" />
<line x1="1297.2" y1="479.4" x2="1297.2" y2="517.7" stroke="#A6A6A6" stroke-width="1.1" stroke-linecap="butt" />
<polygon points="1253.9,457.6 1306,480 1306,482.9 1253.9,460.5" fill="#E8E8E8" stroke="#E8E8E8" stroke-width="0.5" stroke-linejoin="round"/>
<polygon points="1298,480.7 1306,480 1306,522.7 1298,519" fill="#E3E3E3" stroke="#E3E3E3" stroke-width="0.5" stroke-linejoin="round"/>
<polygon points="1317.6,475.6 1349.1,464.8 1349.1,509.6 1317.6,521.2" fill="#CDCDCD" stroke="#CDCDCD" stroke-width="0.5" stroke-linejoin="round"/>
<polygon points="1317.6,475.6 1326.2,469.1 1349.1,464.8 1340.7,472" fill="#E6E6E6" stroke="#E6E6E6" stroke-width="0.5" stroke-linejoin="round"/>
<polygon points="1317.6,475.6 1326.2,472.8 1326.2,518.3 1317.6,521.2" fill="#D9D9D9" stroke="#D9D9D9" stroke-width="0.5" stroke-linejoin="round"/>
<line x1="1329.4" y1="474" x2="1329.4" y2="516" stroke="#9E9E9E" stroke-width="1.1" stroke-linecap="butt" />
<line x1="1331.8" y1="473.2" x2="1331.8" y2="515.1" stroke="#9E9E9E" stroke-width="1.1" stroke-linecap="butt" />
<line x1="1334.2" y1="472.3" x2="1334.2" y2="514.2" stroke="#9E9E9E" stroke-width="1.1" stroke-linecap="butt" />
<line x1="1336.6" y1="471.4" x2="1336.6" y2="513.3" stroke="#9E9E9E" stroke-width="1.1" stroke-linecap="butt" />
<line x1="1339" y1="470.5" x2="1339" y2="512.4" stroke="#9E9E9E" stroke-width="1.1" stroke-linecap="butt" />
<line x1="1341.4" y1="469.6" x2="1341.4" y2="511.6" stroke="#9E9E9E" stroke-width="1.1" stroke-linecap="butt" />
<line x1="1343.8" y1="468.7" x2="1343.8" y2="510.7" stroke="#9E9E9E" stroke-width="1.1" stroke-linecap="butt" />
<line x1="1346.3" y1="467.9" x2="1346.3" y2="509.8" stroke="#9E9E9E" stroke-width="1.1" stroke-linecap="butt" />
<polygon points="1298.8,537.1 1306,533.2 1312.5,536.4 1304.5,540.7" fill="#E6E6E6" stroke="#E6E6E6" stroke-width="0.5" stroke-linejoin="round"/>
<polygon points="1298.8,537.1 1304.5,540.7 1304.5,542.9 1298.8,539.3" fill="#C4C4C4" stroke="#C4C4C4" stroke-width="0.5" stroke-linejoin="round"/>
<polygon points="1304.5,540.7 1312.5,536.4 1312.5,538.6 1304.5,542.9" fill="#D2D2D2" stroke="#D2D2D2" stroke-width="0.5" stroke-linejoin="round"/>
<polygon points="1246.7,422.9 1259,428.6 1259,454.7 1246.7,449.6" fill="#D6D6D6" stroke="#D6D6D6" stroke-width="0.5" stroke-linejoin="round"/>
<polygon points="1259,428.6 1262.9,426.9 1262.9,453.2 1259,454.7" fill="#C2C2C2" stroke="#C2C2C2" stroke-width="0.5" stroke-linejoin="round"/>
<ellipse cx="1290.1" cy="389.9" rx="10.1" ry="13.3" fill="#DCDCDC"/>
<ellipse cx="1289.3" cy="390.3" rx="9.3" ry="12.6" fill="#E9E9E9"/>
<polygon points="1243.1,403.6 1286.4,380.1 1294.5,398.8 1251.1,422.4" fill="#E7E7E7" stroke="#E7E7E7" stroke-width="0.5" stroke-linejoin="round"/>
<polygon points="1247.5,414.5 1291.7,389.9 1294.5,398.8 1251.1,422.4" fill="#D6D6D6" stroke="#D6D6D6" stroke-width="0.5" stroke-linejoin="round"/>
<polygon points="1243.1,403.6 1286.4,380.1 1289.3,383.3 1245.9,407.5" fill="#EFEFEF" stroke="#EFEFEF" stroke-width="0.5" stroke-linejoin="round"/>
<ellipse cx="1246.7" cy="413.5" rx="10.1" ry="13.3" fill="#DBDBDB"/>
<ellipse cx="1245.8" cy="413.5" rx="8.7" ry="12.1" fill="#D3D3D3"/>
<ellipse cx="1245.3" cy="413.5" rx="7.1" ry="10.4" fill="#D8D8D8"/>
<polygon points="1244.7,408.4 1247.6,408.4 1247.6,421.4 1244.7,421.4" fill="#3C3C3C" stroke="#3C3C3C" stroke-width="0.5" stroke-linejoin="round"/>
<ellipse cx="1252.8" cy="445.3" rx="3" ry="3.4" fill="#E3B21D"/>
<ellipse cx="1252.8" cy="445.3" rx="1.3" ry="1.6" fill="#B8860B"/>
<line x1="1290.8" y1="425.7" x2="1256.1" y2="449.3" stroke="#4A4A4A" stroke-width="0.9" stroke-linecap="butt" />
<line x1="1294.7" y1="445.7" x2="1269.1" y2="459.7" stroke="#4A4A4A" stroke-width="0.9" stroke-linecap="butt" />
<line x1="1309.6" y1="453.5" x2="1283.6" y2="468" stroke="#4A4A4A" stroke-width="0.9" stroke-linecap="butt" />
<path d="M1278.8,447.6 L1278.8,442.3 L1280.7,438.3 L1282.6,442.3 L1282.6,447.6 Z" fill="#2C2C2C"/>
<ellipse cx="1280.7" cy="447.6" rx="1.9" ry="0.9" fill="#2C2C2C"/>
<path d="M1293,455.6 L1293,450.3 L1294.9,446.3 L1296.8,450.3 L1296.8,455.6 Z" fill="#2C2C2C"/>
<ellipse cx="1294.9" cy="455.6" rx="1.9" ry="0.9" fill="#2C2C2C"/>
<path d="M1307,463.5 L1307,458.2 L1308.9,454.2 L1310.8,458.2 L1310.8,463.5 Z" fill="#2C2C2C"/>
<ellipse cx="1308.9" cy="463.5" rx="1.9" ry="0.9" fill="#2C2C2C"/>
<path d="M1294.3,413.5 L1294.3,438 A3.7,1.6 0 0 0 1301.7,438 L1301.7,413.5 A3.7,2.2 0 0 0 1294.3,413.5 Z" fill="url(#g502)"/>
<line x1="1298" y1="412.5" x2="1297.7" y2="408.8" stroke="#3A3A3A" stroke-width="1.2" stroke-linecap="butt" />
<line x1="1297.7" y1="408.8" x2="1321.9" y2="394.6" stroke="#6A6A6A" stroke-width="0.9" stroke-linecap="butt" />
<path d="M1308.1,421.7 L1308.1,446 A3.7,1.6 0 0 0 1315.5,446 L1315.5,421.7 A3.7,2.2 0 0 0 1308.1,421.7 Z" fill="url(#g502)"/>
<line x1="1311.8" y1="420.7" x2="1311.5" y2="417.1" stroke="#3A3A3A" stroke-width="1.2" stroke-linecap="butt" />
<line x1="1311.5" y1="417.1" x2="1335.6" y2="402.6" stroke="#6A6A6A" stroke-width="0.9" stroke-linecap="butt" />
<path d="M1322.1,429.7 L1322.1,454.7 A3.7,1.6 0 0 0 1329.5,454.7 L1329.5,429.7 A3.7,2.2 0 0 0 1322.1,429.7 Z" fill="url(#g502)"/>
<line x1="1325.8" y1="428.7" x2="1325.5" y2="425" stroke="#3A3A3A" stroke-width="1.2" stroke-linecap="butt" />
<line x1="1325.5" y1="425" x2="1349.4" y2="410.6" stroke="#6A6A6A" stroke-width="0.9" stroke-linecap="butt" />
<!-- ev -->
<polygon points="1556.9,629.6 1628.3,669 1628.3,673.1 1556.9,633.6" fill="#9C9C9C" stroke="#9C9C9C" stroke-width="0.5" stroke-linejoin="round"/>
<polygon points="1628.3,669 1717.5,618.4 1717.5,622.6 1628.3,673.1" fill="#B2B2B2" stroke="#B2B2B2" stroke-width="0.5" stroke-linejoin="round"/>
<polygon points="1556.9,629.6 1628.3,669 1717.5,618.4 1646.1,577.5" fill="#7E7E7E" stroke="#7E7E7E" stroke-width="0.5" stroke-linejoin="round"/>
<polygon points="1561.1,627.3 1565.1,625.1 1634.2,663.7 1630.2,666" fill="#FFFFFF" stroke="#FFFFFF" stroke-width="0.5" stroke-linejoin="round"/>
<polygon points="1640.2,580.9 1644.3,578.6 1715.7,619.4 1711.5,621.8" fill="#FFFFFF" stroke="#FFFFFF" stroke-width="0.5" stroke-linejoin="round"/>
<polygon points="1664.7,641.4 1669.1,638.9 1674.1,641.7 1669.6,644.3" fill="#FFFFFF" stroke="#FFFFFF" stroke-width="0.5" stroke-linejoin="round"/>
<polygon points="1560.6,594.6 1577,602.8 1577,612.8 1560.6,604.6" fill="#C6C6C0" stroke="#C6C6C0" stroke-width="0.5" stroke-linejoin="round"/>
<polygon points="1577,602.8 1594.8,593.4 1594.8,603.2 1577,612.8" fill="#D6D6D0" stroke="#D6D6D0" stroke-width="0.5" stroke-linejoin="round"/>
<path d="M1562.8,599.1 L1562.8,537.4 C1563.6,520.3 1577,506.2 1590.3,503.9 L1604.5,510.6 C1591.1,512.8 1576.2,526.2 1575.5,544.1 L1575.5,605.8 Z" fill="#EBEBEB"/>
<path d="M1575.5,605.8 L1575.5,544.1 C1576.2,526.2 1591.1,512.8 1604.5,510.6 C1611.2,511.4 1612.2,520.3 1612.2,523.3 L1612.2,587.2 Z" fill="#F5F5F5"/>
<polygon points="1586,533.4 1604.8,523.2 1604.8,535.4 1586,545.3" fill="#2E4F1A" stroke="#2E4F1A" stroke-width="1.6" stroke-linejoin="round"/>
<polygon points="1588.4,534.5 1603,526.7 1603,534.5 1588.4,542.3" fill="#8CC63F" stroke="#8CC63F" stroke-width="0.5" stroke-linejoin="round"/>
<polygon points="1594.8,552.2 1607.4,546 1607.4,578.6 1581.9,592.7 1581.9,580 1594.8,572.6" fill="#8CC63F" stroke="#8CC63F" stroke-width="1.2" stroke-linejoin="round"/>
<polygon points="1582.2,561.2 1594.8,554.8 1594.8,572.6 1582.2,579.4" fill="#FFFFFF" stroke="#FFFFFF" stroke-width="1" stroke-linejoin="round"/>
<ellipse cx="1568.5" cy="543.3" rx="2" ry="2.5" fill="#3A3A3A"/>
<ellipse cx="1568.5" cy="554.5" rx="2" ry="2.5" fill="#3A3A3A"/>
<ellipse cx="1569.7" cy="574.5" rx="4.6" ry="5.6" fill="#7DB83A"/>
<ellipse cx="1569.7" cy="574.5" rx="3.3" ry="4.2" fill="#E8E8E8"/>
<text x="1569.7" y="576.7" font-size="6" fill="#7DB83A" style="font-family:'Liberation Sans',sans-serif;fill:#7DB83A" text-anchor="middle">S</text>
<polygon points="1594.1,609.5 1658,643.7 1678.8,631.8 1616.4,599.1" fill="#6E6E6E" stroke="#6E6E6E" stroke-width="0.5" stroke-linejoin="round"/>
<path d="M1600.8,586.1 Q1607.4,582 1614.9,582.3 Q1622.3,582.7 1640.2,592.4 Q1658,602 1667.3,611 Q1676.6,619.9 1677,624.3 Q1677.3,628.8 1668.4,635.9 Q1659.5,642.9 1653.5,642.6 Q1647.6,642.2 1643.9,640 Q1640.2,637.7 1622.3,628.1 Q1604.5,618.4 1599.6,613.9 Q1594.8,609.5 1594.4,599.8 Q1594.1,590.2 1600.8,586.1 Z" fill="#F1E253"/>
<path d="M1616,610.2 Q1637.2,621.4 1643.1,631.8 Q1649.1,642.2 1644.6,640 Q1640.2,637.7 1622.3,628.1 Q1604.5,618.4 1599.6,613.9 Q1594.8,609.5 1594.8,604.3 Q1594.8,599.1 1616,610.2 Z" fill="#DCCB3A"/>
<path d="M1608.2,586.6 Q1614.9,583 1621.6,584.7 Q1628.3,586.4 1637.9,592 Q1647.6,597.6 1640.9,601.7 Q1634.2,605.8 1625.3,601.7 Q1616.4,597.6 1608.9,593.9 Q1601.5,590.2 1608.2,586.6 Z" fill="#F7EC7A"/>
<polygon points="1632.7,606.5 1647.6,597.9 1659.5,609.5 1646.1,619.6 1640.2,618.4" fill="#474747" stroke="#474747" stroke-width="0.5" stroke-linejoin="round"/>
<polygon points="1601.2,590.5 1610.4,584.2 1619.3,583.9 1607.4,592.4" fill="#4E4E4E" stroke="#4E4E4E" stroke-width="0.5" stroke-linejoin="round"/>
<polygon points="1602.2,597.6 1610.4,594.9 1616.1,599.1 1616.1,611 1610.4,608" fill="#474747" stroke="#474747" stroke-width="0.5" stroke-linejoin="round"/>
<polygon points="1618.6,600.9 1622.3,599.8 1632,608 1634.2,618.4 1618.6,611.7" fill="#474747" stroke="#474747" stroke-width="0.5" stroke-linejoin="round"/>
<polygon points="1620.1,588.4 1626,585.7 1626.5,591.6 1630.5,590.2 1632,601.3 1626.5,594.9 1623.5,596.1" fill="#5DAE3A" stroke="#5DAE3A" stroke-width="0.5" stroke-linejoin="round"/>
<ellipse cx="1655" cy="632.5" rx="5" ry="2.8" fill="#FFFDE0"/>
<ellipse cx="1674.3" cy="622.1" rx="2" ry="3.8" fill="#FFFDE0"/>
<polygon points="1662.5,631 1671.4,625.8 1671.4,627.6 1662.5,633" fill="#7A7A5A" stroke="#7A7A5A" stroke-width="0.5" stroke-linejoin="round"/>
<ellipse cx="1601.2" cy="613.2" rx="4.6" ry="6" fill="#6A6A6A"/>
<ellipse cx="1601.2" cy="613.2" rx="3" ry="4.2" fill="#C9C9C9"/>
<ellipse cx="1601.2" cy="613.2" rx="1.2" ry="1.7" fill="#8A8A8A"/>
<ellipse cx="1643.1" cy="637" rx="4.6" ry="6" fill="#6A6A6A"/>
<ellipse cx="1643.1" cy="637" rx="3" ry="4.2" fill="#C9C9C9"/>
<ellipse cx="1643.1" cy="637" rx="1.2" ry="1.7" fill="#8A8A8A"/>
<!-- xfmr2 -->
<defs><linearGradient id="g601" x1="0" y1="0" x2="1" y2="0"><stop offset="0" stop-color="#2E2A27"/><stop offset="0.4" stop-color="#4A4541"/><stop offset="1" stop-color="#26221F"/></linearGradient><linearGradient id="g602" x1="0" y1="0" x2="1" y2="0"><stop offset="0" stop-color="#D9D6D0"/><stop offset="0.4" stop-color="#E6E3DE"/><stop offset="1" stop-color="#C4C0BA"/></linearGradient></defs>
<line x1="1212" y1="803.9" x2="1175.9" y2="782.2" stroke="#111" stroke-width="1.3" stroke-linecap="round" />
<path d="M1208.1,827.3 L1207.8,845.1 A4.2,1.7 0 0 0 1216.2,845.1 L1215.9,827.3 A3.9,1.6 0 0 1 1208.1,827.3 Z" fill="url(#g602)"/>
<path d="M1208.9,806 L1208.3,828.5 A3.7,1.6 0 0 0 1215.7,828.5 L1215.2,806 Q1212,803.4 1208.9,806 Z" fill="url(#g601)"/>
<line x1="1230.1" y1="793" x2="1193.9" y2="772" stroke="#111" stroke-width="2.6" stroke-linecap="round" />
<path d="M1226.8,795.2 L1226.2,811.8 A3.6,1.6 0 0 0 1233.4,811.8 L1232.9,795.2 Q1229.8,792.6 1226.8,795.2 Z" fill="url(#g601)"/>
<line x1="1248.2" y1="781.4" x2="1212.8" y2="760.5" stroke="#111" stroke-width="1.5" stroke-linecap="round" />
<path d="M1245.2,783.6 L1244.6,800.3 A3.6,1.6 0 0 0 1251.8,800.3 L1251.3,783.6 Q1248.2,781 1245.2,783.6 Z" fill="url(#g601)"/>
<polygon points="1296,778.5 1303.9,782.9 1303.9,800.3 1296,795.9" fill="#D6D2CC" stroke="#D6D2CC" stroke-width="0.5" stroke-linejoin="round"/>
<polygon points="1309.7,788.7 1320.6,782.9 1320.6,800.3 1309.7,806" fill="#C6C2BB" stroke="#C6C2BB" stroke-width="0.5" stroke-linejoin="round"/>
<polygon points="1295.2,738.7 1347.6,767.3 1353.1,780 1338.7,793 1286.6,763.4 1282.9,752.5 1288,742.4" fill="#E2DFDA" stroke="#E2DFDA" stroke-width="0.5" stroke-linejoin="round"/>
<polygon points="1282.9,752.5 1286.6,763.4 1338.7,793 1344.5,788.7 1290.9,758.3" fill="#CFCBC5" stroke="#CFCBC5" stroke-width="0.5" stroke-linejoin="round"/>
<polygon points="1288,742.4 1295.2,738.7 1347.6,767.3 1342.3,768.4" fill="#EAE8E3" stroke="#EAE8E3" stroke-width="0.5" stroke-linejoin="round"/>
<ellipse cx="1344.2" cy="780.3" rx="10.5" ry="13.5" fill="#D6D3CD" transform="rotate(20 1344.2 780.3)"/>
<ellipse cx="1344.7" cy="780.6" rx="8" ry="10.5" fill="#E8E5E0" transform="rotate(20 1344.2 780.3)"/>
<ellipse cx="1345.2" cy="780.9" rx="5.6" ry="7.6" fill="#DAD7D1" transform="rotate(20 1344.2 780.3)"/>
<polygon points="1225.8,814 1285.1,779.3 1323.5,799.5 1264.1,835" fill="#E9E6E1" stroke="#E9E6E1" stroke-width="0.5" stroke-linejoin="round"/>
<polygon points="1223.6,821.2 1264.1,839.3 1264.1,885.6 1223.6,864.7" fill="#D6D2CC" stroke="#D6D2CC" stroke-width="0.5" stroke-linejoin="round"/>
<polygon points="1223.6,822 1235.9,827.7 1235.9,864.7 1223.6,858.9" fill="#E3E0DB" stroke="#E3E0DB" stroke-width="0.5" stroke-linejoin="round"/>
<line x1="1226.1" y1="824.6" x2="1226.1" y2="860.7" stroke="#B3AEA7" stroke-width="0.9" stroke-linecap="butt" />
<line x1="1228.5" y1="825.7" x2="1228.5" y2="861.9" stroke="#B3AEA7" stroke-width="0.9" stroke-linecap="butt" />
<line x1="1231" y1="826.9" x2="1231" y2="863.1" stroke="#B3AEA7" stroke-width="0.9" stroke-linecap="butt" />
<line x1="1233.5" y1="828" x2="1233.5" y2="864.2" stroke="#B3AEA7" stroke-width="0.9" stroke-linecap="butt" />
<polygon points="1226.5,849.2 1231.9,851.6 1231.9,857 1226.5,854.5" fill="#E9B23F" stroke="#E9B23F" stroke-width="0.5" stroke-linejoin="round"/>
<polygon points="1264.1,839.3 1323.5,803.9 1323.5,852.4 1264.1,885.6" fill="#CBC7C0" stroke="#CBC7C0" stroke-width="0.5" stroke-linejoin="round"/>
<polygon points="1265.9,838.3 1269.5,836.1 1269.5,878.3 1265.9,880.3" fill="#E6E3DE" stroke="#E6E3DE" stroke-width="0.5" stroke-linejoin="round"/>
<polygon points="1269.5,836.1 1271,835.2 1271,877.5 1269.5,878.3" fill="#B3AEA7" stroke="#B3AEA7" stroke-width="0.5" stroke-linejoin="round"/>
<polygon points="1272.9,834.1 1276.5,832 1276.5,874.4 1272.9,876.4" fill="#E6E3DE" stroke="#E6E3DE" stroke-width="0.5" stroke-linejoin="round"/>
<polygon points="1276.5,832 1278,831.1 1278,873.5 1276.5,874.4" fill="#B3AEA7" stroke="#B3AEA7" stroke-width="0.5" stroke-linejoin="round"/>
<polygon points="1279.9,829.9 1283.5,827.8 1283.5,870.4 1279.9,872.4" fill="#E6E3DE" stroke="#E6E3DE" stroke-width="0.5" stroke-linejoin="round"/>
<polygon points="1283.5,827.8 1285,826.9 1285,869.6 1283.5,870.4" fill="#B3AEA7" stroke="#B3AEA7" stroke-width="0.5" stroke-linejoin="round"/>
<polygon points="1286.9,825.7 1290.5,823.6 1290.5,866.5 1286.9,868.5" fill="#E6E3DE" stroke="#E6E3DE" stroke-width="0.5" stroke-linejoin="round"/>
<polygon points="1290.5,823.6 1292,822.7 1292,865.7 1290.5,866.5" fill="#B3AEA7" stroke="#B3AEA7" stroke-width="0.5" stroke-linejoin="round"/>
<polygon points="1293.9,821.5 1297.5,819.4 1297.5,862.6 1293.9,864.6" fill="#E6E3DE" stroke="#E6E3DE" stroke-width="0.5" stroke-linejoin="round"/>
<polygon points="1297.5,819.4 1299,818.5 1299,861.8 1297.5,862.6" fill="#B3AEA7" stroke="#B3AEA7" stroke-width="0.5" stroke-linejoin="round"/>
<polygon points="1300.9,817.3 1304.5,815.2 1304.5,858.7 1300.9,860.7" fill="#E6E3DE" stroke="#E6E3DE" stroke-width="0.5" stroke-linejoin="round"/>
<polygon points="1304.5,815.2 1306,814.3 1306,857.8 1304.5,858.7" fill="#B3AEA7" stroke="#B3AEA7" stroke-width="0.5" stroke-linejoin="round"/>
<polygon points="1307.9,813.2 1311.5,811 1311.5,854.7 1307.9,856.7" fill="#E6E3DE" stroke="#E6E3DE" stroke-width="0.5" stroke-linejoin="round"/>
<polygon points="1311.5,811 1313,810.1 1313,853.9 1311.5,854.7" fill="#B3AEA7" stroke="#B3AEA7" stroke-width="0.5" stroke-linejoin="round"/>
<polygon points="1314.9,809 1318.5,806.8 1318.5,850.8 1314.9,852.8" fill="#E6E3DE" stroke="#E6E3DE" stroke-width="0.5" stroke-linejoin="round"/>
<polygon points="1318.5,806.8 1320,806 1320,850 1318.5,850.8" fill="#B3AEA7" stroke="#B3AEA7" stroke-width="0.5" stroke-linejoin="round"/>
<polygon points="1264.1,875.5 1323.5,842.9 1323.5,852.4 1264.1,885.6" fill="#C6C2BB" fill-opacity="0.8"/>
<polygon points="1237.4,806 1259.1,817.6 1259.1,826.3 1237.4,814.7" fill="#D6D2CC" stroke="#D6D2CC" stroke-width="0.5" stroke-linejoin="round"/>
<polygon points="1259.1,817.6 1279.3,806 1279.3,814 1259.1,826.3" fill="#C6C2BB" stroke="#C6C2BB" stroke-width="0.5" stroke-linejoin="round"/>
<polygon points="1237.4,806 1257.6,794.5 1279.3,806 1259.1,817.6" fill="#F0EEEA" stroke="#F0EEEA" stroke-width="0.5" stroke-linejoin="round"/>
<polygon points="1238.1,831.4 1251.1,837.2 1241,896.5 1227.2,890" fill="#F3F1ED" stroke="#F3F1ED" stroke-width="0.5" stroke-linejoin="round"/>
<polygon points="1251.1,837.2 1255.4,835 1253.3,882.7 1241,896.5" fill="#C6C2BB" stroke="#C6C2BB" stroke-width="0.5" stroke-linejoin="round"/>
<line x1="1237.2" y1="836.3" x2="1250.3" y2="842.1" stroke="#C9C5BF" stroke-width="0.9" stroke-linecap="butt" />
<line x1="1236.3" y1="841.1" x2="1249.4" y2="847" stroke="#C9C5BF" stroke-width="0.9" stroke-linecap="butt" />
<line x1="1235.4" y1="846" x2="1248.6" y2="852" stroke="#C9C5BF" stroke-width="0.9" stroke-linecap="butt" />
<line x1="1234.5" y1="850.9" x2="1247.7" y2="856.9" stroke="#C9C5BF" stroke-width="0.9" stroke-linecap="butt" />
<line x1="1233.6" y1="855.8" x2="1246.9" y2="861.9" stroke="#C9C5BF" stroke-width="0.9" stroke-linecap="butt" />
<line x1="1232.7" y1="860.7" x2="1246" y2="866.8" stroke="#C9C5BF" stroke-width="0.9" stroke-linecap="butt" />
<line x1="1231.8" y1="865.6" x2="1245.2" y2="871.8" stroke="#C9C5BF" stroke-width="0.9" stroke-linecap="butt" />
<line x1="1230.8" y1="870.4" x2="1244.4" y2="876.7" stroke="#C9C5BF" stroke-width="0.9" stroke-linecap="butt" />
<line x1="1229.9" y1="875.3" x2="1243.5" y2="881.7" stroke="#C9C5BF" stroke-width="0.9" stroke-linecap="butt" />
<line x1="1229" y1="880.2" x2="1242.7" y2="886.6" stroke="#C9C5BF" stroke-width="0.9" stroke-linecap="butt" />
<line x1="1228.1" y1="885.1" x2="1241.8" y2="891.5" stroke="#C9C5BF" stroke-width="0.9" stroke-linecap="butt" />
<polygon points="1322,840.8 1329.7,837.2 1329.7,886.4 1322,885.6" fill="#C6C2BB" stroke="#C6C2BB" stroke-width="0.5" stroke-linejoin="round"/>
<polygon points="1322,840.8 1325.6,839.3 1325.6,885.9 1322,885.6" fill="#D6D2CC" stroke="#D6D2CC" stroke-width="0.5" stroke-linejoin="round"/>
<polygon points="1295.2,839.3 1353.1,811.8 1353.1,819.8 1295.2,848" fill="#E6E3DE" stroke="#E6E3DE" stroke-width="0.5" stroke-linejoin="round"/>
<polygon points="1295.2,848 1353.1,819.8 1353.1,823.4 1295.2,851.6" fill="#C6C2BB" stroke="#C6C2BB" stroke-width="0.5" stroke-linejoin="round"/>
<polygon points="1296,851.6 1321.3,839.3 1321.3,850.9 1296,863.2" fill="#D9D6D0" fill-opacity="0.55"/>
<line x1="1297.4" y1="856" x2="1297.4" y2="863.2" stroke="#F1EFEB" stroke-width="0.9" stroke-linecap="butt" />
<line x1="1301.8" y1="853.9" x2="1301.8" y2="861.2" stroke="#F1EFEB" stroke-width="0.9" stroke-linecap="butt" />
<line x1="1306.1" y1="851.9" x2="1306.1" y2="859.2" stroke="#F1EFEB" stroke-width="0.9" stroke-linecap="butt" />
<line x1="1310.4" y1="849.9" x2="1310.4" y2="857.1" stroke="#F1EFEB" stroke-width="0.9" stroke-linecap="butt" />
<line x1="1314.8" y1="847.9" x2="1314.8" y2="855.1" stroke="#F1EFEB" stroke-width="0.9" stroke-linecap="butt" />
<line x1="1319.1" y1="845.8" x2="1319.1" y2="853.1" stroke="#F1EFEB" stroke-width="0.9" stroke-linecap="butt" />
<path d="M1296.7,835.3 L1296.5,842.3 A2.4,1 0 0 0 1301.3,842.3 L1301.1,835.3 A2.2,0.9 0 0 1 1296.7,835.3 Z" fill="#E9E6E1"/>
<ellipse cx="1298.9" cy="835.3" rx="2.2" ry="0.9" fill="#F3F1ED"/>
<line x1="1298.9" y1="835.3" x2="1298.9" y2="831.3" stroke="#222" stroke-width="1.2" stroke-linecap="butt" />
<path d="M1320.5,822.3 L1320.3,829.3 A2.4,1 0 0 0 1325.1,829.3 L1324.9,822.3 A2.2,0.9 0 0 1 1320.5,822.3 Z" fill="#E9E6E1"/>
<ellipse cx="1322.7" cy="822.3" rx="2.2" ry="0.9" fill="#F3F1ED"/>
<line x1="1322.7" y1="822.3" x2="1322.7" y2="818.3" stroke="#222" stroke-width="1.2" stroke-linecap="butt" />
<path d="M1344.4,807.8 L1344.2,814.8 A2.4,1 0 0 0 1349,814.8 L1348.8,807.8 A2.2,0.9 0 0 1 1344.4,807.8 Z" fill="#E9E6E1"/>
<ellipse cx="1346.6" cy="807.8" rx="2.2" ry="0.9" fill="#F3F1ED"/>
<line x1="1346.6" y1="807.8" x2="1346.6" y2="803.8" stroke="#222" stroke-width="1.2" stroke-linecap="butt" />
<path d="M1263.1,806.3 L1262.8,823.4 A4.5,1.8 0 0 0 1271.8,823.4 L1271.5,806.3 A4.2,1.7 0 0 1 1263.1,806.3 Z" fill="url(#g602)"/>
<path d="M1263.9,782.2 L1263.3,807.5 A4,1.6 0 0 0 1271.3,807.5 L1270.7,782.2 Q1267.3,779.6 1263.9,782.2 Z" fill="url(#g601)"/>
<path d="M1280.9,794.8 L1280.6,811.8 A4.5,1.8 0 0 0 1289.6,811.8 L1289.3,794.8 A4.2,1.7 0 0 1 1280.9,794.8 Z" fill="url(#g602)"/>
<path d="M1281.7,772 L1281.1,795.9 A4,1.6 0 0 0 1289.1,795.9 L1288.5,772 Q1285.1,769.4 1281.7,772 Z" fill="url(#g601)"/>
<path d="M1299,783.5 L1298.7,800.3 A4.5,1.8 0 0 0 1307.7,800.3 L1307.4,783.5 A4.2,1.7 0 0 1 1299,783.5 Z" fill="url(#g602)"/>
<path d="M1299.8,760.5 L1299.2,784.6 A4,1.6 0 0 0 1307.2,784.6 L1306.6,760.5 Q1303.2,757.9 1299.8,760.5 Z" fill="url(#g601)"/>
<path d="M1267,780 C1272.1,794.5 1276.4,814.7 1285.1,826.3 L1321.3,848" fill="none" stroke="#151515" stroke-width="1.7" stroke-linecap="round" stroke-linejoin="round"/>
<path d="M1285.1,769.9 C1290.9,782.9 1298.1,800.3 1308.3,811.8 L1345.2,834.3" fill="none" stroke="#151515" stroke-width="1.7" stroke-linecap="round" stroke-linejoin="round"/>
<path d="M1303.2,759 C1309.7,772.8 1317,788.7 1328.5,797.4 L1369.1,820.5" fill="none" stroke="#151515" stroke-width="1.7" stroke-linecap="round" stroke-linejoin="round"/>
<!-- commercial -->
<polygon points="1491.5,885.3 1683.9,997.6 1683.9,1001.3 1491.5,889" fill="#C4C4C6" stroke="#C4C4C6" stroke-width="0.5" stroke-linejoin="round"/>
<polygon points="1683.9,997.6 1791.5,932.3 1791.5,936 1683.9,1001.3" fill="#D2D2D4" stroke="#D2D2D4" stroke-width="0.5" stroke-linejoin="round"/>
<polygon points="1491.5,885.3 1683.9,997.6 1791.5,932.3 1599.1,821.2" fill="#E7E7E9" stroke="#E7E7E9" stroke-width="0.5" stroke-linejoin="round"/>
<polygon points="1539.1,775.9 1606.4,736.9 1769.8,826.2 1688.4,872.1 1581.9,813.9" fill="#F2F6F7" stroke="#F2F6F7" stroke-width="0.5" stroke-linejoin="round"/>
<polygon points="1542.3,776.8 1606.4,740.1 1765.2,826.5 1688.4,868.9 1583.5,812" fill="#5BB5CD" stroke="#5BB5CD" stroke-width="0.5" stroke-linejoin="round"/>
<polygon points="1542.3,776.8 1606.4,740.1 1611.7,742.9 1547.6,780" fill="#4AA3BC" stroke="#4AA3BC" stroke-width="0.5" stroke-linejoin="round"/>
<polygon points="1581.9,814.3 1688.4,871.6 1688.4,886.5 1581.9,829.3" fill="#6CC0D9" stroke="#6CC0D9" stroke-width="0.5" stroke-linejoin="round"/>
<polygon points="1581.9,829.3 1688.4,886.5 1688.4,889.9 1581.9,832.7" fill="#EEF2F3" stroke="#EEF2F3" stroke-width="0.5" stroke-linejoin="round"/>
<polygon points="1581.9,832.7 1688.4,889.9 1688.4,907.1 1581.9,849.8" fill="#357A96" stroke="#357A96" stroke-width="0.5" stroke-linejoin="round"/>
<polygon points="1581.9,849.8 1688.4,907.1 1688.4,911.7 1581.9,854.4" fill="#EDEDE6" stroke="#EDEDE6" stroke-width="0.5" stroke-linejoin="round"/>
<polygon points="1581.9,854.4 1688.4,911.7 1688.4,931.1 1581.9,873.8" fill="#357A96" stroke="#357A96" stroke-width="0.5" stroke-linejoin="round"/>
<polygon points="1581.9,873.8 1688.4,931.1 1688.4,935.6 1581.9,878.3" fill="#F1F3F4" stroke="#F1F3F4" stroke-width="0.5" stroke-linejoin="round"/>
<polygon points="1581.9,878.3 1688.4,935.6 1688.4,937.6 1581.9,880.4" fill="#B9C4C8" stroke="#B9C4C8" stroke-width="0.5" stroke-linejoin="round"/>
<polygon points="1581.9,880.4 1688.4,937.6 1688.4,941.1 1581.9,883.9" fill="#F1F3F4" stroke="#F1F3F4" stroke-width="0.5" stroke-linejoin="round"/>
<polygon points="1581.9,883.9 1688.4,941.1 1688.4,947.2 1581.9,889.9" fill="#6CC0D9" stroke="#6CC0D9" stroke-width="0.5" stroke-linejoin="round"/>
<polygon points="1581.9,889.9 1688.4,947.2 1688.4,972.4 1581.9,915.1" fill="#C9C9CB" stroke="#C9C9CB" stroke-width="0.5" stroke-linejoin="round"/>
<line x1="1585.7" y1="834.7" x2="1585.7" y2="851.9" stroke="#5C9CB4" stroke-width="0.5" stroke-linecap="butt" />
<line x1="1589.5" y1="836.8" x2="1589.5" y2="853.9" stroke="#5C9CB4" stroke-width="0.5" stroke-linecap="butt" />
<line x1="1593.3" y1="838.8" x2="1593.3" y2="855.9" stroke="#5C9CB4" stroke-width="0.5" stroke-linecap="butt" />
<line x1="1597.1" y1="840.9" x2="1597.1" y2="858" stroke="#5C9CB4" stroke-width="0.5" stroke-linecap="butt" />
<line x1="1601" y1="842.9" x2="1601" y2="860" stroke="#5C9CB4" stroke-width="0.5" stroke-linecap="butt" />
<line x1="1604.8" y1="844.9" x2="1604.8" y2="862.1" stroke="#5C9CB4" stroke-width="0.5" stroke-linecap="butt" />
<line x1="1608.6" y1="847" x2="1608.6" y2="864.1" stroke="#5C9CB4" stroke-width="0.5" stroke-linecap="butt" />
<line x1="1612.4" y1="849" x2="1612.4" y2="866.2" stroke="#5C9CB4" stroke-width="0.5" stroke-linecap="butt" />
<line x1="1616.2" y1="851.1" x2="1616.2" y2="868.2" stroke="#5C9CB4" stroke-width="0.5" stroke-linecap="butt" />
<line x1="1620" y1="853.1" x2="1620" y2="870.3" stroke="#5C9CB4" stroke-width="0.5" stroke-linecap="butt" />
<line x1="1623.8" y1="855.2" x2="1623.8" y2="872.3" stroke="#5C9CB4" stroke-width="0.5" stroke-linecap="butt" />
<line x1="1627.6" y1="857.2" x2="1627.6" y2="874.4" stroke="#5C9CB4" stroke-width="0.5" stroke-linecap="butt" />
<line x1="1631.4" y1="859.3" x2="1631.4" y2="876.4" stroke="#5C9CB4" stroke-width="0.5" stroke-linecap="butt" />
<line x1="1635.2" y1="861.3" x2="1635.2" y2="878.4" stroke="#5C9CB4" stroke-width="0.5" stroke-linecap="butt" />
<line x1="1639" y1="863.4" x2="1639" y2="880.5" stroke="#5C9CB4" stroke-width="0.5" stroke-linecap="butt" />
<line x1="1642.8" y1="865.4" x2="1642.8" y2="882.5" stroke="#5C9CB4" stroke-width="0.5" stroke-linecap="butt" />
<line x1="1646.6" y1="867.4" x2="1646.6" y2="884.6" stroke="#5C9CB4" stroke-width="0.5" stroke-linecap="butt" />
<line x1="1650.4" y1="869.5" x2="1650.4" y2="886.6" stroke="#5C9CB4" stroke-width="0.5" stroke-linecap="butt" />
<line x1="1654.2" y1="871.5" x2="1654.2" y2="888.7" stroke="#5C9CB4" stroke-width="0.5" stroke-linecap="butt" />
<line x1="1658" y1="873.6" x2="1658" y2="890.7" stroke="#5C9CB4" stroke-width="0.5" stroke-linecap="butt" />
<line x1="1661.8" y1="875.6" x2="1661.8" y2="892.8" stroke="#5C9CB4" stroke-width="0.5" stroke-linecap="butt" />
<line x1="1665.6" y1="877.7" x2="1665.6" y2="894.8" stroke="#5C9CB4" stroke-width="0.5" stroke-linecap="butt" />
<line x1="1669.4" y1="879.7" x2="1669.4" y2="896.9" stroke="#5C9CB4" stroke-width="0.5" stroke-linecap="butt" />
<line x1="1673.2" y1="881.8" x2="1673.2" y2="898.9" stroke="#5C9CB4" stroke-width="0.5" stroke-linecap="butt" />
<line x1="1677" y1="883.8" x2="1677" y2="900.9" stroke="#5C9CB4" stroke-width="0.5" stroke-linecap="butt" />
<line x1="1680.8" y1="885.9" x2="1680.8" y2="903" stroke="#5C9CB4" stroke-width="0.5" stroke-linecap="butt" />
<line x1="1684.6" y1="887.9" x2="1684.6" y2="905" stroke="#5C9CB4" stroke-width="0.5" stroke-linecap="butt" />
<line x1="1581.9" y1="841.2" x2="1688.4" y2="898.5" stroke="#5C9CB4" stroke-width="0.5" stroke-linecap="butt" />
<line x1="1585.7" y1="856.5" x2="1585.7" y2="875.8" stroke="#5C9CB4" stroke-width="0.5" stroke-linecap="butt" />
<line x1="1589.5" y1="858.5" x2="1589.5" y2="877.9" stroke="#5C9CB4" stroke-width="0.5" stroke-linecap="butt" />
<line x1="1593.3" y1="860.6" x2="1593.3" y2="879.9" stroke="#5C9CB4" stroke-width="0.5" stroke-linecap="butt" />
<line x1="1597.1" y1="862.6" x2="1597.1" y2="882" stroke="#5C9CB4" stroke-width="0.5" stroke-linecap="butt" />
<line x1="1601" y1="864.7" x2="1601" y2="884" stroke="#5C9CB4" stroke-width="0.5" stroke-linecap="butt" />
<line x1="1604.8" y1="866.7" x2="1604.8" y2="886.1" stroke="#5C9CB4" stroke-width="0.5" stroke-linecap="butt" />
<line x1="1608.6" y1="868.8" x2="1608.6" y2="888.1" stroke="#5C9CB4" stroke-width="0.5" stroke-linecap="butt" />
<line x1="1612.4" y1="870.8" x2="1612.4" y2="890.2" stroke="#5C9CB4" stroke-width="0.5" stroke-linecap="butt" />
<line x1="1616.2" y1="872.9" x2="1616.2" y2="892.2" stroke="#5C9CB4" stroke-width="0.5" stroke-linecap="butt" />
<line x1="1620" y1="874.9" x2="1620" y2="894.3" stroke="#5C9CB4" stroke-width="0.5" stroke-linecap="butt" />
<line x1="1623.8" y1="876.9" x2="1623.8" y2="896.3" stroke="#5C9CB4" stroke-width="0.5" stroke-linecap="butt" />
<line x1="1627.6" y1="879" x2="1627.6" y2="898.3" stroke="#5C9CB4" stroke-width="0.5" stroke-linecap="butt" />
<line x1="1631.4" y1="881" x2="1631.4" y2="900.4" stroke="#5C9CB4" stroke-width="0.5" stroke-linecap="butt" />
<line x1="1635.2" y1="883.1" x2="1635.2" y2="902.4" stroke="#5C9CB4" stroke-width="0.5" stroke-linecap="butt" />
<line x1="1639" y1="885.1" x2="1639" y2="904.5" stroke="#5C9CB4" stroke-width="0.5" stroke-linecap="butt" />
<line x1="1642.8" y1="887.2" x2="1642.8" y2="906.5" stroke="#5C9CB4" stroke-width="0.5" stroke-linecap="butt" />
<line x1="1646.6" y1="889.2" x2="1646.6" y2="908.6" stroke="#5C9CB4" stroke-width="0.5" stroke-linecap="butt" />
<line x1="1650.4" y1="891.3" x2="1650.4" y2="910.6" stroke="#5C9CB4" stroke-width="0.5" stroke-linecap="butt" />
<line x1="1654.2" y1="893.3" x2="1654.2" y2="912.7" stroke="#5C9CB4" stroke-width="0.5" stroke-linecap="butt" />
<line x1="1658" y1="895.4" x2="1658" y2="914.7" stroke="#5C9CB4" stroke-width="0.5" stroke-linecap="butt" />
<line x1="1661.8" y1="897.4" x2="1661.8" y2="916.7" stroke="#5C9CB4" stroke-width="0.5" stroke-linecap="butt" />
<line x1="1665.6" y1="899.4" x2="1665.6" y2="918.8" stroke="#5C9CB4" stroke-width="0.5" stroke-linecap="butt" />
<line x1="1669.4" y1="901.5" x2="1669.4" y2="920.8" stroke="#5C9CB4" stroke-width="0.5" stroke-linecap="butt" />
<line x1="1673.2" y1="903.5" x2="1673.2" y2="922.9" stroke="#5C9CB4" stroke-width="0.5" stroke-linecap="butt" />
<line x1="1677" y1="905.6" x2="1677" y2="924.9" stroke="#5C9CB4" stroke-width="0.5" stroke-linecap="butt" />
<line x1="1680.8" y1="907.6" x2="1680.8" y2="927" stroke="#5C9CB4" stroke-width="0.5" stroke-linecap="butt" />
<line x1="1684.6" y1="909.7" x2="1684.6" y2="929" stroke="#5C9CB4" stroke-width="0.5" stroke-linecap="butt" />
<line x1="1581.9" y1="864.1" x2="1688.4" y2="921.4" stroke="#5C9CB4" stroke-width="0.5" stroke-linecap="butt" />
<polygon points="1585.1,896.7 1599,904.1 1599,921.3 1585.1,913.8" fill="#B4B4B6" stroke="#DADADC" stroke-width="0.7" stroke-linejoin="round"/>
<ellipse cx="1592.1" cy="909" rx="3.4" ry="4.6" fill="#C9C9CB" stroke="#9A9A9C" stroke-width="0.6"/>
<polygon points="1605.4,907.6 1619.2,915 1619.2,932.1 1605.4,924.7" fill="#B4B4B6" stroke="#DADADC" stroke-width="0.7" stroke-linejoin="round"/>
<ellipse cx="1612.3" cy="919.9" rx="3.4" ry="4.6" fill="#C9C9CB" stroke="#9A9A9C" stroke-width="0.6"/>
<polygon points="1625.6,918.4 1639.5,925.9 1639.5,943 1625.6,935.6" fill="#B4B4B6" stroke="#DADADC" stroke-width="0.7" stroke-linejoin="round"/>
<ellipse cx="1632.5" cy="930.7" rx="3.4" ry="4.6" fill="#C9C9CB" stroke="#9A9A9C" stroke-width="0.6"/>
<polygon points="1688.4,871.6 1768.6,829.2 1768.6,842.9 1688.4,885.3" fill="#5DB7D3" stroke="#5DB7D3" stroke-width="0.5" stroke-linejoin="round"/>
<polygon points="1688.4,885.3 1768.6,842.9 1768.6,865.7 1688.4,908" fill="#F2F5F6" stroke="#F2F5F6" stroke-width="0.5" stroke-linejoin="round"/>
<polygon points="1688.4,908 1768.6,865.7 1768.6,883.9 1688.4,926.3" fill="#69B9E2" stroke="#69B9E2" stroke-width="0.5" stroke-linejoin="round"/>
<polygon points="1688.4,926.3 1768.6,883.9 1768.6,893 1688.4,935.4" fill="#F1F3F4" stroke="#F1F3F4" stroke-width="0.5" stroke-linejoin="round"/>
<polygon points="1688.4,935.4 1768.6,893 1768.6,900.1 1688.4,942.5" fill="#6CC0D9" stroke="#6CC0D9" stroke-width="0.5" stroke-linejoin="round"/>
<polygon points="1688.4,942.5 1768.6,900.1 1768.6,930.5 1688.4,972.8" fill="#D3D3D5" stroke="#D3D3D5" stroke-width="0.5" stroke-linejoin="round"/>
<line x1="1688.4" y1="930.8" x2="1768.6" y2="888.5" stroke="#C4CDD0" stroke-width="0.7" stroke-linecap="butt" />
<polygon points="1690.9,886 1696.9,882.8 1696.9,891.5 1690.9,894.6" fill="#8FC5D6" stroke="#8FC5D6" stroke-width="0.5" stroke-linejoin="round"/>
<polygon points="1690.9,896.9 1696.9,893.7 1696.9,902.1 1690.9,905.3" fill="#8FC5D6" stroke="#8FC5D6" stroke-width="0.5" stroke-linejoin="round"/>
<polygon points="1699.5,881.4 1705.5,878.3 1705.5,886.9 1699.5,890.1" fill="#8FC5D6" stroke="#8FC5D6" stroke-width="0.5" stroke-linejoin="round"/>
<polygon points="1699.5,892.3 1705.5,889.1 1705.5,897.5 1699.5,900.7" fill="#8FC5D6" stroke="#8FC5D6" stroke-width="0.5" stroke-linejoin="round"/>
<polygon points="1708.2,876.9 1714.2,873.7 1714.2,882.3 1708.2,885.5" fill="#8FC5D6" stroke="#8FC5D6" stroke-width="0.5" stroke-linejoin="round"/>
<polygon points="1708.2,887.7 1714.2,884.5 1714.2,892.9 1708.2,896.1" fill="#8FC5D6" stroke="#8FC5D6" stroke-width="0.5" stroke-linejoin="round"/>
<polygon points="1716.8,872.3 1722.8,869.1 1722.8,877.7 1716.8,880.9" fill="#8FC5D6" stroke="#8FC5D6" stroke-width="0.5" stroke-linejoin="round"/>
<polygon points="1716.8,883.1 1722.8,879.9 1722.8,888.4 1716.8,891.5" fill="#8FC5D6" stroke="#8FC5D6" stroke-width="0.5" stroke-linejoin="round"/>
<polygon points="1725.5,867.7 1731.5,864.5 1731.5,873.1 1725.5,876.3" fill="#8FC5D6" stroke="#8FC5D6" stroke-width="0.5" stroke-linejoin="round"/>
<polygon points="1725.5,878.5 1731.5,875.4 1731.5,883.8 1725.5,887" fill="#8FC5D6" stroke="#8FC5D6" stroke-width="0.5" stroke-linejoin="round"/>
<polygon points="1734.1,863.1 1740.2,860 1740.2,868.6 1734.1,871.7" fill="#8FC5D6" stroke="#8FC5D6" stroke-width="0.5" stroke-linejoin="round"/>
<polygon points="1734.1,874 1740.2,870.8 1740.2,879.2 1734.1,882.4" fill="#8FC5D6" stroke="#8FC5D6" stroke-width="0.5" stroke-linejoin="round"/>
<polygon points="1742.8,858.6 1748.8,855.4 1748.8,864 1742.8,867.2" fill="#8FC5D6" stroke="#8FC5D6" stroke-width="0.5" stroke-linejoin="round"/>
<polygon points="1742.8,869.4 1748.8,866.2 1748.8,874.6 1742.8,877.8" fill="#8FC5D6" stroke="#8FC5D6" stroke-width="0.5" stroke-linejoin="round"/>
<polygon points="1751.5,854 1757.5,850.8 1757.5,859.4 1751.5,862.6" fill="#8FC5D6" stroke="#8FC5D6" stroke-width="0.5" stroke-linejoin="round"/>
<polygon points="1751.5,864.8 1757.5,861.6 1757.5,870 1751.5,873.2" fill="#8FC5D6" stroke="#8FC5D6" stroke-width="0.5" stroke-linejoin="round"/>
<polygon points="1760.1,849.4 1766.1,846.2 1766.1,854.8 1760.1,858" fill="#8FC5D6" stroke="#8FC5D6" stroke-width="0.5" stroke-linejoin="round"/>
<polygon points="1760.1,860.2 1766.1,857.1 1766.1,865.5 1760.1,868.6" fill="#8FC5D6" stroke="#8FC5D6" stroke-width="0.5" stroke-linejoin="round"/>
<line x1="1691.8" y1="906.3" x2="1691.8" y2="924.5" stroke="#8CCBEA" stroke-width="0.5" stroke-linecap="butt" />
<line x1="1695.1" y1="904.5" x2="1695.1" y2="922.7" stroke="#8CCBEA" stroke-width="0.5" stroke-linecap="butt" />
<line x1="1698.5" y1="902.8" x2="1698.5" y2="921" stroke="#8CCBEA" stroke-width="0.5" stroke-linecap="butt" />
<line x1="1701.8" y1="901" x2="1701.8" y2="919.2" stroke="#8CCBEA" stroke-width="0.5" stroke-linecap="butt" />
<line x1="1705.2" y1="899.2" x2="1705.2" y2="917.4" stroke="#8CCBEA" stroke-width="0.5" stroke-linecap="butt" />
<line x1="1708.5" y1="897.5" x2="1708.5" y2="915.7" stroke="#8CCBEA" stroke-width="0.5" stroke-linecap="butt" />
<line x1="1711.8" y1="895.7" x2="1711.8" y2="913.9" stroke="#8CCBEA" stroke-width="0.5" stroke-linecap="butt" />
<line x1="1715.2" y1="893.9" x2="1715.2" y2="912.1" stroke="#8CCBEA" stroke-width="0.5" stroke-linecap="butt" />
<line x1="1718.5" y1="892.2" x2="1718.5" y2="910.4" stroke="#8CCBEA" stroke-width="0.5" stroke-linecap="butt" />
<line x1="1721.9" y1="890.4" x2="1721.9" y2="908.6" stroke="#8CCBEA" stroke-width="0.5" stroke-linecap="butt" />
<line x1="1725.2" y1="888.6" x2="1725.2" y2="906.9" stroke="#8CCBEA" stroke-width="0.5" stroke-linecap="butt" />
<line x1="1728.5" y1="886.9" x2="1728.5" y2="905.1" stroke="#8CCBEA" stroke-width="0.5" stroke-linecap="butt" />
<line x1="1731.9" y1="885.1" x2="1731.9" y2="903.3" stroke="#8CCBEA" stroke-width="0.5" stroke-linecap="butt" />
<line x1="1735.2" y1="883.3" x2="1735.2" y2="901.6" stroke="#8CCBEA" stroke-width="0.5" stroke-linecap="butt" />
<line x1="1738.6" y1="881.6" x2="1738.6" y2="899.8" stroke="#8CCBEA" stroke-width="0.5" stroke-linecap="butt" />
<line x1="1741.9" y1="879.8" x2="1741.9" y2="898" stroke="#8CCBEA" stroke-width="0.5" stroke-linecap="butt" />
<line x1="1745.2" y1="878" x2="1745.2" y2="896.3" stroke="#8CCBEA" stroke-width="0.5" stroke-linecap="butt" />
<line x1="1748.6" y1="876.3" x2="1748.6" y2="894.5" stroke="#8CCBEA" stroke-width="0.5" stroke-linecap="butt" />
<line x1="1751.9" y1="874.5" x2="1751.9" y2="892.7" stroke="#8CCBEA" stroke-width="0.5" stroke-linecap="butt" />
<line x1="1755.3" y1="872.7" x2="1755.3" y2="891" stroke="#8CCBEA" stroke-width="0.5" stroke-linecap="butt" />
<line x1="1758.6" y1="871" x2="1758.6" y2="889.2" stroke="#8CCBEA" stroke-width="0.5" stroke-linecap="butt" />
<line x1="1761.9" y1="869.2" x2="1761.9" y2="887.4" stroke="#8CCBEA" stroke-width="0.5" stroke-linecap="butt" />
<line x1="1765.3" y1="867.4" x2="1765.3" y2="885.7" stroke="#8CCBEA" stroke-width="0.5" stroke-linecap="butt" />
<line x1="1688.4" y1="912.6" x2="1768.6" y2="870.2" stroke="#8CCBEA" stroke-width="0.5" stroke-linecap="butt" />
<line x1="1688.4" y1="917.2" x2="1768.6" y2="874.8" stroke="#8CCBEA" stroke-width="0.5" stroke-linecap="butt" />
<line x1="1688.4" y1="921.7" x2="1768.6" y2="879.3" stroke="#8CCBEA" stroke-width="0.5" stroke-linecap="butt" />
<polygon points="1693.3,950.1 1710.1,941.2 1710.1,957.9 1693.3,966.8" fill="#A9A9AB" stroke="#8E8E90" stroke-width="0.5" stroke-linejoin="round"/>
<line x1="1688.4" y1="871.6" x2="1688.4" y2="972.8" stroke="#E9EEF0" stroke-width="0.8" stroke-linecap="butt" />
<polygon points="1522.4,772 1581.9,804 1581.9,915.1 1522.4,885.3" fill="#C8C8CA" stroke="#C8C8CA" stroke-width="0.5" stroke-linejoin="round"/>
<polygon points="1522.4,772 1524.9,770.6 1584.5,802.7 1581.9,804" fill="#E3E3E5" stroke="#E3E3E5" stroke-width="0.5" stroke-linejoin="round"/>
<polygon points="1581.9,804 1584.5,802.7 1584.5,814.8 1581.9,816.2" fill="#AFAFB1" stroke="#AFAFB1" stroke-width="0.5" stroke-linejoin="round"/>
<polygon points="1527.7,780.5 1531.3,782.4 1531.3,788.1 1527.7,786.2" fill="#6A6A6C" stroke="#6A6A6C" stroke-width="0.5" stroke-linejoin="round"/>
<polygon points="1536.4,785.2 1539.9,787.1 1539.9,792.8 1536.4,790.8" fill="#6A6A6C" stroke="#6A6A6C" stroke-width="0.5" stroke-linejoin="round"/>
<polygon points="1545,789.8 1548.6,791.7 1548.6,797.4 1545,795.5" fill="#6A6A6C" stroke="#6A6A6C" stroke-width="0.5" stroke-linejoin="round"/>
<polygon points="1553.6,794.5 1557.2,796.4 1557.2,802.1 1553.6,800.1" fill="#6A6A6C" stroke="#6A6A6C" stroke-width="0.5" stroke-linejoin="round"/>
<polygon points="1562.3,799.1 1565.9,801 1565.9,806.7 1562.3,804.8" fill="#6A6A6C" stroke="#6A6A6C" stroke-width="0.5" stroke-linejoin="round"/>
<polygon points="1570.9,803.8 1574.5,805.7 1574.5,811.4 1570.9,809.4" fill="#6A6A6C" stroke="#6A6A6C" stroke-width="0.5" stroke-linejoin="round"/>
<polygon points="1527.1,811.9 1530.7,813.9 1530.7,819 1527.1,817" fill="#6A6A6C" stroke="#6A6A6C" stroke-width="0.5" stroke-linejoin="round"/>
<polygon points="1527.1,820.4 1530.7,822.4 1530.7,827.5 1527.1,825.5" fill="#6A6A6C" stroke="#6A6A6C" stroke-width="0.5" stroke-linejoin="round"/>
<polygon points="1527.1,828.9 1530.7,830.9 1530.7,836 1527.1,834.1" fill="#6A6A6C" stroke="#6A6A6C" stroke-width="0.5" stroke-linejoin="round"/>
<polygon points="1527.1,837.5 1530.7,839.4 1530.7,844.5 1527.1,842.6" fill="#6A6A6C" stroke="#6A6A6C" stroke-width="0.5" stroke-linejoin="round"/>
<polygon points="1535.5,816.4 1539.1,818.4 1539.1,823.5 1535.5,821.5" fill="#6A6A6C" stroke="#6A6A6C" stroke-width="0.5" stroke-linejoin="round"/>
<polygon points="1535.5,824.9 1539.1,826.9 1539.1,832 1535.5,830" fill="#6A6A6C" stroke="#6A6A6C" stroke-width="0.5" stroke-linejoin="round"/>
<polygon points="1535.5,833.4 1539.1,835.4 1539.1,840.5 1535.5,838.5" fill="#6A6A6C" stroke="#6A6A6C" stroke-width="0.5" stroke-linejoin="round"/>
<polygon points="1535.5,841.9 1539.1,843.9 1539.1,849 1535.5,847" fill="#6A6A6C" stroke="#6A6A6C" stroke-width="0.5" stroke-linejoin="round"/>
<polygon points="1564.1,835.2 1567.6,837.1 1567.6,842.3 1564.1,840.3" fill="#6A6A6C" stroke="#6A6A6C" stroke-width="0.5" stroke-linejoin="round"/>
<polygon points="1564.1,843.7 1567.6,845.7 1567.6,850.8 1564.1,848.8" fill="#6A6A6C" stroke="#6A6A6C" stroke-width="0.5" stroke-linejoin="round"/>
<polygon points="1564.1,852.2 1567.6,854.2 1567.6,859.3 1564.1,857.3" fill="#6A6A6C" stroke="#6A6A6C" stroke-width="0.5" stroke-linejoin="round"/>
<polygon points="1564.1,860.7 1567.6,862.7 1567.6,867.8 1564.1,865.8" fill="#6A6A6C" stroke="#6A6A6C" stroke-width="0.5" stroke-linejoin="round"/>
<polygon points="1572.4,839.7 1576,841.6 1576,846.7 1572.4,844.8" fill="#6A6A6C" stroke="#6A6A6C" stroke-width="0.5" stroke-linejoin="round"/>
<polygon points="1572.4,848.2 1576,850.1 1576,855.2 1572.4,853.3" fill="#6A6A6C" stroke="#6A6A6C" stroke-width="0.5" stroke-linejoin="round"/>
<polygon points="1572.4,856.7 1576,858.6 1576,863.7 1572.4,861.8" fill="#6A6A6C" stroke="#6A6A6C" stroke-width="0.5" stroke-linejoin="round"/>
<polygon points="1572.4,865.2 1576,867.2 1576,872.3 1572.4,870.3" fill="#6A6A6C" stroke="#6A6A6C" stroke-width="0.5" stroke-linejoin="round"/>
<polygon points="1542,821.1 1547.4,824 1547.4,895.4 1542,892.5" fill="#737376" stroke="#737376" stroke-width="0.5" stroke-linejoin="round"/>
<polygon points="1546.3,823.4 1547.4,824 1547.4,895.4 1546.3,894.8" fill="#A8A8AA" stroke="#A8A8AA" stroke-width="0.5" stroke-linejoin="round"/>
<polygon points="1554.5,827.8 1559.9,830.7 1559.9,902.1 1554.5,899.3" fill="#737376" stroke="#737376" stroke-width="0.5" stroke-linejoin="round"/>
<polygon points="1558.8,830.1 1559.9,830.7 1559.9,902.1 1558.8,901.6" fill="#A8A8AA" stroke="#A8A8AA" stroke-width="0.5" stroke-linejoin="round"/>
<ellipse cx="1527.4" cy="900.4" rx="7" ry="3.2" fill="#77777A"/>
<ellipse cx="1527.4" cy="899.6" rx="7" ry="3.2" fill="#A2A2A5"/>
<path d="M1544.1,869.4 C1529.3,871.3 1527.4,885.5 1527.4,899.6" fill="none" stroke="#7A7A7D" stroke-width="7"/>
<path d="M1544.1,869.4 C1529.3,871.3 1527.4,885.5 1527.4,899.6" fill="none" stroke="#A6A6A9" stroke-width="3.4" transform="translate(-0.9,-0.3)"/>
<ellipse cx="1544.7" cy="869.4" rx="4.2" ry="5.6" fill="#8C8C8F" stroke="#B4B4B7" stroke-width="1.1"/>
<ellipse cx="1545" cy="869.4" rx="2.2" ry="3.2" fill="#7A7A7D"/>
<ellipse cx="1540.9" cy="907.5" rx="7" ry="3.2" fill="#77777A"/>
<ellipse cx="1540.9" cy="906.7" rx="7" ry="3.2" fill="#A2A2A5"/>
<path d="M1557,875.2 C1542.2,877.1 1540.9,892.6 1540.9,906.7" fill="none" stroke="#7A7A7D" stroke-width="7"/>
<path d="M1557,875.2 C1542.2,877.1 1540.9,892.6 1540.9,906.7" fill="none" stroke="#A6A6A9" stroke-width="3.4" transform="translate(-0.9,-0.3)"/>
<ellipse cx="1557.6" cy="875.2" rx="4.2" ry="5.6" fill="#8C8C8F" stroke="#B4B4B7" stroke-width="1.1"/>
<ellipse cx="1557.9" cy="875.2" rx="2.2" ry="3.2" fill="#7A7A7D"/>
<polygon points="1619.7,792.6 1626.6,788.7 1633.5,792.6 1626.6,796.5" fill="#F1F1F1" stroke="#F1F1F1" stroke-width="0.5" stroke-linejoin="round"/>
<polygon points="1619.7,792.6 1626.6,796.5 1626.6,799.4 1619.7,795.6" fill="#D8D8D8" stroke="#D8D8D8" stroke-width="0.5" stroke-linejoin="round"/>
<polygon points="1626.6,796.5 1633.5,792.6 1633.5,795.6 1626.6,799.4" fill="#C4C4C4" stroke="#C4C4C4" stroke-width="0.5" stroke-linejoin="round"/>
<ellipse cx="1626.6" cy="792.6" rx="3.6" ry="2.1" fill="#D8CFA8"/>
<ellipse cx="1626.6" cy="792.6" rx="1.6" ry="0.9" fill="#8A8A7A"/>
<polygon points="1636.9,782.3 1643.8,778.4 1650.7,782.3 1643.8,786.2" fill="#F1F1F1" stroke="#F1F1F1" stroke-width="0.5" stroke-linejoin="round"/>
<polygon points="1636.9,782.3 1643.8,786.2 1643.8,789.1 1636.9,785.2" fill="#D8D8D8" stroke="#D8D8D8" stroke-width="0.5" stroke-linejoin="round"/>
<polygon points="1643.8,786.2 1650.7,782.3 1650.7,785.2 1643.8,789.1" fill="#C4C4C4" stroke="#C4C4C4" stroke-width="0.5" stroke-linejoin="round"/>
<ellipse cx="1643.8" cy="782.3" rx="3.6" ry="2.1" fill="#D8CFA8"/>
<ellipse cx="1643.8" cy="782.3" rx="1.6" ry="0.9" fill="#8A8A7A"/>
<polygon points="1593.4,810.2 1610.6,800.6 1614,802.7 1596.8,812.3" fill="#E6DEC0" stroke="#E6DEC0" stroke-width="0.5" stroke-linejoin="round"/>
<polygon points="1593.4,810.2 1596.8,812.3 1596.8,814.3 1593.4,812.3" fill="#C9C0A0" stroke="#C9C0A0" stroke-width="0.5" stroke-linejoin="round"/>
<polygon points="1596.8,812.3 1614,802.7 1614,804.7 1596.8,814.3" fill="#B5AC8C" stroke="#B5AC8C" stroke-width="0.5" stroke-linejoin="round"/>
<polygon points="1599.1,813.9 1616.3,804.3 1619.7,806.3 1602.5,815.9" fill="#E6DEC0" stroke="#E6DEC0" stroke-width="0.5" stroke-linejoin="round"/>
<polygon points="1599.1,813.9 1602.5,815.9 1602.5,818 1599.1,815.9" fill="#C9C0A0" stroke="#C9C0A0" stroke-width="0.5" stroke-linejoin="round"/>
<polygon points="1602.5,815.9 1619.7,806.3 1619.7,808.4 1602.5,818" fill="#B5AC8C" stroke="#B5AC8C" stroke-width="0.5" stroke-linejoin="round"/>
<path d="M1616.4,809.3 L1616.4,825.8 A3.3,1.3 0 0 0 1623,825.8 L1623,809.3 A3.3,1.3 0 0 1 1616.4,809.3 Z" fill="#A0705C"/>
<ellipse cx="1619.7" cy="809.3" rx="3.3" ry="1.3" fill="#B98A74"/>
<path d="M1625.1,814.3 L1625.1,830.8 A3.3,1.3 0 0 0 1631.7,830.8 L1631.7,814.3 A3.3,1.3 0 0 1 1625.1,814.3 Z" fill="#A0705C"/>
<ellipse cx="1628.4" cy="814.3" rx="3.3" ry="1.3" fill="#B98A74"/>
<polygon points="1648.4,803.3 1703.3,836.8 1703.3,858.3 1648.4,825.8" fill="#58A8C3" stroke="#58A8C3" stroke-width="0.5" stroke-linejoin="round"/>
<polygon points="1703.3,836.8 1748.5,812.5 1748.5,832.7 1703.3,858.3" fill="#A6D9EA" stroke="#A6D9EA" stroke-width="0.5" stroke-linejoin="round"/>
<polygon points="1644.5,799.4 1693,773.8 1753,808.6 1703.3,837.7" fill="#B9E1EE" stroke="#B9E1EE" stroke-width="0.5" stroke-linejoin="round"/>
<polygon points="1652.8,812.4 1656.9,814.9 1656.9,823.2 1652.8,820.7" fill="#3E86A2" stroke="#3E86A2" stroke-width="0.5" stroke-linejoin="round"/>
<polygon points="1660.5,817.1 1664.6,819.6 1664.6,827.9 1660.5,825.4" fill="#3E86A2" stroke="#3E86A2" stroke-width="0.5" stroke-linejoin="round"/>
<polygon points="1682.4,830.5 1686.6,833 1686.6,841.3 1682.4,838.7" fill="#3E86A2" stroke="#3E86A2" stroke-width="0.5" stroke-linejoin="round"/>
<polygon points="1691.2,835.8 1695.4,838.4 1695.4,846.6 1691.2,844.1" fill="#3E86A2" stroke="#3E86A2" stroke-width="0.5" stroke-linejoin="round"/>
<polygon points="1659.8,825.8 1670.1,821.2 1683.9,829.2 1673.6,834.5" fill="#B8B09A" stroke="#B8B09A" stroke-width="0.5" stroke-linejoin="round"/>
<polygon points="1662.1,832.7 1674.7,839.5 1674.7,846.4 1662.1,839.5" fill="#9A9480" stroke="#9A9480" stroke-width="0.5" stroke-linejoin="round"/>
<polygon points="1663.3,840.7 1687.3,853.3 1687.3,849.8 1666.7,837.7" fill="#B8B09A" stroke="#B8B09A" stroke-width="0.5" stroke-linejoin="round"/>
<polygon points="1679.3,785.7 1694.2,779.5 1708.4,788.7 1694.2,796" fill="#A8A8AA" stroke="#A8A8AA" stroke-width="0.5" stroke-linejoin="round"/>
<polygon points="1679.3,785.7 1694.2,796 1694.2,798.3 1679.3,788" fill="#8E8E90" stroke="#8E8E90" stroke-width="0.5" stroke-linejoin="round"/>
<polygon points="1715.5,807.5 1724,802.9 1730.1,806.5 1721.7,811.6" fill="#E8E8E8" stroke="#E8E8E8" stroke-width="0.5" stroke-linejoin="round"/>
<polygon points="1715.5,807.5 1721.7,811.6 1721.7,814.3 1715.5,810.2" fill="#C9C9C9" stroke="#C9C9C9" stroke-width="0.5" stroke-linejoin="round"/>
<ellipse cx="1722.8" cy="807" rx="3" ry="1.8" fill="#D8CFA8"/>
<line x1="1583.5" y1="806.8" x2="1688.4" y2="863.4" stroke="#E8F2F5" stroke-width="0.8" stroke-linecap="butt" />
<line x1="1583.5" y1="806.8" x2="1583.5" y2="811.4" stroke="#DCEBF0" stroke-width="0.7" stroke-linecap="butt" />
<line x1="1590.1" y1="810.3" x2="1590.1" y2="814.9" stroke="#DCEBF0" stroke-width="0.7" stroke-linecap="butt" />
<line x1="1596.7" y1="813.8" x2="1596.7" y2="818.4" stroke="#DCEBF0" stroke-width="0.7" stroke-linecap="butt" />
<line x1="1603.2" y1="817.4" x2="1603.2" y2="822" stroke="#DCEBF0" stroke-width="0.7" stroke-linecap="butt" />
<line x1="1609.8" y1="820.9" x2="1609.8" y2="825.5" stroke="#DCEBF0" stroke-width="0.7" stroke-linecap="butt" />
<line x1="1616.3" y1="824.5" x2="1616.3" y2="829" stroke="#DCEBF0" stroke-width="0.7" stroke-linecap="butt" />
<line x1="1622.9" y1="828" x2="1622.9" y2="832.6" stroke="#DCEBF0" stroke-width="0.7" stroke-linecap="butt" />
<line x1="1629.4" y1="831.5" x2="1629.4" y2="836.1" stroke="#DCEBF0" stroke-width="0.7" stroke-linecap="butt" />
<line x1="1636" y1="835.1" x2="1636" y2="839.6" stroke="#DCEBF0" stroke-width="0.7" stroke-linecap="butt" />
<line x1="1642.5" y1="838.6" x2="1642.5" y2="843.2" stroke="#DCEBF0" stroke-width="0.7" stroke-linecap="butt" />
<line x1="1649.1" y1="842.1" x2="1649.1" y2="846.7" stroke="#DCEBF0" stroke-width="0.7" stroke-linecap="butt" />
<line x1="1655.7" y1="845.7" x2="1655.7" y2="850.3" stroke="#DCEBF0" stroke-width="0.7" stroke-linecap="butt" />
<line x1="1662.2" y1="849.2" x2="1662.2" y2="853.8" stroke="#DCEBF0" stroke-width="0.7" stroke-linecap="butt" />
<line x1="1668.8" y1="852.7" x2="1668.8" y2="857.3" stroke="#DCEBF0" stroke-width="0.7" stroke-linecap="butt" />
<line x1="1675.3" y1="856.3" x2="1675.3" y2="860.9" stroke="#DCEBF0" stroke-width="0.7" stroke-linecap="butt" />
<line x1="1681.9" y1="859.8" x2="1681.9" y2="864.4" stroke="#DCEBF0" stroke-width="0.7" stroke-linecap="butt" />
<line x1="1688.4" y1="863.4" x2="1688.4" y2="867.9" stroke="#DCEBF0" stroke-width="0.7" stroke-linecap="butt" />
<line x1="1688.4" y1="863.4" x2="1765.2" y2="821.7" stroke="#E8F2F5" stroke-width="0.8" stroke-linecap="butt" />
<line x1="1688.4" y1="863.4" x2="1688.4" y2="867.9" stroke="#DCEBF0" stroke-width="0.7" stroke-linecap="butt" />
<line x1="1695.4" y1="859.6" x2="1695.4" y2="864.1" stroke="#DCEBF0" stroke-width="0.7" stroke-linecap="butt" />
<line x1="1702.4" y1="855.8" x2="1702.4" y2="860.4" stroke="#DCEBF0" stroke-width="0.7" stroke-linecap="butt" />
<line x1="1709.4" y1="852" x2="1709.4" y2="856.6" stroke="#DCEBF0" stroke-width="0.7" stroke-linecap="butt" />
<line x1="1716.4" y1="848.2" x2="1716.4" y2="852.8" stroke="#DCEBF0" stroke-width="0.7" stroke-linecap="butt" />
<line x1="1723.3" y1="844.4" x2="1723.3" y2="849" stroke="#DCEBF0" stroke-width="0.7" stroke-linecap="butt" />
<line x1="1730.3" y1="840.6" x2="1730.3" y2="845.2" stroke="#DCEBF0" stroke-width="0.7" stroke-linecap="butt" />
<line x1="1737.3" y1="836.8" x2="1737.3" y2="841.4" stroke="#DCEBF0" stroke-width="0.7" stroke-linecap="butt" />
<line x1="1744.3" y1="833" x2="1744.3" y2="837.6" stroke="#DCEBF0" stroke-width="0.7" stroke-linecap="butt" />
<line x1="1751.2" y1="829.2" x2="1751.2" y2="833.8" stroke="#DCEBF0" stroke-width="0.7" stroke-linecap="butt" />
<line x1="1758.2" y1="825.5" x2="1758.2" y2="830" stroke="#DCEBF0" stroke-width="0.7" stroke-linecap="butt" />
<line x1="1765.2" y1="821.7" x2="1765.2" y2="826.2" stroke="#DCEBF0" stroke-width="0.7" stroke-linecap="butt" />
<polygon points="1641.5,936.9 1661,928.4 1677.5,938 1663.3,948.6" fill="#6F9AC1" stroke="#6F9AC1" stroke-width="0.5" stroke-linejoin="round"/>
<polygon points="1641.5,936.9 1663.3,948.6 1663.3,950.9 1641.5,939.2" fill="#5A84AA" stroke="#5A84AA" stroke-width="0.5" stroke-linejoin="round"/>
<line x1="1644.5" y1="940.3" x2="1644.5" y2="956.8" stroke="#6FA9C9" stroke-width="1" stroke-linecap="butt" />
<line x1="1663.3" y1="950.6" x2="1663.3" y2="967.1" stroke="#6FA9C9" stroke-width="1" stroke-linecap="butt" />
<line x1="1652.3" y1="944.9" x2="1652.3" y2="961.4" stroke="#6FA9C9" stroke-width="1" stroke-linecap="butt" />
<polygon points="1649.5,944.9 1661,950.6 1661,962.1 1649.5,956.4" fill="#C9B98A" fill-opacity="0.7"/>
<!-- industry -->
<defs><linearGradient id="g701" x1="0" y1="0" x2="1" y2="0"><stop offset="0" stop-color="#9DB8F8"/><stop offset="0.45" stop-color="#86A8F4"/><stop offset="1" stop-color="#7494EC"/></linearGradient><linearGradient id="g702" x1="0" y1="0" x2="1" y2="0"><stop offset="0" stop-color="#FA9A4A"/><stop offset="0.5" stop-color="#F58A3C"/><stop offset="1" stop-color="#E87030"/></linearGradient><linearGradient id="g703" x1="0" y1="0" x2="1" y2="0"><stop offset="0" stop-color="#C9D6FC"/><stop offset="0.5" stop-color="#B5C6FA"/><stop offset="1" stop-color="#9DB2F2"/></linearGradient><linearGradient id="g704" x1="0" y1="0" x2="1" y2="0"><stop offset="0" stop-color="#EF7A55"/><stop offset="0.5" stop-color="#E8694A"/><stop offset="1" stop-color="#D5553A"/></linearGradient></defs>
<polygon points="984.2,1071.7 1175.6,1180.8 1175.6,1187.8 984.2,1078.7" fill="#A9A9AB" stroke="#A9A9AB" stroke-width="0.5" stroke-linejoin="round"/>
<polygon points="1175.6,1180.8 1302.2,1106.8 1302.2,1113.8 1175.6,1187.8" fill="#CFCFD1" stroke="#CFCFD1" stroke-width="0.5" stroke-linejoin="round"/>
<polygon points="984.2,1071.7 1175.6,1180.8 1302.2,1106.8 1110.9,997.7" fill="#E3E3E5" stroke="#E3E3E5" stroke-width="0.5" stroke-linejoin="round"/>
<ellipse cx="1043.4" cy="1066.1" rx="33" ry="14" fill="#D0D0D2"/>
<polygon points="1065.6,1082.8 1078.5,1075.4 1115.5,1095.7 1104.4,1103.1" fill="#D2D2D4" stroke="#D2D2D4" stroke-width="0.5" stroke-linejoin="round"/>
<polygon points="1104.4,1116.1 1111.8,1112.4 1146.9,1132.7 1139.5,1136.4" fill="#D2D2D4" stroke="#D2D2D4" stroke-width="0.5" stroke-linejoin="round"/>
<path d="M1074.3,1007 C1075.1,1020 1068.1,1042.4 1065.6,1050.4 A25,10.7 0 0 0 1115.5,1050.4 C1113,1042.4 1106,1020 1106.8,1007 Z" fill="url(#g701)"/>
<path d="M1074.3,1007 L1075.4,1022.6 A15.1,6.3 0 0 0 1105.7,1022.6 L1106.8,1007 Z" fill="#B4C6FB"/>
<ellipse cx="1090.5" cy="1007" rx="16.3" ry="8.5" fill="#8AAAF6"/>
<ellipse cx="1090.5" cy="1008" rx="13.3" ry="6.7" fill="#39386F"/>
<ellipse cx="1090.5" cy="1009.6" rx="11.4" ry="4.2" fill="#4A4A8A" fill-opacity="0.6"/>
<polygon points="1112.7,1004.2 1137.7,1017.7 1137.7,1044 1112.7,1031" fill="#E0604A" stroke="#E0604A" stroke-width="0.5" stroke-linejoin="round"/>
<polygon points="1137.7,1017.7 1173.7,997.4 1173.7,1031 1137.7,1044" fill="#D8553F" stroke="#D8553F" stroke-width="0.5" stroke-linejoin="round"/>
<polygon points="1112.7,1004.2 1149.7,983.9 1173.7,997.4 1137.7,1017.7" fill="#E9745E" stroke="#E9745E" stroke-width="0.5" stroke-linejoin="round"/>
<polygon points="1121.1,1004.2 1149.7,988.5 1166.3,997.7 1137.7,1013.4" fill="#DA5C47" stroke="#DA5C47" stroke-width="0.5" stroke-linejoin="round"/>
<polygon points="1115.7,1013.9 1123.2,1017.9 1123.2,1021.4 1115.7,1017.3" fill="#4B79E2" stroke="#4B79E2" stroke-width="0.5" stroke-linejoin="round"/>
<polygon points="1115.7,1020.6 1123.2,1024.6 1123.2,1028.1 1115.7,1024.1" fill="#4B79E2" stroke="#4B79E2" stroke-width="0.5" stroke-linejoin="round"/>
<polygon points="1115.7,1027.3 1123.2,1031.3 1123.2,1034.8 1115.7,1030.8" fill="#4B79E2" stroke="#4B79E2" stroke-width="0.5" stroke-linejoin="round"/>
<polygon points="1126.5,1019.7 1133.9,1023.7 1133.9,1027.2 1126.5,1023.2" fill="#4B79E2" stroke="#4B79E2" stroke-width="0.5" stroke-linejoin="round"/>
<polygon points="1126.5,1026.4 1133.9,1030.4 1133.9,1033.9 1126.5,1029.9" fill="#4B79E2" stroke="#4B79E2" stroke-width="0.5" stroke-linejoin="round"/>
<polygon points="1126.5,1033.1 1133.9,1037.1 1133.9,1040.6 1126.5,1036.6" fill="#4B79E2" stroke="#4B79E2" stroke-width="0.5" stroke-linejoin="round"/>
<polygon points="1140.6,1021.8 1148.5,1017.4 1148.5,1020.3 1140.6,1024.7" fill="#4B79E2" stroke="#4B79E2" stroke-width="0.5" stroke-linejoin="round"/>
<polygon points="1140.6,1027.1 1148.5,1022.6 1148.5,1025.5 1140.6,1030" fill="#4B79E2" stroke="#4B79E2" stroke-width="0.5" stroke-linejoin="round"/>
<polygon points="1140.6,1032.3 1148.5,1027.9 1148.5,1030.8 1140.6,1035.2" fill="#4B79E2" stroke="#4B79E2" stroke-width="0.5" stroke-linejoin="round"/>
<polygon points="1140.6,1037.6 1148.5,1033.1 1148.5,1036 1140.6,1040.5" fill="#4B79E2" stroke="#4B79E2" stroke-width="0.5" stroke-linejoin="round"/>
<polygon points="1151.4,1015.7 1159.3,1011.3 1159.3,1014.2 1151.4,1018.6" fill="#4B79E2" stroke="#4B79E2" stroke-width="0.5" stroke-linejoin="round"/>
<polygon points="1151.4,1021 1159.3,1016.5 1159.3,1019.4 1151.4,1023.9" fill="#4B79E2" stroke="#4B79E2" stroke-width="0.5" stroke-linejoin="round"/>
<polygon points="1151.4,1026.2 1159.3,1021.8 1159.3,1024.7 1151.4,1029.1" fill="#4B79E2" stroke="#4B79E2" stroke-width="0.5" stroke-linejoin="round"/>
<polygon points="1151.4,1031.5 1159.3,1027 1159.3,1029.9 1151.4,1034.4" fill="#4B79E2" stroke="#4B79E2" stroke-width="0.5" stroke-linejoin="round"/>
<polygon points="1162.2,1009.6 1170.1,1005.2 1170.1,1008.1 1162.2,1012.5" fill="#4B79E2" stroke="#4B79E2" stroke-width="0.5" stroke-linejoin="round"/>
<polygon points="1162.2,1014.9 1170.1,1010.4 1170.1,1013.3 1162.2,1017.8" fill="#4B79E2" stroke="#4B79E2" stroke-width="0.5" stroke-linejoin="round"/>
<polygon points="1162.2,1020.1 1170.1,1015.7 1170.1,1018.6 1162.2,1023" fill="#4B79E2" stroke="#4B79E2" stroke-width="0.5" stroke-linejoin="round"/>
<polygon points="1162.2,1025.4 1170.1,1020.9 1170.1,1023.8 1162.2,1028.3" fill="#4B79E2" stroke="#4B79E2" stroke-width="0.5" stroke-linejoin="round"/>
<path d="M1029.9,1026.4 C1030.7,1038.9 1022.9,1060 1020.3,1068 A25.9,11.1 0 0 0 1072.1,1068 C1069.5,1060 1061.6,1038.9 1062.4,1026.4 Z" fill="url(#g701)"/>
<path d="M1029.9,1026.4 L1031,1041.4 A15.1,6.3 0 0 0 1061.3,1041.4 L1062.4,1026.4 Z" fill="#B4C6FB"/>
<ellipse cx="1046.2" cy="1026.4" rx="16.3" ry="8.5" fill="#8AAAF6"/>
<ellipse cx="1046.2" cy="1027.4" rx="13.3" ry="6.7" fill="#39386F"/>
<ellipse cx="1046.2" cy="1029" rx="11.4" ry="4.2" fill="#4A4A8A" fill-opacity="0.6"/>
<polygon points="1075.8,1048.6 1109,1066.5 1109,1104 1075.8,1085.5" fill="#A6BCF6" stroke="#A6BCF6" stroke-width="0.5" stroke-linejoin="round"/>
<polygon points="1075.8,1048.6 1110.9,1029.2 1142.3,1045.8 1109,1066.5" fill="#E6EDFD" stroke="#E6EDFD" stroke-width="0.5" stroke-linejoin="round"/>
<polygon points="1082.2,1049.1 1110.9,1033.8 1134,1046.2 1107.2,1062.4" fill="#A4BBF7" stroke="#A4BBF7" stroke-width="0.5" stroke-linejoin="round"/>
<polygon points="1075.8,1057.8 1109,1075.7 1109,1079.1 1075.8,1061.1" fill="#8CA6EE" stroke="#8CA6EE" stroke-width="0.5" stroke-linejoin="round"/>
<polygon points="1075.8,1065.2 1109,1083.1 1109,1086.5 1075.8,1068.5" fill="#8CA6EE" stroke="#8CA6EE" stroke-width="0.5" stroke-linejoin="round"/>
<polygon points="1075.8,1072.6 1109,1090.5 1109,1093.9 1075.8,1075.9" fill="#8CA6EE" stroke="#8CA6EE" stroke-width="0.5" stroke-linejoin="round"/>
<polygon points="1075.8,1080 1109,1097.9 1109,1101.3 1075.8,1083.3" fill="#8CA6EE" stroke="#8CA6EE" stroke-width="0.5" stroke-linejoin="round"/>
<polygon points="1110,1060.6 1149.2,1101.6 1149.2,1139.2 1110,1118.8" fill="#FBE5D7" stroke="#FBE5D7" stroke-width="0.5" stroke-linejoin="round"/>
<polygon points="1116.4,1073.5 1118.3,1074.5 1118.3,1106.8 1116.4,1105.9" fill="#8FA8F2" stroke="#8FA8F2" stroke-width="0.5" stroke-linejoin="round"/>
<polygon points="1122.9,1080.6 1124.8,1081.5 1124.8,1111.2 1122.9,1110.3" fill="#8FA8F2" stroke="#8FA8F2" stroke-width="0.5" stroke-linejoin="round"/>
<polygon points="1129.4,1087.6 1131.2,1088.5 1131.2,1115.7 1129.4,1114.8" fill="#8FA8F2" stroke="#8FA8F2" stroke-width="0.5" stroke-linejoin="round"/>
<polygon points="1135.8,1094.6 1137.7,1095.5 1137.7,1120.1 1135.8,1119.2" fill="#8FA8F2" stroke="#8FA8F2" stroke-width="0.5" stroke-linejoin="round"/>
<polygon points="1142.3,1101.6 1144.2,1102.6 1144.2,1124.6 1142.3,1123.6" fill="#8FA8F2" stroke="#8FA8F2" stroke-width="0.5" stroke-linejoin="round"/>
<polygon points="1122,1115.1 1137.3,1123.1 1137.3,1133.6 1122,1125.7" fill="#8FA8F2" stroke="#8FA8F2" stroke-width="0.5" stroke-linejoin="round"/>
<polygon points="1123.8,1117.5 1135.5,1123.4 1135.5,1132.3 1123.8,1126.4" fill="#A9BDF7" stroke="#A9BDF7" stroke-width="0.5" stroke-linejoin="round"/>
<polygon points="1149.2,1100.3 1201.3,1071.3 1201.3,1110.5 1149.2,1139.2" fill="#F4F6FD" stroke="#F4F6FD" stroke-width="0.5" stroke-linejoin="round"/>
<polygon points="1110.9,1058.4 1161.7,1030.6 1201.3,1071.3 1149.7,1100.2" fill="#5B83EA" stroke="#5B83EA" stroke-width="0.5" stroke-linejoin="round"/>
<line x1="1115.5" y1="1055.9" x2="1154.4" y2="1097.5" stroke="#4569D4" stroke-width="1" stroke-linecap="butt" />
<line x1="1120.1" y1="1053.3" x2="1159.1" y2="1094.9" stroke="#4569D4" stroke-width="1" stroke-linecap="butt" />
<line x1="1124.8" y1="1050.8" x2="1163.8" y2="1092.3" stroke="#4569D4" stroke-width="1" stroke-linecap="butt" />
<line x1="1129.4" y1="1048.3" x2="1168.5" y2="1089.7" stroke="#4569D4" stroke-width="1" stroke-linecap="butt" />
<line x1="1134" y1="1045.8" x2="1173.2" y2="1087" stroke="#4569D4" stroke-width="1" stroke-linecap="butt" />
<line x1="1138.6" y1="1043.2" x2="1177.8" y2="1084.4" stroke="#4569D4" stroke-width="1" stroke-linecap="butt" />
<line x1="1143.2" y1="1040.7" x2="1182.5" y2="1081.8" stroke="#4569D4" stroke-width="1" stroke-linecap="butt" />
<line x1="1147.9" y1="1038.2" x2="1187.2" y2="1079.2" stroke="#4569D4" stroke-width="1" stroke-linecap="butt" />
<line x1="1152.5" y1="1035.7" x2="1191.9" y2="1076.6" stroke="#4569D4" stroke-width="1" stroke-linecap="butt" />
<line x1="1157.1" y1="1033.2" x2="1196.6" y2="1073.9" stroke="#4569D4" stroke-width="1" stroke-linecap="butt" />
<polygon points="1149.7,1100.2 1201.3,1071.3 1201.3,1081.9 1149.7,1110.9" fill="#FFFFFF" stroke="#FFFFFF" stroke-width="0.5" stroke-linejoin="round"/>
<polygon points="1110,1060.6 1110.9,1058.4 1149.7,1100.2 1149.2,1102.4" fill="#FFF3EA" stroke="#FFF3EA" stroke-width="0.5" stroke-linejoin="round"/>
<path d="M1196.1,991.3 L1190.6,1080.9 A13.7,6.2 0 0 0 1217.9,1080.9 L1212.4,991.3 A8.1,3.7 0 0 1 1196.1,991.3 Z" fill="url(#g703)"/>
<path d="M1195.4,1002.5 A8.8,4 0 0 0 1213.1,1002.5 L1214,1017.1 A9.7,4.4 0 0 1 1194.5,1017.1 Z" fill="url(#g702)"/>
<path d="M1193.9,1027.2 A10.4,4.7 0 0 0 1214.6,1027.2 L1215.4,1040.7 A11.2,5 0 0 1 1193.1,1040.7 Z" fill="url(#g702)"/>
<path d="M1192.4,1052 A11.9,5.4 0 0 0 1216.1,1052 L1217,1065.5 A12.7,5.7 0 0 1 1191.5,1065.5 Z" fill="url(#g702)"/>
<path d="M1191,1074.5 A13.3,6 0 0 0 1217.5,1074.5 L1217.9,1080.9 A13.7,6.2 0 0 1 1190.6,1080.9 Z" fill="url(#g704)"/>
<ellipse cx="1204.2" cy="991.3" rx="8.1" ry="4.5" fill="#AFC2FA"/>
<ellipse cx="1204.2" cy="991.9" rx="6.5" ry="3.3" fill="#3D5DCC"/>
<polygon points="1144.2,1115.1 1162.1,1124.9 1162.1,1152.1 1144.2,1139.7" fill="#9FB3EE" stroke="#9FB3EE" stroke-width="0.5" stroke-linejoin="round"/>
<polygon points="1146.6,1120.1 1149.7,1121.8 1149.7,1125.3 1146.6,1123.6" fill="#E9EEFD" stroke="#E9EEFD" stroke-width="0.5" stroke-linejoin="round"/>
<polygon points="1146.6,1126.2 1149.7,1127.9 1149.7,1131.4 1146.6,1129.7" fill="#E9EEFD" stroke="#E9EEFD" stroke-width="0.5" stroke-linejoin="round"/>
<polygon points="1146.6,1132.3 1149.7,1134 1149.7,1137.5 1146.6,1135.8" fill="#E9EEFD" stroke="#E9EEFD" stroke-width="0.5" stroke-linejoin="round"/>
<polygon points="1146.6,1138.4 1149.7,1140.1 1149.7,1143.6 1146.6,1141.9" fill="#E9EEFD" stroke="#E9EEFD" stroke-width="0.5" stroke-linejoin="round"/>
<polygon points="1151.6,1122.7 1154.7,1124.4 1154.7,1127.9 1151.6,1126.2" fill="#E9EEFD" stroke="#E9EEFD" stroke-width="0.5" stroke-linejoin="round"/>
<polygon points="1151.6,1128.8 1154.7,1130.5 1154.7,1134 1151.6,1132.3" fill="#E9EEFD" stroke="#E9EEFD" stroke-width="0.5" stroke-linejoin="round"/>
<polygon points="1151.6,1134.9 1154.7,1136.6 1154.7,1140.1 1151.6,1138.4" fill="#E9EEFD" stroke="#E9EEFD" stroke-width="0.5" stroke-linejoin="round"/>
<polygon points="1151.6,1141 1154.7,1142.7 1154.7,1146.2 1151.6,1144.5" fill="#E9EEFD" stroke="#E9EEFD" stroke-width="0.5" stroke-linejoin="round"/>
<polygon points="1156.5,1125.3 1159.7,1127 1159.7,1130.5 1156.5,1128.8" fill="#E9EEFD" stroke="#E9EEFD" stroke-width="0.5" stroke-linejoin="round"/>
<polygon points="1156.5,1131.4 1159.7,1133.1 1159.7,1136.6 1156.5,1134.9" fill="#E9EEFD" stroke="#E9EEFD" stroke-width="0.5" stroke-linejoin="round"/>
<polygon points="1156.5,1137.5 1159.7,1139.2 1159.7,1142.7 1156.5,1141" fill="#E9EEFD" stroke="#E9EEFD" stroke-width="0.5" stroke-linejoin="round"/>
<polygon points="1156.5,1143.6 1159.7,1145.3 1159.7,1148.8 1156.5,1147.1" fill="#E9EEFD" stroke="#E9EEFD" stroke-width="0.5" stroke-linejoin="round"/>
<polygon points="1162.1,1124.9 1174.3,1118.8 1174.3,1147.5 1162.1,1152.1" fill="#FFFFFF" stroke="#FFFFFF" stroke-width="0.5" stroke-linejoin="round"/>
<polygon points="1174.3,1119.4 1180.6,1123.1 1180.6,1151.5 1174.3,1147.9" fill="#8DA4EA" stroke="#8DA4EA" stroke-width="0.5" stroke-linejoin="round"/>
<polygon points="1180.6,1123.1 1226.8,1099.4 1226.8,1127.1 1180.6,1151.5" fill="#FFFFFF" stroke="#FFFFFF" stroke-width="0.5" stroke-linejoin="round"/>
<polygon points="1144.2,1115.1 1178.4,1097.6 1202.8,1083.1 1226.8,1097.6 1180.6,1123.1 1174.3,1119.4 1162.1,1125.3" fill="#E9EEFD" stroke="#E9EEFD" stroke-width="0.5" stroke-linejoin="round"/>
<polygon points="1149.7,1115.1 1178.4,1100.3 1195,1109.6 1167.3,1123.8" fill="#AABEF8" stroke="#AABEF8" stroke-width="0.5" stroke-linejoin="round"/>
<polygon points="1189.5,1097.6 1203.3,1090.2 1220.9,1099.4 1207,1107.2" fill="#AABEF8" stroke="#AABEF8" stroke-width="0.5" stroke-linejoin="round"/>
<polygon points="1185.2,1125.2 1190.8,1122.4 1190.8,1124.9 1185.2,1127.7" fill="#5B83EA" stroke="#5B83EA" stroke-width="0.5" stroke-linejoin="round"/>
<polygon points="1185.2,1130.8 1190.8,1128 1190.8,1130.5 1185.2,1133.4" fill="#5B83EA" stroke="#5B83EA" stroke-width="0.5" stroke-linejoin="round"/>
<polygon points="1185.2,1136.4 1190.8,1133.6 1190.8,1136.1 1185.2,1139" fill="#5B83EA" stroke="#5B83EA" stroke-width="0.5" stroke-linejoin="round"/>
<polygon points="1185.2,1142.1 1190.8,1139.2 1190.8,1141.8 1185.2,1144.6" fill="#5B83EA" stroke="#5B83EA" stroke-width="0.5" stroke-linejoin="round"/>
<polygon points="1193.3,1121.1 1198.8,1118.2 1198.8,1120.8 1193.3,1123.6" fill="#5B83EA" stroke="#5B83EA" stroke-width="0.5" stroke-linejoin="round"/>
<polygon points="1193.3,1126.7 1198.8,1123.8 1198.8,1126.4 1193.3,1129.2" fill="#5B83EA" stroke="#5B83EA" stroke-width="0.5" stroke-linejoin="round"/>
<polygon points="1193.3,1132.3 1198.8,1129.5 1198.8,1132 1193.3,1134.8" fill="#5B83EA" stroke="#5B83EA" stroke-width="0.5" stroke-linejoin="round"/>
<polygon points="1193.3,1137.9 1198.8,1135.1 1198.8,1137.6 1193.3,1140.5" fill="#5B83EA" stroke="#5B83EA" stroke-width="0.5" stroke-linejoin="round"/>
<polygon points="1201.4,1116.9 1206.9,1114.1 1206.9,1116.6 1201.4,1119.5" fill="#5B83EA" stroke="#5B83EA" stroke-width="0.5" stroke-linejoin="round"/>
<polygon points="1201.4,1122.5 1206.9,1119.7 1206.9,1122.2 1201.4,1125.1" fill="#5B83EA" stroke="#5B83EA" stroke-width="0.5" stroke-linejoin="round"/>
<polygon points="1201.4,1128.2 1206.9,1125.3 1206.9,1127.9 1201.4,1130.7" fill="#5B83EA" stroke="#5B83EA" stroke-width="0.5" stroke-linejoin="round"/>
<polygon points="1201.4,1133.8 1206.9,1130.9 1206.9,1133.5 1201.4,1136.3" fill="#5B83EA" stroke="#5B83EA" stroke-width="0.5" stroke-linejoin="round"/>
<polygon points="1209.5,1112.8 1215,1109.9 1215,1112.5 1209.5,1115.3" fill="#5B83EA" stroke="#5B83EA" stroke-width="0.5" stroke-linejoin="round"/>
<polygon points="1209.5,1118.4 1215,1115.6 1215,1118.1 1209.5,1120.9" fill="#5B83EA" stroke="#5B83EA" stroke-width="0.5" stroke-linejoin="round"/>
<polygon points="1209.5,1124 1215,1121.2 1215,1123.7 1209.5,1126.6" fill="#5B83EA" stroke="#5B83EA" stroke-width="0.5" stroke-linejoin="round"/>
<polygon points="1209.5,1129.6 1215,1126.8 1215,1129.3 1209.5,1132.2" fill="#5B83EA" stroke="#5B83EA" stroke-width="0.5" stroke-linejoin="round"/>
<polygon points="1217.6,1108.6 1223.1,1105.8 1223.1,1108.3 1217.6,1111.2" fill="#5B83EA" stroke="#5B83EA" stroke-width="0.5" stroke-linejoin="round"/>
<polygon points="1217.6,1114.3 1223.1,1111.4 1223.1,1114 1217.6,1116.8" fill="#5B83EA" stroke="#5B83EA" stroke-width="0.5" stroke-linejoin="round"/>
<polygon points="1217.6,1119.9 1223.1,1117 1223.1,1119.6 1217.6,1122.4" fill="#5B83EA" stroke="#5B83EA" stroke-width="0.5" stroke-linejoin="round"/>
<polygon points="1217.6,1125.5 1223.1,1122.7 1223.1,1125.2 1217.6,1128" fill="#5B83EA" stroke="#5B83EA" stroke-width="0.5" stroke-linejoin="round"/>
<path d="M1180.2,1107.7 L1180.2,1100.3 L1202.8,1112.7 L1202.8,1141" fill="none" stroke="#4B79E2" stroke-width="2.2" stroke-linejoin="round"/>
<path d="M1191.3,1102.2 L1191.3,1094.8 L1213.9,1107.2 L1213.9,1135.5" fill="none" stroke="#4B79E2" stroke-width="2.2" stroke-linejoin="round"/>
<polygon points="1199.6,1091.1 1205.2,1088.3 1210.7,1091.5 1205.2,1094.2" fill="#FFFFFF" stroke="#FFFFFF" stroke-width="0.5" stroke-linejoin="round"/>
<path d="M1231.6,1014.4 L1225,1109 A14.8,6.7 0 0 0 1254.5,1109 L1247.9,1014.4 A8.1,3.7 0 0 1 1231.6,1014.4 Z" fill="url(#g703)"/>
<path d="M1230.9,1025 A8.9,4 0 0 0 1248.6,1025 L1249.7,1039.6 A9.9,4.5 0 0 1 1229.8,1039.6 Z" fill="url(#g702)"/>
<path d="M1229.1,1049.7 A10.6,4.8 0 0 0 1250.4,1049.7 L1251.3,1063.2 A11.6,5.2 0 0 1 1228.2,1063.2 Z" fill="url(#g702)"/>
<path d="M1227.4,1074.5 A12.4,5.6 0 0 0 1252.1,1074.5 L1253.1,1088 A13.3,6 0 0 1 1226.4,1088 Z" fill="url(#g702)"/>
<path d="M1225.9,1095.9 A13.9,6.2 0 0 0 1253.6,1095.9 L1254.5,1109 A14.8,6.7 0 0 1 1225,1109 Z" fill="url(#g704)"/>
<ellipse cx="1239.7" cy="1014.4" rx="8.1" ry="4.5" fill="#AFC2FA"/>
<ellipse cx="1239.7" cy="1015" rx="6.5" ry="3.3" fill="#3D5DCC"/>
<!-- labels -->
<line x1="1529.6" y1="575.3" x2="1567.2" y2="586.7" stroke="#48DE48" stroke-width="1" stroke-linecap="butt" />
<g opacity="0.999">
<text transform="translate(182.3,228.1) rotate(29.8)" font-size="20.7">Thermal Power Station</text>
<text transform="translate(420,359.3) rotate(29.4)" font-size="24.2">Transmission line</text>
<text transform="translate(620.9,482.2) rotate(30)" font-size="24.2">Substation</text>
<text transform="translate(891.8,639.1) rotate(28.8)" font-size="24.3">Distribution Line</text>
<text transform="translate(235.9,538.6) rotate(28)" font-size="24.2">Wind Power</text>
<text transform="translate(247.2,801.4) rotate(27.7)" font-size="24.4">Solar Power</text>
<text transform="translate(213.2,1059.5) rotate(29.6)" font-size="24.4">Hydroelectric Power</text>
<text transform="translate(1247.6,610.5) rotate(-31.8)" font-size="24.1">Distribution Transformer</text>
<text transform="translate(1652,386.4) rotate(-28.1)" font-size="24.3">Residential</text>
<text transform="translate(1621.9,708.6) rotate(-30.5)" font-size="24.2">EV Charging Station</text>
<text transform="translate(1207.4,957.2) rotate(-31.8)" font-size="24.2">Distribution Transformer</text>
<text transform="translate(1701.5,1017.1) rotate(-30)" font-size="24.2">Commercial</text>
<text transform="translate(1222.7,1191.5) rotate(-30.2)" font-size="24.2">Industry</text>
</g>
</svg>
</body></html>
